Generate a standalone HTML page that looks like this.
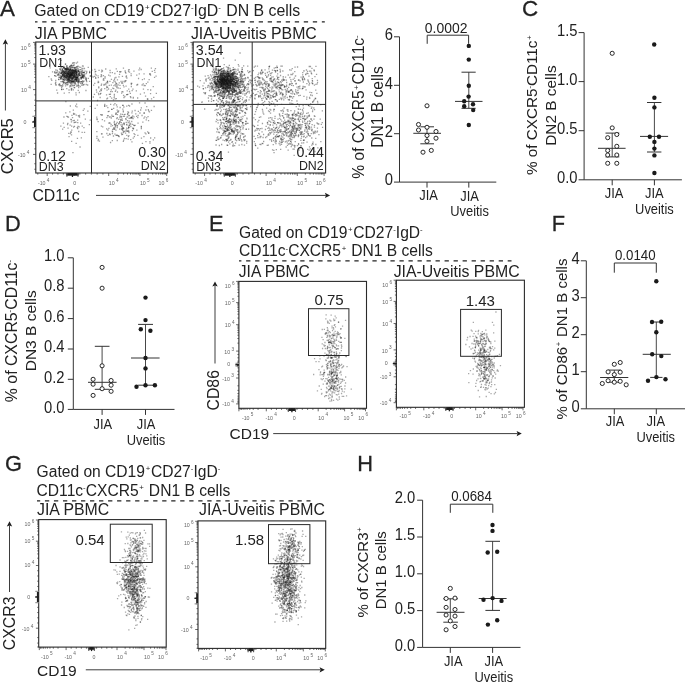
<!DOCTYPE html>
<html><head><meta charset="utf-8"><title>Figure</title>
<style>html,body{margin:0;padding:0;background:#fff;}body{width:685px;height:682px;overflow:hidden;font-family:"Liberation Sans", sans-serif;}svg{display:block;will-change:transform;}</style>
</head><body>
<svg width="685" height="682" viewBox="0 0 685 682" font-family='"Liberation Sans", sans-serif' fill="#222"><defs><filter id="bl" x="-5%" y="-5%" width="110%" height="110%"><feGaussianBlur stdDeviation="0.35"/></filter></defs><text x="0.10" y="15.60" font-size="22.4" stroke="#222" stroke-width="0.28">A</text>
<text font-size="15.85" transform="translate(34.30 15.80)">Gated on CD19<tspan dx="0.71" dy="-5.71" font-size="7.92">+</tspan><tspan dx="0.71" dy="5.71">CD27</tspan><tspan dx="0.00" dy="-5.71" font-size="7.92">-</tspan><tspan dx="0.00" dy="5.71">IgD</tspan><tspan dx="0.00" dy="-5.71" font-size="7.92">-</tspan><tspan dx="0.95" dy="5.71"> DN B cells</tspan></text>
<line x1="35.00" y1="21.80" x2="324.80" y2="21.80" stroke="#222" stroke-width="1.2" stroke-dasharray="4.3 4.72" stroke-dashoffset="1.8"/>
<text font-size="15.85" transform="translate(34.80 38.80)">JIA PBMC</text>
<text font-size="15.85" transform="translate(190.90 38.90)">JIA-Uveitis PBMC</text>
<g filter="url(#bl)"><path d="M49 65.1h1.3m22.7 0.2h1.3m-8.4 0.5h1.3m-0.9 0.2h1.3m9.6 0.1h1.3m-1 0.3h1.3m-2.6 0.5h1.3m-28 1h1.3m15.5 0.3h1.3m-0.3 0.5h1.3m86.2 0h1.3m-87.4 0.1h1.3m45.6 0.1h1.3m-11.8 0.1h1.3m-44.9 0h1.3m3.7 0.3h1.3m7.6 0.1h1.3m63.8 0.1h1.3m-74.4 0.1h1.3m59.8 0.1h1.3m-60.2 0h1.3m-9.4 0h1.3m12.7 0.2h1.3m-4.2 0h1.3m-4.7 0.1h1.3m11.6 0.1h1.3m7.9 0.1h1.3m61.3 0.1h1.3m-56.8 0h1.3m-28.4 0h1.3m0.5 0.2h1.3m-2.6 0h1.3m-11.8 0.1h1.3m11.2 0h1.3m-1.2 0.3h1.3m-5.4 0h1.3m3.3 0h1.3m-5.4 0.1h1.3m-6.1 0.1h1.3m7.1 0.2h1.3m-8.8 0h1.3m2.7 0.1h1.3m3.1 0h1.3m-11.4 0.1h1.3m-2.9 0.2h1.3m8.9 0h1.3m44.5 0h1.3m-45.8 0.1h1.3m-11.9 0.2h1.3m14.7 0h1.3m-8.6 0.2h1.3m-10.2 0.1h1.3m9.9 0h1.3m5.2 0h1.3m6.2 0.2h1.3m-31.2 0h1.3m15.7 0h1.3m-16.9 0.1h1.3m11.3 0h1.3m-5 0.1h1.3m4 0.1h1.3m-4.8 0.1h1.3m4.5 0h1.3m-6.2 0h1.3m-7.1 0h1.3m0.2 0.2h1.3m-13.5 0h1.3m11.7 0h1.3m-15.2 0.1h1.3m25 0.1h1.3m-4.6 0.1h1.3m-6.1 0h1.3m-0.1 0.1h1.3m-3.3 0.1h1.3m-5.5 0.1h1.3m2.7 0h1.3m-9 0.2h1.3m5.7 0h1.3m-2.6 0.1h1.3m6.5 0.3h1.3m-7.2 0.1h1.3m-1.6 0h1.3m-9.4 0.1h1.3m-1.2 0h1.3m7.1 0.1h1.3m-11.3 0.2h1.3m2.5 0.1h1.3m-4.7 0.1h1.3m10.3 0h1.3m0.9 0.1h1.3m-11.7 0h1.3m16.1 0.1h1.3m-11.1 0h1.3m-5.6 0.1h1.3m12 0.1h1.3m-4.9 0.1h1.3m-9.5 0h1.3m-17.6 0.1h1.3m8.3 0h1.3m-1.1 0.2h1.3m1.6 0.2h1.3m1.9 0h1.3m-1.4 0.1h1.3m-9.4 0h1.3m5.1 0h1.3m-5.7 0.1h1.3m24.5 0h1.3m-9.4 0h1.3m11 0.2h1.3m-31.6 0.1h1.3m8.6 0.2h1.3m7.1 0h1.3m-22.5 0.1h1.3m19.7 0h1.3m-14.6 0.1h1.3m55.7 0h1.3m-34.2 0.1h1.3m-18.2 0.1h1.3m3.3 0h1.3m-15.3 0h1.3m8.9 0.2h1.3m-11.9 0h1.3m86.8 0h1.3m-96.7 0h1.3m-0.1 0.1h1.3m4.5 0h1.3m30.9 0.2h1.3m-38.4 0.1h1.3m7.3 0.1h1.3m2.8 0h1.3m-14.1 0.1h1.3m13.8 0.1h1.3m-7.2 0.2h1.3m-1.8 0h1.3m17.2 0.1h1.3m-11.5 0h1.3m16.3 0h1.3m-27.8 0.3h1.3m-2.4 0.2h1.3m7.7 0.1h1.3m-0.4 0.2h1.3m-2.9 0.1h1.3m-13.3 0.4h1.3m1.1 0h1.3m8.8 0h1.3m-2.7 0.1h1.3m-7.5 0.1h1.3m33.3 0.3h1.3m-30.5 0.2h1.3m-11.7 0.2h1.3m5.6 0.2h1.3m10 0.1h1.3m-12.5 0h1.3m2.1 0.2h1.3m2.4 0h1.3m-4.4 0.1h1.3m1.5 0.1h1.3m-5.2 0.1h1.3m-2.9 0h1.3m2.2 0.1h1.3m29.9 0.1h1.3m6.4 0h1.3m-39.3 0.2h1.3m-5.7 0.4h1.3m-5 0.4h1.3m61.5 0.8h1.3m10.2 0.6h1.3m-76.6 0.2h1.3m6.6 0.3h1.3m38 0.2h1.3m-38.1 0.4h1.3m3.9 0h1.3m-25.9 0.1h1.3m63.1 0.2h1.3m-47.1 0.2h1.3m-5.7 0.3h1.3m-14.3 0.1h1.3m16.6 0.1h1.3m27.5 0.3h1.3m-1.5 1.2h1.3m-33.3 0h1.3m67.5 1.6h1.3m-81.4 0.2h1.3m8.7 0.5h1.3m-3.2 0.3h1.3m13.2 0.4h1.3m28.1 0.9h1.3m-19.9 0.7h1.3m-33.8 1.1h1.3m48.8 1.2h1.3m-9.1 0.5h1.3m45.9 2.5h1.3m-17.4 0.6h1.3m0.6 4.9h1.3m-43.6 2.3h1.3m8.2 0.6h1.3m-3.3 0.3h1.3m-29.1 0.7h1.3m62.4 3.2h1.3m-24.7 0.2h1.3m32.9 0.1h1.3m-29.4 1.5h1.3m24.8 0.1h1.3m-6.5 1.1h1.3m-72 0.3h1.3m52.7 1.2h1.3m-4.7 0.2h1.3m-17.3 1h1.3m4 0.6h1.3m-46.3 0.8h1.3m61.5 0.2h1.3m-12.6 0.4h1.3m-4 0h1.3m7.2 1h1.3m-5 0.1h1.3m-26.2 0.7h1.3m-27.1 0.4h1.3m1.7 0.6h1.3m52 0.2h1.3m9.1 2.4h1.3m-75.9 0.1h1.3m3.1 0.1h1.3m54.1 0.6h1.3m-5.9 0h1.3m10.7 0.1h1.3m-17.4 0.1h1.3m8.4 0.5h1.3m-4.7 0.2h1.3m-7 0.5h1.3m0.6 0.2h1.3m-7.4 0.6h1.3m9.7 0.4h1.3m7.6 0h1.3m-14.9 1h1.3m-34.6 0.1h1.3m37.4 0.2h1.3m-1 0.4h1.3m-56.2 0h1.3m39.5 0.2h1.3m31.2 0.1h1.3m-36 0.4h1.3m4.4 2.3h1.3m15.2 0h1.3m-2.3 0h1.3m-58.5 0.9h1.3m49.5 1h1.3m25.9 0.1h1.3m-53 3.3h1.3m43.2 1.7h1.3m-65.3 0.1h1.3m45.7 0.2h1.3m0.4 0.1h1.3m3.3 1h1.3" stroke="#000" stroke-opacity="0.38" stroke-width="1.3" fill="none"/><path d="M64.9 64.2h1.3m-7.2 0.1h1.3m13.2 0.5h1.3m-3.8 1h1.3m-6 0.3h1.3m-4.4 0.4h1.3m11.8 0.1h1.3m-8.8 0.2h1.3m-4.2 0.2h1.3m8.5 0.2h1.3m-4 0.1h1.3m5.8 0.1h1.3m6.2 0h1.3m-14.6 0.1h1.3m-5.9 0.2h1.3m-7.4 0.1h1.3m10.5 0.2h1.3m0.2 0.2h1.3m72.5 0h1.3m-87.4 0.5h1.3m-1 0h1.3m3.8 0.3h1.3m0.6 0.3h1.3m-3.2 0h1.3m-6 0h1.3m1 0.1h1.3m25.3 0.1h1.3m-26.9 0.1h1.3m-10.4 0h1.3m12.4 0.5h1.3m-10 0h1.3m8.3 0.1h1.3m-4.5 0.1h1.3m-6.3 0.1h1.3m5.8 0.2h1.3m2.7 0.2h1.3m-14.1 0.2h1.3m9.7 0.1h1.3m-5.7 0.1h1.3m-0.3 0h1.3m-5.7 0.2h1.3m-6.6 0h1.3m25.6 0h1.3m-26.3 0.1h1.3m29.2 0.4h1.3m-17.2 0.1h1.3m-8 0.1h1.3m2.5 0h1.3m-4.7 0h1.3m-5.9 0.2h1.3m6.7 0.1h1.3m5.6 0h1.3m-22.5 0.2h1.3m26.3 0h1.3m-26 0.3h1.3m1.7 0.1h1.3m-6.4 0.1h1.3m5.7 0h1.3m-1 0.1h1.3m-4.2 0.1h1.3m-8.3 0h1.3m14.8 0.1h1.3m-11.8 0.1h1.3m8.1 0h1.3m-1.3 0h1.3m-5.3 0.1h1.3m13.6 0.1h1.3m-26.2 0h1.3m2.1 0h1.3m14.2 0.1h1.3m57.8 0h1.3m3.5 0h1.3m-80.5 0.1h1.3m12.8 0.1h1.3m-11.6 0.2h1.3m14.7 0.1h1.3m-4.1 0.1h1.3m-12.2 0h1.3m1.7 0.2h1.3m-2.8 0h1.3m2.4 0.1h1.3m2.2 0h1.3m-12.3 0.1h1.3m-7.4 0.1h1.3m-5.7 0h1.3m25 0.1h1.3m-18.3 0.1h1.3m39.9 0h1.3m-38.2 0.2h1.3m10 0h1.3m-20.6 0h1.3m6.1 0h1.3m2.6 0.1h1.3m3.9 0.2h1.3m-12.1 0h1.3m-0.3 0.2h1.3m6.2 0.1h1.3m-8.2 0h1.3m1.3 0.2h1.3m9.8 0.2h1.3m36.4 0.1h1.3m-56.3 0.2h1.3m-19.9 0.1h1.3m28.2 0.2h1.3m39.3 0h1.3m-50.4 0.2h1.3m6.9 0h1.3m-0.9 0h1.3m-4.9 0.1h1.3m1.6 0.2h1.3m-2.7 0.1h1.3m18 0h1.3m-20 0.1h1.3m-12.1 0.1h1.3m-2 0h1.3m15.5 0h1.3m-12.9 0.1h1.3m-5.9 0.1h1.3m0.5 0.1h1.3m-0.6 0h1.3m1.9 0.1h1.3m-11 0h1.3m7.9 0h1.3m0 0h1.3m-1.2 0.1h1.3m-6.5 0h1.3m-1.8 0.1h1.3m-0.1 0h1.3m14.3 0h1.3m-12.7 0h1.3m2.5 0.1h1.3m-2.4 0.3h1.3m-15.8 0h1.3m-10.6 0.3h1.3m10.9 0.1h1.3m7.7 0.1h1.3m-1.7 0.1h1.3m-4.8 0h1.3m9.4 0h1.3m-4.9 0.1h1.3m1.3 0.1h1.3m-2.5 0.2h1.3m-3.1 0h1.3m-5.5 0.2h1.3m-3.9 0.1h1.3m-5.7 0h1.3m12.3 0.2h1.3m-11.3 0.3h1.3m57 0.1h1.3m-13.6 0.2h1.3m-46.5 0.1h1.3m1.9 0.3h1.3m50 0.1h1.3m-53.8 0h1.3m-0.6 0.4h1.3m0.7 0.2h1.3m8.6 0.3h1.3m-28.6 0.1h1.3m50.7 0.6h1.3m10.2 0h1.3m2.1 0.1h1.3m-49.1 0.1h1.3m-12.8 0.1h1.3m5.9 0h1.3m59.3 0.2h1.3m-58 0.1h1.3m-4.9 0.6h1.3m-16.1 1.1h1.3m46.6 0h1.3m-4 0.1h1.3m42.7 0.4h1.3m-75.9 0.3h1.3m54.1 0.2h1.3m-56.5 0.1h1.3m51.8 0.5h1.3m-55.5 0.1h1.3m27.7 0.9h1.3m-33.3 0.9h1.3m36.7 0h1.3m-44.4 0.6h1.3m37.8 0.6h1.3m5 0.3h1.3m-8.6 1.2h1.3m11.2 0.3h1.3m13.6 2.9h1.3m17.1 1.6h1.3m-22 0.3h1.3m-9.8 2.1h1.3m29.8 0.4h1.3m-16.8 5h1.3m-16.7 1h1.3m5.3 0.3h1.3m-54.1 0.7h1.3m57.9 0h1.3m23.3 0.5h1.3m-8.7 0.1h1.3m-6.7 1.3h1.3m-47.5 0.5h1.3m15.6 0.9h1.3m-30.1 1h1.3m33.6 1.6h1.3m9.1 0.6h1.3m-13.9 1.4h1.3m-42.6 0.1h1.3m44.7 0.1h1.3m-48.3 0.2h1.3m47.4 0.1h1.3m-6.2 0.2h1.3m19.4 0.9h1.3m-60.4 1.2h1.3m-0.8 0.4h1.3m-8.3 0.5h1.3m33.1 0.1h1.3m23.1 0.3h1.3m-6.6 1.5h1.3m-6.5 0.1h1.3m-44.5 0.6h1.3m69.6 0.5h1.3m-72.1 1.9h1.3m42.3 0.1h1.3m-42 0.4h1.3m42.4 0.5h1.3m-10.9 0.7h1.3m6.2 0.7h1.3m3.4 0.1h1.3m-10.8 0.8h1.3m-57.9 0.2h1.3m12.3 0.3h1.3m65.6 0.8h1.3m-65.3 0.4h1.3m44.6 0.2h1.3m-1.5 1h1.3m-9.8 0.3h1.3m-7.9 0.9h1.3m27.6 0.1h1.3m-25.6 1.8h1.3m-42.5 0.2h1.3m76.1 0.9h1.3m-24.5 0.2h1.3m-14.4 0.5h1.3m32.2 0.2h1.3m-24.7 0.5h1.3m-7.8 1h1.3m1.2 0.7h1.3m14.5 0.5h1.3m-2.4 1.5h1.3m-37.6 0.3h1.3m29.9 0.7h1.3m-31.3 1.5h1.3m23.9 0.8h1.3m21.3 0.2h1.3m-4.8 1.7h1.3m-63.7 3.7h1.3" stroke="#000" stroke-opacity="0.38" stroke-width="1.3" fill="none"/><path d="M60.6 60.3h1.3m15 1.8h1.3m-4.2 0.8h1.3m0.6 0.2h1.3m-7.4 3.1h1.3m-10 1h1.3m1 0.1h1.3m6.5 0.3h1.3m-0.6 0h1.3m-13 0.2h1.3m13.3 0.1h1.3m46.7 0.2h1.3m14.9 0h1.3m-74 0.1h1.3m-2.7 0.3h1.3m-2 0.2h1.3m-6.5 0.1h1.3m5.4 0.1h1.3m14.1 0h1.3m-16.3 0.4h1.3m8.1 0.1h1.3m2.4 0.2h1.3m-16.2 0h1.3m8.4 0.2h1.3m-8.4 0h1.3m2.9 0.1h1.3m-1.8 0h1.3m-2 0h1.3m-0.9 0h1.3m-0.8 0.1h1.3m3.5 0.1h1.3m51 0.1h1.3m-61.1 0h1.3m40 0.1h1.3m-36 0h1.3m2.1 0.4h1.3m-8.7 0h1.3m29.8 0.3h1.3m-21.5 0.1h1.3m-12.9 0h1.3m-8.3 0.1h1.3m4.9 0h1.3m1 0.1h1.3m-3.2 0.2h1.3m15.2 0h1.3m-16 0.1h1.3m47.6 0h1.3m-43.6 0.1h1.3m-4 0h1.3m-18.2 0.1h1.3m13.9 0h1.3m-6.6 0h1.3m-2.2 0.2h1.3m-3.6 0h1.3m-0.6 0.2h1.3m9.6 0h1.3m-5.8 0h1.3m-7.1 0h1.3m-12.1 0.2h1.3m52.6 0.1h1.3m-24.8 0h1.3m-4.2 0.1h1.3m27.3 0.1h1.3m-59 0h1.3m14.1 0h1.3m-4.1 0.1h1.3m-4.3 0.1h1.3m10.8 0h1.3m-4.4 0.1h1.3m-10.6 0h1.3m2.5 0.1h1.3m-5.2 0h1.3m14.1 0.1h1.3m-14.9 0.1h1.3m2 0.1h1.3m2.1 0h1.3m-15.5 0h1.3m9.6 0.1h1.3m44.5 0h1.3m-37.1 0.1h1.3m69.9 0.4h1.3m-69.6 0h1.3m-6.1 0.2h1.3m-7.2 0.1h1.3m-9.3 0.2h1.3m4.8 0h1.3m0.8 0.1h1.3m-3.9 0h1.3m3.9 0.1h1.3m-17 0.1h1.3m7.4 0h1.3m2.3 0.3h1.3m5 0h1.3m-6.2 0.1h1.3m-6.7 0.1h1.3m3.4 0h1.3m-12.2 0.1h1.3m10.8 0.2h1.3m1.2 0h1.3m-3.5 0h1.3m6.3 0.1h1.3m-15.9 0.1h1.3m6.7 0h1.3m-9.1 0.2h1.3m11.1 0h1.3m-9.2 0h1.3m-0.4 0.3h1.3m-8 0.2h1.3m2.9 0.1h1.3m-0.9 0.1h1.3m34.4 0h1.3m-43.2 0.1h1.3m18.2 0h1.3m-19.2 0h1.3m1 0.1h1.3m15.7 0.1h1.3m-21.9 0h1.3m3 0.1h1.3m-2.7 0h1.3m6.1 0.3h1.3m2.3 0h1.3m-4.1 0h1.3m-1.8 0.3h1.3m-3.1 0.2h1.3m53.3 0.1h1.3m-58.5 0.1h1.3m6.7 0h1.3m-14.6 0.2h1.3m15.9 0.1h1.3m-22.2 0.5h1.3m3.6 0h1.3m-4.7 0.1h1.3m5.9 0.2h1.3m-12 0.1h1.3m15.7 0h1.3m65.5 0.4h1.3m-75.9 0h1.3m34.1 0.1h1.3m-38.5 0.1h1.3m9.4 0.4h1.3m8.3 0.3h1.3m-17.2 0.1h1.3m6.7 0.1h1.3m-6.2 0.3h1.3m50.6 0h1.3m-42.7 0.1h1.3m-12.8 0h1.3m4 0.1h1.3m0.2 0.2h1.3m-12 0h1.3m1.3 0.3h1.3m-9 0h1.3m14.8 0h1.3m-5.6 0.2h1.3m-9.2 0.3h1.3m-3.7 0.2h1.3m11.4 0.1h1.3m-0.3 0h1.3m26.8 0.1h1.3m-44.2 0h1.3m1.6 0.2h1.3m3.2 0.1h1.3m22.1 0.3h1.3m-20.6 0h1.3m3.9 0.1h1.3m0.3 0h1.3m-5.1 0.1h1.3m-7.8 1.2h1.3m9.1 0.3h1.3m-9.6 0.1h1.3m6 0.1h1.3m37.3 0.1h1.3m-42.3 0.4h1.3m33.7 0h1.3m1.6 0.4h1.3m-0.9 0.1h1.3m34.7 0.4h1.3m-55.8 0.3h1.3m-38.4 0.8h1.3m55.2 0.3h1.3m0.7 0.4h1.3m-12.9 0.6h1.3m23.1 0.1h1.3m-77.5 1h1.3m43.3 0.6h1.3m33.7 0.1h1.3m-10.4 0.1h1.3m-5.6 1h1.3m-66.7 1.1h1.3m41.5 1h1.3m7.7 0.3h1.3m-10.5 3.2h1.3m12.7 0.1h1.3m36.1 1.2h1.3m-39.4 1h1.3m30.3 3.2h1.3m-41.6 1.5h1.3m22.5 0.9h1.3m-12.6 1.4h1.3m5.3 0.2h1.3m-2.3 2.1h1.3m-12.5 0.2h1.3m32.9 0.7h1.3m-12.1 0.5h1.3m-48.5 0.7h1.3m19.1 0.5h1.3m-39.7 0.2h1.3m-5.4 1h1.3m77 0.2h1.3m-20.3 1.2h1.3m-25.7 0.4h1.3m-0.1 0.3h1.3m9.6 1.3h1.3m30.8 0.6h1.3m-49.4 0.3h1.3m39.7 0.5h1.3m7.6 0.2h1.3m-4 0.2h1.3m-28.4 0.5h1.3m0.6 0.7h1.3m9.4 1.9h1.3m-11.1 0.5h1.3m-0.7 0.1h1.3m-45.6 0.3h1.3m65.6 0h1.3m-20.2 0.8h1.3m-35.9 1.8h1.3m43 0.5h1.3m-64.8 0h1.3m63.7 0.2h1.3m-35 0.8h1.3m12.7 0.1h1.3m24.6 0.1h1.3m-20.7 0.3h1.3m-49.6 0.5h1.3m46.6 1.8h1.3m-9.2 0.1h1.3m4.7 0.1h1.3m-5 0.9h1.3m-32.7 2.2h1.3m43.1 0.2h1.3m-61.5 0.8h1.3m0.4 0.3h1.3m37.8 0.4h1.3m10.9 0.5h1.3m11.9 0.2h1.3m-17.9 0.9h1.3m-6.2 0.4h1.3m4.4 0.5h1.3m-3.2 4h1.3m-42.4 2.8h1.3m-4.5 9.4h1.3" stroke="#000" stroke-opacity="0.38" stroke-width="1.3" fill="none"/><path d="M72.2 62.9h1.3m-1.6 0.6h1.3m-1.9 2.2h1.3m-2.5 0.1h1.3m-2.4 0.5h1.3m1.3 0.8h1.3m-6 0.5h1.3m5.6 0.1h1.3m-12.2 0.3h1.3m9.8 0.1h1.3m-8 0.7h1.3m-1.1 0.1h1.3m-3.7 0.1h1.3m-1.2 0.1h1.3m3.4 0.5h1.3m-4.5 0h1.3m3.9 0.2h1.3m-7.1 0.1h1.3m3.4 0.2h1.3m5.6 0.1h1.3m-8.5 0.7h1.3m0.8 0h1.3m50.6 0.1h1.3m-57.1 0h1.3m5.8 0.1h1.3m-12.1 0.1h1.3m18.1 0h1.3m-8 0.1h1.3m-3.3 0.1h1.3m39.7 0h1.3m-40.5 0h1.3m-4.4 0.1h1.3m-7.4 0.1h1.3m58.3 0h1.3m-66.7 0.2h1.3m-2.7 0h1.3m38.5 0.1h1.3m-28.5 0h1.3m-13.8 0.1h1.3m6.8 0h1.3m58.3 0.1h1.3m-66.5 0h1.3m10.5 0.1h1.3m-7.5 0h1.3m3.7 0h1.3m-13.6 0.1h1.3m7.2 0h1.3m11.8 0h1.3m-9.1 0.1h1.3m-1.3 0.1h1.3m-6.5 0.1h1.3m3 0h1.3m-3.3 0.3h1.3m-2.6 0h1.3m-7.6 0.1h1.3m9.3 0.1h1.3m48 0h1.3m-52 0.1h1.3m-4 0h1.3m-1.2 0.1h1.3m0.6 0h1.3m-14.3 0.2h1.3m4.9 0h1.3m4.7 0h1.3m-13.8 0.1h1.3m12.3 0h1.3m-4 0h1.3m3.3 0.2h1.3m-2.8 0.1h1.3m-4.5 0.2h1.3m-1.3 0h1.3m-2.2 0.4h1.3m-4.9 0.1h1.3m2.1 0h1.3m-2.9 0h1.3m-3.2 0.2h1.3m-0.7 0.1h1.3m-11.8 0.1h1.3m91.8 0.1h1.3m-50.3 0h1.3m33.9 0.1h1.3m-56.3 0h1.3m-10.1 0h1.3m-3.7 0h1.3m7.4 0.1h1.3m-16.2 0h1.3m-0.5 0.1h1.3m5.9 0h1.3m10.1 0.2h1.3m-14.4 0h1.3m-7.4 0h1.3m9.4 0.1h1.3m-6.8 0h1.3m4.9 0h1.3m-12.6 0.1h1.3m60.5 0.2h1.3m-65 0h1.3m5.5 0.1h1.3m-9 0.2h1.3m10.5 0.1h1.3m-10.1 0h1.3m-0.1 0.1h1.3m1 0h1.3m-1.2 0h1.3m3.2 0.1h1.3m-12.6 0h1.3m38.6 0.1h1.3m-1.9 0h1.3m-25.2 0.1h1.3m-7.2 0.1h1.3m-3.1 0h1.3m-1.5 0.2h1.3m5.5 0h1.3m-3.8 0.1h1.3m8.7 0h1.3m-25.6 0h1.3m5 0.1h1.3m10.3 0.1h1.3m-6 0h1.3m3.7 0.1h1.3m2.4 0.1h1.3m-9.8 0h1.3m2.1 0h1.3m-1 0h1.3m8.2 0.1h1.3m-14.1 0.3h1.3m30.8 0h1.3m-35 0h1.3m-6.1 0h1.3m4.5 0.6h1.3m-12.8 0.2h1.3m82.2 0h1.3m-66.8 0.2h1.3m0.9 0.2h1.3m-18.9 0h1.3m21.3 0.1h1.3m-28.5 0.2h1.3m2.8 0.1h1.3m6.9 0h1.3m42 0h1.3m-40.9 0.1h1.3m-10.6 0.1h1.3m9 0.2h1.3m-5.1 0h1.3m2.8 0.1h1.3m-9.3 0.1h1.3m-1.4 0.1h1.3m-17.6 0.1h1.3m2.7 0.1h1.3m13.2 0.3h1.3m5.2 0.4h1.3m20.2 0.1h1.3m8.1 0h1.3m1 0.1h1.3m-48.4 0.1h1.3m-2 0.1h1.3m8.2 0.1h1.3m5.6 0.3h1.3m-6.7 0h1.3m73.4 0.1h1.3m-50.5 0.1h1.3m-36.1 0.3h1.3m6.1 0.1h1.3m1.3 0h1.3m7.2 0.4h1.3m38 0h1.3m-67.5 0.4h1.3m89.6 0.3h1.3m-82.4 0.5h1.3m-7.6 0.1h1.3m23.7 0h1.3m52.4 0.2h1.3m-76.2 0.1h1.3m41.7 0h1.3m11.1 0.2h1.3m-51.9 0h1.3m73.3 0.2h1.3m-32.1 0.1h1.3m-3.4 0.2h1.3m33.6 0.2h1.3m-84.1 0.2h1.3m2.9 0.1h1.3m-4.1 0h1.3m12.5 0.2h1.3m2.4 0.6h1.3m49.8 0.1h1.3m-15.8 0.9h1.3m-4.4 1h1.3m32.9 1h1.3m-71 0.7h1.3m42.5 1.3h1.3m-54.2 1.1h1.3m59.9 0.7h1.3m8.8 0.8h1.3m-15.1 0.4h1.3m-4.4 0.9h1.3m-31.5 1.5h1.3m36.2 0.5h1.3m-24.6 0.7h1.3m6.3 0.7h1.3m-11.8 7.1h1.3m-30.3 0h1.3m30.9 1.7h1.3m39.2 2h1.3m-1 1.1h1.3m-22.1 1.1h1.3m-11.4 0.1h1.3m20.9 1h1.3m-69.3 2.3h1.3m55.5 0.2h1.3m12 0h1.3m-65 0.1h1.3m49.7 0.1h1.3m2.1 0.1h1.3m-13.1 0.5h1.3m-55.4 0.1h1.3m42.8 0.4h1.3m19.9 1h1.3m-22.2 0.4h1.3m33.7 1.6h1.3m-26.6 0.3h1.3m-1.4 0.3h1.3m-49 0.3h1.3m23.7 1h1.3m26.8 0.7h1.3m-10.4 0h1.3m-44.3 0.2h1.3m40.3 2.3h1.3m12.3 0.2h1.3m-1.7 0.6h1.3m-27.5 1.2h1.3m24.8 0.6h1.3m-6.4 0.9h1.3m-47.3 0.2h1.3m47.2 1.4h1.3m-55.8 0.2h1.3m49.4 0h1.3m-1.1 0.3h1.3m1.9 0.7h1.3m-48.4 0.3h1.3m43.9 0h1.3m-28.4 0.1h1.3m46.9 1.3h1.3m-12.3 0.7h1.3m-25.2 0.9h1.3m-39.9 0.3h1.3m54 0.6h1.3m0.7 0.3h1.3m20.5 2.3h1.3m-80.3 3.3h1.3m37.6 1.2h1.3m38.1 0.7h1.3" stroke="#000" stroke-opacity="0.38" stroke-width="1.3" fill="none"/><path d="M64.8 64.1h1.3m4.6 0.7h1.3m0.3 1.1h1.3m-3.3 0h1.3m10.3 0.1h1.3m-0.6 0.1h1.3m-5.2 1.1h1.3m-8.9 0.7h1.3m-9.1 0.2h1.3m12.9 0.7h1.3m-14.2 0.1h1.3m-0.2 0.1h1.3m10.2 0.6h1.3m-3.5 0.1h1.3m62.1 0.1h1.3m-77.9 0h1.3m-7.9 0.2h1.3m44.6 0.1h1.3m-26 0.4h1.3m-4.9 0h1.3m-17.4 0h1.3m9.3 0h1.3m0.4 0.3h1.3m4 0h1.3m-3.4 0h1.3m-10.6 0.2h1.3m-2.3 0h1.3m2.4 0h1.3m66.4 0.1h1.3m-61.2 0h1.3m20.4 0.2h1.3m55.2 0h1.3m-84.8 0h1.3m-15.3 0.3h1.3m10.3 0h1.3m-15.1 0.2h1.3m13.3 0.4h1.3m-11.1 0h1.3m13.6 0.1h1.3m1 0h1.3m-5 0h1.3m-7.7 0.2h1.3m-2.8 0h1.3m-2.2 0.2h1.3m5.5 0h1.3m1.6 0h1.3m6.7 0.1h1.3m-11.5 0.2h1.3m-6.6 0h1.3m0.8 0.2h1.3m-4.2 0h1.3m8.2 0.1h1.3m-4.9 0h1.3m0.2 0.1h1.3m-3 0h1.3m1.2 0h1.3m-2.3 0.1h1.3m1.4 0.1h1.3m56.5 0.2h1.3m-60.5 0h1.3m-10 0.1h1.3m7.6 0h1.3m6.2 0h1.3m-9.7 0.1h1.3m-4.7 0h1.3m80.5 0h1.3m-81.9 0.1h1.3m-0.6 0h1.3m-4.6 0h1.3m-5.1 0.1h1.3m4.2 0.1h1.3m7.2 0h1.3m-3.9 0.1h1.3m-7.5 0.2h1.3m9.6 0h1.3m2.9 0.1h1.3m-21 0.2h1.3m6.5 0.1h1.3m1.7 0.2h1.3m-11.1 0h1.3m16.7 0.1h1.3m-16.8 0.3h1.3m-5.3 0h1.3m10.2 0h1.3m-12.9 0h1.3m67.2 0h1.3m-55.3 0.1h1.3m-23.7 0h1.3m14 0.1h1.3m1.3 0h1.3m24.1 0h1.3m10.8 0.1h1.3m-47.3 0h1.3m3.7 0.2h1.3m21.3 0.1h1.3m-10.7 0.1h1.3m-17.5 0.1h1.3m-11.5 0h1.3m17.8 0.1h1.3m-0.2 0h1.3m-0.3 0.1h1.3m-11.1 0h1.3m4.2 0h1.3m-1.5 0h1.3m2.4 0.2h1.3m-12.7 0h1.3m7.5 0h1.3m0.5 0.1h1.3m-8.5 0h1.3m13.5 0h1.3m-7.8 0.1h1.3m-17.1 0h1.3m6.2 0.2h1.3m6 0.1h1.3m4.9 0.1h1.3m32.8 0.1h1.3m-47.1 0h1.3m11.1 0.1h1.3m-12 0.3h1.3m-2.3 0.1h1.3m4.1 0h1.3m37.1 0.1h1.3m-42.7 0h1.3m1.5 0.1h1.3m-12.4 0h1.3m6.5 0.1h1.3m-5.1 0h1.3m10.9 0.2h1.3m-14.1 0.3h1.3m1.6 0.1h1.3m13.3 0.1h1.3m24.3 0.3h1.3m-45.1 0.3h1.3m80.2 0h1.3m-74.1 0h1.3m-5 0.1h1.3m-10.4 0h1.3m21.5 0.2h1.3m29.8 0h1.3m-49.8 0.1h1.3m-0.8 0.4h1.3m2.6 0h1.3m-1.7 0.1h1.3m-0.9 0.3h1.3m2 0.2h1.3m5.1 0.4h1.3m5.2 0h1.3m-12 0.1h1.3m-6.1 0.1h1.3m6.1 0h1.3m-2 0.1h1.3m-14.5 0h1.3m0.4 0.1h1.3m10.1 0.1h1.3m-7.4 0.3h1.3m37 0.4h1.3m-46.6 0h1.3m3.8 0.6h1.3m31.9 0.1h1.3m-41.6 0.1h1.3m49.9 0.6h1.3m-66.9 0.4h1.3m33.8 0.1h1.3m43.8 0.2h1.3m4.2 0.3h1.3m-63.7 0.4h1.3m-3.6 0.3h1.3m42.4 0.3h1.3m-55.2 0.4h1.3m15.4 1.1h1.3m-5.9 0.2h1.3m-4.1 1.2h1.3m56.2 0.3h1.3m-58.5 0.3h1.3m77.8 0.5h1.3m-55.5 0h1.3m-28.7 0h1.3m45.5 0.1h1.3m15 0.6h1.3m-3.9 0.8h1.3m-20.2 0.1h1.3m-32.6 0.9h1.3m-4.7 0.3h1.3m67.1 0.1h1.3m-47.1 0.4h1.3m10.6 0.9h1.3m-17.3 0.1h1.3m32.1 0h1.3m-18.8 0.1h1.3m-12.9 0.2h1.3m-23.9 0.3h1.3m32.8 1.8h1.3m12.4 0.9h1.3m-13.6 0.6h1.3m-6.1 0.7h1.3m39.7 0.3h1.3m-51.6 1.3h1.3m16.1 3.1h1.3m6.4 1.8h1.3m-33.7 1h1.3m17.5 4.9h1.3m21.6 1.5h1.3m-5.5 0.9h1.3m-26.9 1.2h1.3m4.1 1h1.3m11.1 0.2h1.3m2.1 0.3h1.3m-0.2 0h1.3m-58.1 0.4h1.3m65 0.1h1.3m-3.2 0.1h1.3m-11.8 0h1.3m-13.4 0h1.3m18.4 1.4h1.3m-45.1 0.8h1.3m-15.7 0.2h1.3m30.1 0.3h1.3m0.9 1.2h1.3m8.6 0.5h1.3m-44.3 0.5h1.3m46.8 0.6h1.3m-6.6 0.2h1.3m14.2 0.3h1.3m-21 0.1h1.3m7.8 0.4h1.3m12 0.9h1.3m-66.2 0.1h1.3m65.5 1.1h1.3m-53.4 0.6h1.3m-5.5 0.3h1.3m35.7 0.8h1.3m12.4 0.1h1.3m2.6 0.8h1.3m-1.1 0.2h1.3m-0.9 0.4h1.3m-71.9 0.4h1.3m64.2 1.8h1.3m-1.7 0.2h1.3m-2 0.1h1.3m19.3 0.5h1.3m-66.8 0.5h1.3m39.8 0.3h1.3m-17.7 0.9h1.3m-6.1 0.4h1.3m11.6 0.3h1.3m-8.2 1.1h1.3m7.9 0h1.3m25.4 1.3h1.3m-42.3 0.5h1.3m-22.9 0.7h1.3m15.8 1.5h1.3m32.2 2.5h1.3" stroke="#000" stroke-opacity="0.38" stroke-width="1.3" fill="none"/><path d="M72.9 62.8h1.3m-10.9 4.6h1.3m4.7 0h1.3m-7.7 0h1.3m3.6 0.6h1.3m13.1 0.4h1.3m-10 0h1.3m-7.8 0.1h1.3m1.4 0h1.3m12.8 0h1.3m-15.4 0.2h1.3m-6.6 0.3h1.3m0.3 0h1.3m1.9 0.1h1.3m-10.6 0.1h1.3m0.7 0h1.3m2.2 0.1h1.3m13.4 0.4h1.3m-13.1 0h1.3m-0.1 0.2h1.3m-2 0.1h1.3m4 0.2h1.3m-0.6 0.1h1.3m-13.6 0.1h1.3m8.2 0.1h1.3m-4.2 0.2h1.3m-10.4 0.1h1.3m11.6 0.2h1.3m3.8 0.1h1.3m1.5 0h1.3m-20.8 0.1h1.3m5.6 0.1h1.3m8.4 0h1.3m-4.2 0h1.3m-2.8 0.2h1.3m1.3 0.1h1.3m-1.6 0.2h1.3m1.8 0h1.3m-8.7 0.2h1.3m-1.9 0.2h1.3m47.3 0h1.3m4 0.1h1.3m28.2 0h1.3m-74.2 0.2h1.3m0.4 0h1.3m-11.9 0.1h1.3m0.4 0.3h1.3m-5.9 0h1.3m12.6 0h1.3m-10.9 0.2h1.3m-1.6 0h1.3m-4.4 0.1h1.3m-0.6 0h1.3m-5.4 0h1.3m-3.5 0.1h1.3m1.4 0h1.3m-8 0.1h1.3m0.8 0.1h1.3m5.2 0.3h1.3m-1.2 0.1h1.3m-0.6 0.1h1.3m-4.6 0.1h1.3m-10.1 0h1.3m7.3 0h1.3m7.6 0.1h1.3m-5.6 0h1.3m22.1 0h1.3m-27.8 0.1h1.3m49.3 0h1.3m-53.7 0h1.3m1.5 0.1h1.3m-6.7 0h1.3m6 0h1.3m1.9 0h1.3m-9.4 0.1h1.3m-5.8 0h1.3m4.4 0.1h1.3m-3 0.1h1.3m-5.3 0h1.3m12.9 0.1h1.3m-6.6 0h1.3m28.5 0h1.3m-30.1 0.1h1.3m-2.1 0h1.3m-5.1 0h1.3m2 0.1h1.3m-6.7 0h1.3m2.5 0.1h1.3m-11.5 0h1.3m35.7 0.1h1.3m-18.4 0h1.3m-11.4 0.1h1.3m-2 0.1h1.3m-3.9 0.1h1.3m5.1 0h1.3m-6.4 0h1.3m1.5 0.1h1.3m32.3 0h1.3m-14.3 0.2h1.3m-30.2 0.1h1.3m4.4 0h1.3m2.5 0.2h1.3m83.7 0.1h1.3m-74.4 0.1h1.3m-10.1 0h1.3m-4.4 0h1.3m2 0h1.3m-11.7 0.1h1.3m10.2 0.2h1.3m-6.6 0h1.3m-1.9 0.1h1.3m3.6 0.1h1.3m-14.8 0h1.3m-0.8 0.3h1.3m18.9 0.1h1.3m-22 0.2h1.3m1.5 0h1.3m3.4 0.1h1.3m1.1 0.1h1.3m-1.6 0h1.3m5.1 0h1.3m-8.6 0.1h1.3m4.3 0.1h1.3m3.6 0.1h1.3m-4.7 0.1h1.3m-6.1 0.1h1.3m4 0.1h1.3m-5.2 0h1.3m-7.6 0.1h1.3m17.9 0h1.3m-12 0.1h1.3m61.7 0.1h1.3m-67.6 0h1.3m-1.5 0.1h1.3m-5.2 0h1.3m-2.5 0h1.3m35.3 0h1.3m-32 0.1h1.3m2.9 0.2h1.3m-3.8 0.2h1.3m-6.7 0.2h1.3m3.4 0.4h1.3m1.1 0.2h1.3m-7.9 0.1h1.3m-1.4 0.4h1.3m3.6 0.1h1.3m3.4 0.2h1.3m-13.7 0h1.3m56.7 0.4h1.3m-53 0.3h1.3m-2.3 0h1.3m47.7 0.1h1.3m-59.5 0h1.3m22.6 0h1.3m-18.9 0.1h1.3m-9.5 0h1.3m19.3 0.1h1.3m41.9 0.2h1.3m-56 0.6h1.3m-4.9 0.1h1.3m30.3 0.1h1.3m16.3 0.1h1.3m-0.7 0.7h1.3m-57.9 0.5h1.3m40.6 0.2h1.3m1.4 0.3h1.3m-49.7 0h1.3m9.5 0h1.3m19.7 0.5h1.3m4.7 0.2h1.3m-34.9 0h1.3m8.7 0.4h1.3m36.3 1.8h1.3m3.8 0.8h1.3m-42.3 0.3h1.3m28.5 0.5h1.3m-41.2 0.5h1.3m48.3 0.4h1.3m4.9 2.1h1.3m2.9 1.1h1.3m-22.1 0.3h1.3m54.2 0h1.3m-7.1 0.3h1.3m-37.5 2.3h1.3m14.8 0.6h1.3m1.6 0.7h1.3m-1.4 0.7h1.3m-68.7 3.6h1.3m9.4 2.6h1.3m32.8 0.1h1.3m1.9 0.6h1.3m11.6 1.3h1.3m-7.9 1.3h1.3m-7.8 0.9h1.3m-30.7 0.5h1.3m-12.2 1.3h1.3m44 0.6h1.3m3.3 0.1h1.3m7.7 0.3h1.3m4.8 0.2h1.3m-23.5 1.6h1.3m18.3 0.8h1.3m-21.2 0.5h1.3m-33.2 0.3h1.3m-9 0.6h1.3m34.3 0h1.3m-33.6 0.3h1.3m55.8 0.9h1.3m10.1 0.3h1.3m-21.7 0.1h1.3m-65 0.2h1.3m61.7 0.2h1.3m2.2 0.8h1.3m1.3 0.7h1.3m-37.4 0.1h1.3m-8 1.3h1.3m30.8 0.2h1.3m8.1 1.2h1.3m-58 0.9h1.3m51.9 0.1h1.3m-20.1 0.4h1.3m-1.9 0.3h1.3m6.3 0.5h1.3m-6.6 0.7h1.3m14.2 0h1.3m1.7 0.8h1.3m-18.4 0.4h1.3m-42.2 0.6h1.3m6.2 0.7h1.3m48.2 0.3h1.3m-65.8 0.1h1.3m48.2 0.7h1.3m11.7 0.1h1.3m-13.9 0.1h1.3m18.2 0.3h1.3m-6.7 0.1h1.3m-14.7 0.2h1.3m6.2 0.2h1.3m-10.9 0.4h1.3m18.5 1.2h1.3m-9.7 0.9h1.3m-23.8 2.4h1.3m14.1 1.2h1.3m19.6 0.2h1.3m-70.1 1.4h1.3m58.1 0h1.3m24.9 1.1h1.3m-2.6 2.1h1.3m-31 0.2h1.3m-12.6 0.6h1.3m-14.2 0.5h1.3m49.2 0.5h1.3" stroke="#000" stroke-opacity="0.38" stroke-width="1.3" fill="none"/></g>
<path d="M33.00 42.40H35.80M33.00 64.10H35.80M33.00 89.60H35.80M33.00 121.30H35.80M33.00 154.40H35.80M34.30 57.57H35.80M34.30 53.75H35.80M34.30 51.04H35.80M34.30 48.93H35.80M34.30 47.21H35.80M34.30 45.76H35.80M34.30 44.50H35.80M34.30 43.39H35.80M34.30 81.92H35.80M34.30 77.43H35.80M34.30 74.25H35.80M34.30 71.78H35.80M34.30 69.76H35.80M34.30 68.05H35.80M34.30 66.57H35.80M34.30 65.27H35.80M34.30 94.88H35.80M34.30 100.17H35.80M34.30 105.45H35.80M34.30 110.73H35.80M34.30 116.02H35.80M34.30 117.50H35.80M34.30 118.79H35.80M34.30 120.07H35.80M34.30 121.36H35.80M34.30 122.64H35.80M34.30 123.93H35.80M34.30 125.21H35.80M34.30 126.50H35.80M34.30 126.82H35.80M34.30 132.33H35.80M34.30 137.85H35.80M34.30 143.37H35.80M34.30 148.88H35.80M34.30 163.76H35.80M34.30 169.24H35.80M47.20 173.00V176.00M74.10 173.00V176.00M108.70 173.00V176.00M139.90 173.00V176.00M166.70 173.00V176.00M37.81 173.00V174.60M52.58 173.00V174.60M57.96 173.00V174.60M63.34 173.00V174.60M68.72 173.00V174.60M66.40 173.00V174.60M67.74 173.00V174.60M69.09 173.00V174.60M70.43 173.00V174.60M71.78 173.00V174.60M73.12 173.00V174.60M74.47 173.00V174.60M75.81 173.00V174.60M77.16 173.00V174.60M78.50 173.00V174.60M79.87 173.00V174.60M85.63 173.00V174.60M91.40 173.00V174.60M97.17 173.00V174.60M102.93 173.00V174.60M118.09 173.00V174.60M123.59 173.00V174.60M127.48 173.00V174.60M130.51 173.00V174.60M132.98 173.00V174.60M135.07 173.00V174.60M136.88 173.00V174.60M138.47 173.00V174.60M147.97 173.00V174.60M152.69 173.00V174.60M156.04 173.00V174.60M158.63 173.00V174.60M160.75 173.00V174.60M162.55 173.00V174.60M164.10 173.00V174.60M165.47 173.00V174.60" stroke="#444" stroke-width="0.8" fill="none"/>
<text x="20.70" y="49.90" font-size="5.3" fill="#666">10<tspan dx="1.3" dy="-3.2" font-size="4.7">6</tspan></text>
<text x="20.70" y="66.80" font-size="5.3" fill="#666">10<tspan dx="1.3" dy="-3.2" font-size="4.7">5</tspan></text>
<text x="21.00" y="92.30" font-size="5.3" fill="#666">10<tspan dx="1.3" dy="-3.2" font-size="4.7">4</tspan></text>
<text x="23.60" y="123.80" font-size="5.3" fill="#666">0</text>
<text x="17.90" y="157.00" font-size="5.3" fill="#666">-10<tspan dx="1.3" dy="-3.2" font-size="4.7">4</tspan></text>
<text x="37.90" y="185.00" font-size="5.3" fill="#666">-10<tspan dx="1.3" dy="-3.2" font-size="4.7">4</tspan></text>
<text x="73.30" y="185.00" font-size="5.3" fill="#666">0</text>
<text x="108.70" y="185.00" font-size="5.3" fill="#666">10<tspan dx="1.3" dy="-3.2" font-size="4.7">4</tspan></text>
<text x="139.90" y="185.00" font-size="5.3" fill="#666">10<tspan dx="1.3" dy="-3.2" font-size="4.7">5</tspan></text>
<text x="158.50" y="185.00" font-size="5.3" fill="#666">10<tspan dx="1.3" dy="-3.2" font-size="4.7">6</tspan></text>
<rect x="35.80" y="42.00" width="131.70" height="131.00" fill="none" stroke="#2a2a2a" stroke-width="1.1"/>
<path d="M34.00 116.00H35.80V128.00H34.00Z" fill="#1e1e1e"/>
<path d="M32.40 116.40H35.80M32.40 127.60H35.80" stroke="#999" stroke-width="1.1" fill="none"/>
<path d="M32.20 122.00H35.80" stroke="#1e1e1e" stroke-width="1.3" fill="none"/>
<path d="M66.40 173.00V175.70H78.50V173.00Z" fill="#1e1e1e"/>
<path d="M66.90 173.00V176.80M78.00 173.00V176.80" stroke="#555" stroke-width="1.1" fill="none"/>
<path d="M72.45 173.00V177.00" stroke="#1e1e1e" stroke-width="1.3" fill="none"/>
<line x1="91.50" y1="42.00" x2="91.50" y2="173.00" stroke="#2a2a2a" stroke-width="1.0"/>
<line x1="35.80" y1="100.90" x2="167.50" y2="100.90" stroke="#2a2a2a" stroke-width="1.0"/>
<text font-size="14.2" transform="translate(38.40 54.90)">1.93</text>
<text font-size="12.4" transform="translate(39.20 66.80)">DN1</text>
<text font-size="14.2" transform="translate(38.40 160.60)">0.12</text>
<text font-size="12.4" transform="translate(38.80 170.80)">DN3</text>
<text font-size="14.2" text-anchor="end" transform="translate(165.90 157.40)">0.30</text>
<text font-size="12.4" text-anchor="end" transform="translate(165.60 170.00)">DN2</text>
<g filter="url(#bl)"><path d="M268.4 66.7h1.3m7 0.6h1.3m-3 0.3h1.3m-43.7 0h1.3m-5.8 1.4h1.3m8 0.2h1.3m-20.9 0h1.3m1.2 0.2h1.3m10.8 0.2h1.3m1.6 0.3h1.3m27.8 0h1.3m24.8 0.2h1.3m-20 0h1.3m0.7 0.3h1.3m-14.2 0.1h1.3m-43.2 0.2h1.3m2.9 0.1h1.3m84.4 0.4h1.3m-96.4 0.2h1.3m12.6 0h1.3m12.4 0.5h1.3m-21.4 0.1h1.3m6 1h1.3m76.6 0.1h1.3m-80.4 0.2h1.3m0.7 0h1.3m-8.3 0.3h1.3m-0.7 0h1.3m-2.1 0.1h1.3m8.9 0.1h1.3m-11.9 0.5h1.3m92.8 0.1h1.3m-77.4 0.2h1.3m16.4 0.1h1.3m-33 0.1h1.3m0.9 0.1h1.3m-9.6 0h1.3m23 0.1h1.3m-31.7 0h1.3m12.3 0.3h1.3m0.2 0h1.3m2.3 0.1h1.3m-13.3 0.1h1.3m7.5 0.2h1.3m0.6 0.1h1.3m2.7 0.1h1.3m-2.1 0.2h1.3m-14.1 0h1.3m-5.6 0h1.3m21.5 0.3h1.3m-11 0.1h1.3m-4 0.1h1.3m85.5 0h1.3m-89.6 0h1.3m-9.4 0.1h1.3m-4.5 0h1.3m12.7 0h1.3m-1.2 0h1.3m-14.2 0.1h1.3m0.6 0.1h1.3m4.8 0h1.3m5.3 0h1.3m-0.6 0.1h1.3m-5.9 0.1h1.3m-14.4 0.2h1.3m10.7 0.1h1.3m62.4 0.1h1.3m-57 0.1h1.3m-7.5 0.1h1.3m33 0.1h1.3m-4 0h1.3m-27.4 0h1.3m-7.2 0.1h1.3m-1.6 0.1h1.3m49.1 0h1.3m-50.8 0.4h1.3m-5.4 0h1.3m7.9 0h1.3m-10.3 0.1h1.3m78.8 0h1.3m-68.6 0.1h1.3m7.3 0h1.3m-23.4 0.1h1.3m11 0h1.3m-0.8 0.2h1.3m-15.2 0h1.3m47 0.1h1.3m-37.8 0h1.3m-25.6 0.1h1.3m16.9 0h1.3m-10 0h1.3m9.7 0h1.3m1.8 0.4h1.3m28 0h1.3m-34.3 0.1h1.3m-2.7 0h1.3m-7.3 0.1h1.3m7.5 0h1.3m7.7 0h1.3m37.1 0h1.3m-55.7 0.1h1.3m5 0h1.3m-4.4 0h1.3m-11.8 0h1.3m-7.9 0h1.3m91.3 0h1.3m-81.3 0h1.3m78.3 0.1h1.3m-94 0h1.3m6.2 0h1.3m6.3 0h1.3m-2.9 0.1h1.3m-18.8 0h1.3m18.9 0h1.3m56.3 0h1.3m-52.6 0h1.3m-5.6 0.3h1.3m-8.4 0h1.3m6.6 0h1.3m-2.8 0h1.3m-8.6 0.1h1.3m7.5 0h1.3m5.5 0h1.3m-15.8 0.1h1.3m89.9 0.1h1.3m-82.9 0h1.3m-8.8 0.1h1.3m13.8 0h1.3m-21.7 0h1.3m-4.2 0.1h1.3m8.4 0h1.3m2.2 0.1h1.3m-3.5 0h1.3m32.5 0h1.3m-35.8 0.1h1.3m-4.7 0h1.3m10.4 0.1h1.3m-5.2 0h1.3m77.2 0.1h1.3m-81.9 0h1.3m-1.7 0.1h1.3m-0.3 0.1h1.3m27.9 0h1.3m-26.8 0h1.3m57.8 0h1.3m-66.5 0h1.3m6.1 0.1h1.3m-7.6 0.1h1.3m-5 0h1.3m47.3 0h1.3m7.4 0.1h1.3m-14.8 0h1.3m-42.9 0h1.3m7.4 0h1.3m-13.2 0.1h1.3m-3 0.1h1.3m4.6 0.1h1.3m75.6 0h1.3m-84.6 0h1.3m0.2 0h1.3m-4.3 0.1h1.3m8 0h1.3m-12.3 0h1.3m4.7 0.2h1.3m2.6 0h1.3m-4.2 0h1.3m11.6 0.1h1.3m-12.4 0h1.3m-1.8 0h1.3m28.9 0h1.3m-25.5 0.1h1.3m3 0.1h1.3m-10.4 0h1.3m0 0h1.3m-3 0h1.3m-0.3 0h1.3m83.7 0.2h1.3m-89.4 0h1.3m-2.7 0h1.3m1.7 0.1h1.3m-12.3 0h1.3m6.7 0h1.3m0.9 0h1.3m1.7 0.2h1.3m1.8 0.1h1.3m3.2 0h1.3m-24.8 0h1.3m-3.1 0h1.3m16.5 0h1.3m-5.4 0.1h1.3m5.6 0.1h1.3m-10.1 0h1.3m2.5 0h1.3m-3.1 0h1.3m13.9 0.1h1.3m-5.1 0.1h1.3m-5.1 0.2h1.3m63.2 0.1h1.3m-7.5 0.1h1.3m-62.6 0h1.3m-12.7 0h1.3m55 0.1h1.3m-38.7 0h1.3m-4.6 0.1h1.3m-6.4 0.1h1.3m-5.1 0h1.3m56.4 0.1h1.3m-47.2 0.1h1.3m0.1 0h1.3m5.8 0h1.3m3.4 0.1h1.3m-12.1 0h1.3m29.3 0h1.3m-50.5 0h1.3m61.7 0.2h1.3m-3.8 0h1.3m-46 0.1h1.3m38.4 0h1.3m6.9 0.1h1.3m2.3 0.1h1.3m-57.5 0.1h1.3m-3.7 0h1.3m3.3 0.1h1.3m1.8 0.4h1.3m-20.4 0.1h1.3m9.2 0h1.3m56 0.1h1.3m-82.7 0h1.3m29 0.1h1.3m-7.5 0h1.3m0.2 0.1h1.3m70 0h1.3m-33.3 0h1.3m-71.5 0.1h1.3m58 0h1.3m-34.5 0h1.3m-1.5 0.1h1.3m4.5 0.1h1.3m-8.8 0h1.3m2.9 0h1.3m75.7 0h1.3m-27 0.1h1.3m-52.2 0.1h1.3m16.7 0.1h1.3m-5.9 0.1h1.3m-4.5 0.1h1.3m-5.2 0.1h1.3m-14.5 0.1h1.3m-2.6 0.1h1.3m16.5 0h1.3m-22 0h1.3m9.7 0h1.3m-19.9 0.1h1.3m21 0.1h1.3m-4.4 0h1.3m56.1 0h1.3m-25.6 0h1.3m-30.9 0h1.3m6.4 0.2h1.3m-11.5 0.1h1.3m-6.4 0h1.3m5.5 0h1.3m15.1 0h1.3m-24 0.1h1.3m5.6 0.2h1.3m-12.8 0h1.3m24.6 0h1.3m-11.2 0.2h1.3m-11.9 0.1h1.3m0.1 0.1h1.3m-0.7 0.1h1.3m6.7 0h1.3m-13.6 0.1h1.3m9.5 0.2h1.3m0.6 0h1.3m-32.4 0h1.3m28.9 0.2h1.3m36.8 0h1.3m-46.8 0.2h1.3m0.1 0.1h1.3m-3.2 0.1h1.3m11.8 0.1h1.3m4.3 0.2h1.3m-18 0.1h1.3m15.1 0.3h1.3m-26.6 0.1h1.3m23.3 0.1h1.3m24.4 0h1.3m-40.7 0.4h1.3m42.4 0.1h1.3m-38.6 0.1h1.3m-13.5 0h1.3m2.9 0.1h1.3m-4.5 0.1h1.3m1.5 0.2h1.3m-0.1 0.2h1.3m58.4 0.4h1.3m-10.6 0h1.3m-54.8 0.4h1.3m20 0.1h1.3m-25.4 0h1.3m4.1 0.1h1.3m9.3 0h1.3m-10.9 0h1.3m2.2 0.1h1.3m12.2 0.6h1.3m-6.7 0.1h1.3m-37.3 0.1h1.3m90.7 0.5h1.3m-69.4 0h1.3m46.5 0.1h1.3m-56.1 0.1h1.3m8.6 0.4h1.3m53.1 0.1h1.3m-66.7 0.2h1.3m10.4 0.2h1.3m-9.5 0h1.3m2.2 0.4h1.3m-14.1 0h1.3m4.2 0h1.3m33.2 0.1h1.3m-32.9 0h1.3m34 0.1h1.3m38.7 0h1.3m-49.3 0.1h1.3m-34.4 0.2h1.3m-4.9 0.1h1.3m43.3 0h1.3m-20.4 0.1h1.3m63.1 0.3h1.3m-69.2 0.1h1.3m29.7 0.1h1.3m0 0.1h1.3m-45.2 0h1.3m-3 0.1h1.3m36.6 0.1h1.3m-26.4 0h1.3m36.6 0.1h1.3m-16 0h1.3m46.8 0.1h1.3m-85.4 1h1.3m-1.3 0.6h1.3m42.5 0.4h1.3m-30.4 0h1.3m-1.3 0.1h1.3m7.5 0.4h1.3m41.7 0.6h1.3m-57.8 0.4h1.3m-11.5 0.1h1.3m10.8 0.2h1.3m81.6 0.5h1.3m-46.7 0h1.3m-46.2 0.4h1.3m0.9 0.4h1.3m5.9 0.1h1.3m-5.6 0h1.3m-0.2 0.1h1.3m8.6 0.1h1.3m-11.5 0h1.3m-11 0.6h1.3m37.4 0.7h1.3m-28.1 0.3h1.3m44.9 0.2h1.3m23.2 0.4h1.3m-83.1 0.8h1.3m11.8 0.2h1.3m7.9 0h1.3m-25.1 0h1.3m-7 0.1h1.3m21.8 0.2h1.3m9.2 0.5h1.3m-12 0h1.3m-6.3 0.4h1.3m3.8 1.1h1.3m70.1 0.3h1.3m-75.7 0h1.3m-1.9 0.8h1.3m-21.7 0.3h1.3m52.7 0h1.3m-33.7 0.2h1.3m63.5 0h1.3m-15.8 0.2h1.3m-6.4 0.2h1.3m-13.4 0h1.3m-32.2 0.1h1.3m-11.5 0.1h1.3m-3.1 0.1h1.3m-14.2 0.1h1.3m86.5 0.3h1.3m-30.3 0.1h1.3m-39.5 0.3h1.3m5.5 0.4h1.3m68.9 0.2h1.3m-10.5 0.5h1.3m-6.6 0h1.3m-5.1 0.8h1.3m-12.8 0.3h1.3m-48.7 0.7h1.3m56.3 0.8h1.3m-7.3 0h1.3m-52.9 0.3h1.3m0.4 0.1h1.3m71 0h1.3m-31 0h1.3m-59.8 0.5h1.3m12.5 0.1h1.3m78.1 0.1h1.3m-32.7 0.2h1.3m-4.1 0.1h1.3m-46.3 0.1h1.3m56.1 0.8h1.3m7 0h1.3m-30.2 0.8h1.3m10.4 0h1.3m-16.2 0.2h1.3m22.8 0h1.3m-47.3 0.1h1.3m-21.7 0.3h1.3m19.3 0.3h1.3m-24.8 0.3h1.3m8.7 0.4h1.3m37.1 0h1.3m-52.9 0.2h1.3m76.8 0h1.3m-79.7 0.4h1.3m67.5 0.3h1.3m-55.3 0.3h1.3m37 0h1.3m-5.7 0.1h1.3m-36.4 0.1h1.3m69.7 0.1h1.3m3.5 0h1.3m-84 0.2h1.3m8.5 0h1.3m-9.2 0h1.3m44.5 0h1.3m13.9 0.1h1.3m-45 0.2h1.3m-10.6 0.1h1.3m50.4 0.2h1.3m-18.8 0.5h1.3m30.6 0.1h1.3m-36.5 0h1.3m21.3 0.1h1.3m30.8 0.1h1.3m-95.3 0.2h1.3m61.5 0.1h1.3m-7.3 0.1h1.3m23.3 0.3h1.3m-64.1 0h1.3m-5.5 0.5h1.3m39.5 0h1.3m-16.8 0.6h1.3m24.2 0.1h1.3m-1.1 0.2h1.3m17.2 0h1.3m-31.3 0.1h1.3m15.6 0.1h1.3m-30 0h1.3m17 0.4h1.3m-32.1 0.1h1.3m31.3 0h1.3m-5.2 0.4h1.3m-3.8 0.3h1.3m7.9 0.3h1.3m-2.6 0.1h1.3m-38.7 0.2h1.3m53.5 0.2h1.3m-4.8 0.2h1.3m-76.9 0.3h1.3m-8.3 0.4h1.3m53.9 0.6h1.3m17.6 0.1h1.3m-10 0.1h1.3m-64.8 0.1h1.3m-4.6 0.2h1.3m75.4 0h1.3m-1.8 0h1.3m-4.8 0h1.3m-2.8 0h1.3m-22.9 0.1h1.3m-42.5 0.2h1.3m14.7 0h1.3m17.9 0.3h1.3m-28.9 0.4h1.3m68.2 0.1h1.3m-80.8 0.1h1.3m27.8 0h1.3m34.3 0.3h1.3m3.2 0h1.3m-71.7 0.1h1.3m65.2 0h1.3m-19.1 0h1.3m-47.4 0.1h1.3m63 0.1h1.3m-69.8 0.2h1.3m5 0.1h1.3m82.5 0.1h1.3m1 0.1h1.3m-94.5 0.3h1.3m75.8 0.2h1.3m-1.8 0h1.3m-85.3 0.1h1.3m64.4 0h1.3m-59 0h1.3m58.1 0.1h1.3m-47.9 0.1h1.3m67.4 0h1.3m-5.2 0h1.3m-80.2 0.7h1.3m65.6 0.3h1.3m-66.1 0.4h1.3m41.6 0.4h1.3m3.9 0.3h1.3m25.5 0h1.3m-59.6 0.1h1.3m-6.1 0h1.3m52 0.1h1.3m-1.5 0.2h1.3m-15.1 0.2h1.3m-52.9 0.1h1.3m63.3 0.2h1.3m-22.1 0.1h1.3m39.8 0.8h1.3m-66.1 0.1h1.3m29.4 0h1.3m-50.8 0h1.3m63.7 0.7h1.3m-49.2 0.6h1.3m45.8 0.8h1.3m-65.9 1.6h1.3m12.3 0.2h1.3m-5.5 0h1.3m34.8 0.1h1.3m-42.2 0.2h1.3m-15.8 0.1h1.3m64.4 0.1h1.3m6 0h1.3m-18.8 0.9h1.3m6.8 0.2h1.3m32 0.7h1.3m-78.8 0.8h1.3m26 0.7h1.3m-30.9 0.4h1.3m64 0.4h1.3m-60.7 0.7h1.3m26.8 0.1h1.3m23.5 0h1.3m-37.7 0.4h1.3m40.5 0h1.3m10.8 1.2h1.3m-17.8 2.3h1.3m4.7 0.8h1.3m19.1 4.2h1.3" stroke="#000" stroke-opacity="0.38" stroke-width="1.3" fill="none"/><path d="M309.8 66.5h1.3m-91.6 0h1.3m55.7 1.1h1.3m33.5 0.7h1.3m-96.8 0.2h1.3m24.5 1.2h1.3m-23.8 0.1h1.3m11.5 0.3h1.3m-18.2 0h1.3m13.9 0.2h1.3m-5.1 0h1.3m48.9 0.4h1.3m4.3 0.3h1.3m-63.3 0h1.3m7.2 0.1h1.3m-7.5 0.7h1.3m-8.4 0.2h1.3m21.5 0.1h1.3m35.4 0.1h1.3m-47.1 0h1.3m29.7 0h1.3m-45.5 0.2h1.3m21.7 0.1h1.3m26.6 0h1.3m3.2 0.1h1.3m-46.5 0h1.3m-13.6 0h1.3m18.9 0.1h1.3m-12.6 0.1h1.3m2 0h1.3m-7.3 0.1h1.3m1.3 0h1.3m86.7 0.1h1.3m-88.8 0h1.3m2.2 0.2h1.3m8.7 0.2h1.3m-20 0h1.3m5.5 0h1.3m35.5 0.1h1.3m-41.7 0.1h1.3m9.5 0h1.3m-12.9 0h1.3m12.3 0.1h1.3m5.8 0.2h1.3m34.7 0h1.3m27.1 0h1.3m-81.6 0h1.3m33.8 0.1h1.3m-30.5 0h1.3m-16.1 0.2h1.3m-1.1 0h1.3m1.8 0h1.3m1.9 0.2h1.3m3.5 0h1.3m4.5 0h1.3m-11.5 0.1h1.3m4.4 0.1h1.3m-1 0h1.3m61.1 0h1.3m-65.3 0.2h1.3m-4.6 0.2h1.3m6.7 0h1.3m-14.4 0.1h1.3m49.5 0.3h1.3m-49.9 0.2h1.3m1.8 0h1.3m3.3 0h1.3m2.8 0.1h1.3m-6.2 0.1h1.3m-0.9 0.3h1.3m-19.2 0.1h1.3m15.8 0.1h1.3m3.1 0.2h1.3m-15.9 0.1h1.3m-2.6 0h1.3m6.4 0.1h1.3m4.6 0.1h1.3m-4.7 0h1.3m7.6 0.1h1.3m-22.8 0.2h1.3m7.6 0.1h1.3m-3 0h1.3m-1.2 0h1.3m-2 0h1.3m17.6 0.3h1.3m-18.1 0.1h1.3m1.1 0.1h1.3m-5.6 0h1.3m3 0h1.3m0.4 0.2h1.3m8.6 0.1h1.3m-8.4 0h1.3m-1 0.1h1.3m-2.5 0.1h1.3m6.6 0h1.3m-16.1 0h1.3m-15.4 0.1h1.3m11.6 0.1h1.3m8.8 0.1h1.3m-2.1 0h1.3m-3.3 0h1.3m14.6 0.1h1.3m-17.2 0h1.3m-1.3 0h1.3m41.6 0.2h1.3m-42.6 0h1.3m-2.5 0h1.3m-7.1 0.1h1.3m-1 0h1.3m-0.8 0h1.3m4.5 0h1.3m32.1 0h1.3m-46.8 0h1.3m14.4 0h1.3m8.5 0h1.3m-23.8 0h1.3m1 0.2h1.3m6.7 0.2h1.3m-0.1 0h1.3m43.8 0.1h1.3m-58.1 0h1.3m3.6 0.1h1.3m-12 0h1.3m88.8 0h1.3m-85 0.1h1.3m-0.4 0.1h1.3m4.1 0.1h1.3m-4.2 0h1.3m-3.9 0h1.3m-0.9 0.1h1.3m1 0h1.3m-1 0.1h1.3m0.6 0.1h1.3m8.4 0.2h1.3m-15.4 0.1h1.3m31.2 0h1.3m-38.2 0.1h1.3m11.3 0h1.3m-11.4 0h1.3m7.9 0.2h1.3m-10.3 0h1.3m0.1 0.1h1.3m28 0h1.3m-21.7 0.1h1.3m-5.3 0h1.3m-8.9 0.1h1.3m3 0.1h1.3m70.1 0h1.3m-67 0.1h1.3m51.9 0h1.3m-57.7 0h1.3m-5.2 0h1.3m17 0.1h1.3m-10 0h1.3m-9.1 0.1h1.3m15.4 0.1h1.3m-16.5 0h1.3m16.4 0h1.3m-20.7 0.1h1.3m11.7 0h1.3m-18.8 0h1.3m-0.6 0h1.3m10.2 0.1h1.3m0.8 0.1h1.3m-10.1 0h1.3m-11.9 0h1.3m4.9 0h1.3m-1.9 0.1h1.3m-6.9 0.1h1.3m9.6 0h1.3m-8.3 0h1.3m15.4 0.1h1.3m-1.9 0h1.3m1.3 0.1h1.3m-9.8 0h1.3m-6.8 0h1.3m3.4 0.2h1.3m49.9 0h1.3m6.7 0.1h1.3m-57.8 0h1.3m-3.9 0h1.3m21.6 0h1.3m-15.1 0.1h1.3m-10.5 0.2h1.3m-13.4 0h1.3m19 0h1.3m-5.6 0h1.3m-12.7 0.1h1.3m-1.3 0h1.3m10.1 0h1.3m-11.7 0h1.3m5 0h1.3m33 0.1h1.3m-39.4 0h1.3m2.8 0.2h1.3m-2.2 0h1.3m-7.2 0h1.3m7.6 0h1.3m-4.4 0h1.3m2.8 0.1h1.3m77.6 0.2h1.3m-88.8 0h1.3m69 0.1h1.3m-68.6 0h1.3m-1.9 0h1.3m2.7 0.1h1.3m-13.8 0.1h1.3m6.4 0h1.3m17.4 0.2h1.3m-24.5 0h1.3m17.3 0.1h1.3m-28.5 0h1.3m30.9 0h1.3m-23.7 0.1h1.3m40.4 0h1.3m-46 0h1.3m9.2 0.1h1.3m5.2 0h1.3m-15.1 0.1h1.3m-2.8 0h1.3m12.5 0.1h1.3m-4.6 0h1.3m-9.1 0h1.3m-9.9 0.1h1.3m9 0.1h1.3m9.4 0h1.3m-17.9 0h1.3m15.8 0h1.3m-0.5 0.1h1.3m-2.5 0h1.3m-9.8 0.1h1.3m13.2 0.1h1.3m-17.2 0.2h1.3m21 0h1.3m-32.1 0.1h1.3m26.9 0h1.3m-1.7 0h1.3m-25.7 0.1h1.3m-2.4 0h1.3m14.5 0h1.3m-7.3 0h1.3m-10.7 0.1h1.3m18.2 0.2h1.3m-6.4 0.1h1.3m1.1 0h1.3m2.4 0.1h1.3m-18.6 0h1.3m45.8 0h1.3m-18.2 0.1h1.3m-41.9 0h1.3m14.3 0.1h1.3m-6.8 0h1.3m12.7 0h1.3m-7.4 0h1.3m-10.6 0.1h1.3m47.2 0.1h1.3m-59.8 0h1.3m0.7 0h1.3m14.2 0h1.3m14.5 0.1h1.3m-7.4 0.1h1.3m-16 0h1.3m-2.3 0h1.3m14.9 0.1h1.3m41.5 0.3h1.3m22.4 0h1.3m-80.7 0h1.3m-10.2 0.1h1.3m7.5 0h1.3m-4.2 0h1.3m55.7 0.2h1.3m-3.9 0h1.3m-48.5 0.3h1.3m31.2 0h1.3m-41.3 0.2h1.3m7.5 0h1.3m8.3 0h1.3m-15 0.2h1.3m-0.7 0h1.3m-12.1 0.1h1.3m-4.4 0h1.3m15.9 0h1.3m-8 0h1.3m78.3 0.1h1.3m-74 0.1h1.3m0 0.2h1.3m47.9 0h1.3m-56.6 0.1h1.3m50.3 0h1.3m9 0.1h1.3m-62.7 0h1.3m6.1 0.1h1.3m27.8 0h1.3m-32.1 0h1.3m-10.4 0.1h1.3m-11.2 0.3h1.3m40.7 0.2h1.3m-23.4 0.1h1.3m-8.9 0.1h1.3m-13 0.1h1.3m11.3 0.1h1.3m64.3 0.1h1.3m-10.1 0.1h1.3m-49.2 0.1h1.3m-18.3 0.2h1.3m9.7 0.1h1.3m-12.7 0h1.3m15 0h1.3m-25.5 0.2h1.3m79.1 0.4h1.3m-19.4 0.1h1.3m-36.6 0.1h1.3m-15.3 0h1.3m3.4 0.1h1.3m16.2 0h1.3m49.8 0.1h1.3m-72.9 0h1.3m0.4 0.2h1.3m15.8 0.1h1.3m-15.7 0h1.3m37.1 0.1h1.3m-35.2 0.3h1.3m54.6 0.3h1.3m-61.9 0.3h1.3m-24.2 0.1h1.3m89.5 0h1.3m-75.4 0.1h1.3m16.7 0h1.3m34.9 0.2h1.3m-59 0h1.3m16.1 0.1h1.3m0 0.1h1.3m-13.3 0.3h1.3m67.4 0.1h1.3m-59.5 0.1h1.3m-14.8 0h1.3m22.4 0.1h1.3m-22.6 0.3h1.3m43 0.1h1.3m-13.8 0.1h1.3m-40.3 0.1h1.3m19.1 0.2h1.3m-10.1 0h1.3m-3.4 0.4h1.3m41.7 0.1h1.3m5.6 0.2h1.3m-18 0.2h1.3m20.9 0.3h1.3m-61.6 0h1.3m-1.8 0h1.3m66.9 0.4h1.3m-60.3 0.2h1.3m-20.4 0.2h1.3m80.5 0h1.3m-24.4 0.6h1.3m-4 0.1h1.3m40.4 0.2h1.3m-102.5 0.5h1.3m24.8 0h1.3m49.4 0.1h1.3m23.3 0.2h1.3m4.1 0.2h1.3m-78.3 0.1h1.3m26.7 0.1h1.3m-36.4 0.4h1.3m74.3 0.1h1.3m-87.9 0.2h1.3m67 0.3h1.3m24.6 0.2h1.3m-31.8 0h1.3m-63.1 0.5h1.3m-9.9 0.3h1.3m11.9 0.2h1.3m16.3 0.5h1.3m-19.6 0.1h1.3m90.6 1.3h1.3m-60.8 0.5h1.3m-30.2 0.8h1.3m38.4 0.1h1.3m-28.2 0.1h1.3m-14.5 0.4h1.3m78.2 0.6h1.3m-85.5 0.2h1.3m49.4 0.5h1.3m-52 0.4h1.3m31.8 0.7h1.3m-28.5 0.2h1.3m82.4 0.7h1.3m-78.3 1h1.3m35.7 0.4h1.3m-18.8 0.1h1.3m-16 1.2h1.3m79.4 0.1h1.3m-55.1 0.1h1.3m24.8 0.1h1.3m-8 0.3h1.3m-55 0.6h1.3m62.7 0.9h1.3m-60.2 0.2h1.3m29.9 0.2h1.3m-26.2 0.1h1.3m-15.9 0.5h1.3m60.8 0.1h1.3m-61.4 0.1h1.3m-7.3 0.1h1.3m35.4 0.1h1.3m30.6 0.2h1.3m-69.4 0.1h1.3m-3.3 0.2h1.3m-7 0h1.3m71 0.2h1.3m-4.4 0.2h1.3m4.5 0.1h1.3m0.5 0.2h1.3m-70.6 0.2h1.3m5.2 0h1.3m-0.8 0.5h1.3m73.8 0.1h1.3m4.2 0.1h1.3m-41.2 0.1h1.3m-49.3 0.2h1.3m10.1 0.8h1.3m-5.6 0.1h1.3m1.8 0.3h1.3m-11.9 0.1h1.3m63.5 0.2h1.3m0 0.2h1.3m4.5 0h1.3m-4.7 0.5h1.3m-66.8 0h1.3m73.2 0.1h1.3m-7.5 0.2h1.3m5.6 0.2h1.3m-5.5 0h1.3m-6.3 0h1.3m-61.2 0.1h1.3m57.8 0h1.3m-64.3 0.1h1.3m-4.1 0.4h1.3m-6.5 0h1.3m14.5 0.4h1.3m17.9 0h1.3m39.1 0.1h1.3m-79.8 0h1.3m9.5 0.3h1.3m8.7 0.5h1.3m56.3 0h1.3m-64.5 0h1.3m8.6 0.2h1.3m-31 0.1h1.3m9.5 0.2h1.3m82.1 0h1.3m-28.1 0.1h1.3m-54.9 0.3h1.3m11.6 0.5h1.3m33.7 0h1.3m7.1 0.1h1.3m-14.2 0h1.3m-53.4 0.1h1.3m44.9 0.2h1.3m-38.4 0h1.3m57.5 0.3h1.3m2.6 0.2h1.3m-31.9 0h1.3m-30.8 0.3h1.3m83.5 0.1h1.3m-84.9 0.2h1.3m10.4 0.3h1.3m-16.3 0.1h1.3m54.1 0.2h1.3m-57.2 0.3h1.3m66.3 0.2h1.3m6.2 0.2h1.3m-71.2 0.8h1.3m-7.1 0.2h1.3m6.9 0.1h1.3m47.9 0.1h1.3m-48.9 0h1.3m-14.1 0.2h1.3m86.4 0.4h1.3m-4.3 0h1.3m-12.3 0h1.3m-17.2 0.1h1.3m0.1 0.1h1.3m5.4 0.4h1.3m-59.8 0.2h1.3m-10.2 0.1h1.3m67 0h1.3m6.1 0.1h1.3m15.2 0h1.3m-98.8 0.3h1.3m40.7 0h1.3m-46.1 0h1.3m11.5 0.4h1.3m78.5 0.1h1.3m0.8 0.2h1.3m-25.4 0h1.3m-2 0.5h1.3m-56.4 0.2h1.3m38.8 0.2h1.3m13.2 0.2h1.3m3.2 0.4h1.3m-18.9 0.1h1.3m29.9 0.3h1.3m-14.6 0.4h1.3m0.8 0h1.3m-5 0.3h1.3m25.9 0.4h1.3m-84.9 0.1h1.3m39.6 0.1h1.3m-5.8 0.2h1.3m30.4 0.3h1.3m-61.8 0.2h1.3m-13.7 0h1.3m61.9 0.1h1.3m-69.2 0.1h1.3m3.9 0.3h1.3m80.9 0.1h1.3m-4.1 0.2h1.3m-26.4 0.1h1.3m-25.2 0.2h1.3m-31.7 0.1h1.3m6.4 1.5h1.3m41.6 0.1h1.3m13.6 0.6h1.3m11.1 0h1.3m-29.5 0.1h1.3m-52.2 0h1.3m-0.1 0.3h1.3m58.9 0h1.3m13.1 0h1.3m-64.6 0.1h1.3m39.5 1.2h1.3m-9.1 0.1h1.3m41.1 0.1h1.3m-41.6 0.6h1.3m-41.1 0.2h1.3m45.4 0.2h1.3m-2.4 0.1h1.3m8.1 0.1h1.3m-65 0.5h1.3m75.8 0.1h1.3m-66.2 0.1h1.3m3.9 0.2h1.3m28 0h1.3m-45.7 0.2h1.3m1.9 0.9h1.3m57.6 1.2h1.3m-46 0.4h1.3m12 1.2h1.3m18.9 0.6h1.3m-46.8 0.7h1.3m79 5.8h1.3m-42.2 1.2h1.3" stroke="#000" stroke-opacity="0.38" stroke-width="1.3" fill="none"/><path d="M225.8 66.8h1.3m0.9 0.6h1.3m-2.1 0.1h1.3m45.1 0.7h1.3m-54 0.8h1.3m11 0.5h1.3m-21.3 0h1.3m1.7 0.5h1.3m43.6 0h1.3m-44.8 0.7h1.3m55.9 0.3h1.3m-42.6 0.3h1.3m-14.1 0.1h1.3m19.3 0.1h1.3m51.5 0.1h1.3m-68.3 0.1h1.3m20.4 0.1h1.3m-11 0.1h1.3m1.6 0.2h1.3m-25.5 0h1.3m6.5 0h1.3m-2.4 0.4h1.3m6.5 0.2h1.3m-13.3 0h1.3m1.2 0.1h1.3m-8.2 0.1h1.3m4.9 0.2h1.3m3.9 0.1h1.3m2.3 0.2h1.3m-14.6 0h1.3m2.5 0h1.3m88.3 0.4h1.3m-86 0.1h1.3m5.1 0h1.3m-6.3 0h1.3m-2.8 0.1h1.3m4.8 0.1h1.3m-7.9 0.1h1.3m3.9 0.2h1.3m4.6 0h1.3m52.2 0.1h1.3m-76.8 0h1.3m-0.5 0.1h1.3m14 0h1.3m-2.1 0.1h1.3m73.6 0h1.3m-89.4 0h1.3m13.1 0.1h1.3m-5.3 0.2h1.3m-1.3 0.1h1.3m-8.2 0.1h1.3m-6.3 0h1.3m15 0.1h1.3m-9.8 0h1.3m-0.9 0.1h1.3m55 0.1h1.3m-41 0h1.3m-22.1 0.1h1.3m11.1 0h1.3m-15.1 0.1h1.3m0.7 0h1.3m0.7 0.2h1.3m-3.2 0.2h1.3m4.8 0.1h1.3m-9.2 0.2h1.3m14.6 0.1h1.3m-0.2 0h1.3m-17.5 0.1h1.3m-5.9 0h1.3m-1 0h1.3m7.7 0.1h1.3m0.1 0h1.3m0.9 0h1.3m3.4 0.1h1.3m-9.1 0h1.3m77.1 0.1h1.3m-31.5 0h1.3m-33 0.1h1.3m-12.2 0.1h1.3m-11.6 0h1.3m-0.1 0.1h1.3m-13.7 0.1h1.3m27.2 0h1.3m19.8 0h1.3m18.8 0.1h1.3m-66.7 0.1h1.3m30.8 0.1h1.3m-23.5 0h1.3m7.7 0.1h1.3m4.1 0.1h1.3m-16.9 0h1.3m10.4 0.1h1.3m24.9 0.1h1.3m9.3 0.1h1.3m-17.5 0.2h1.3m-25.1 0.1h1.3m-5.3 0.1h1.3m-6.9 0h1.3m0.3 0h1.3m12.1 0.1h1.3m-14.8 0.1h1.3m0.8 0h1.3m-1.2 0.1h1.3m-8.4 0.1h1.3m9.4 0h1.3m-1.9 0h1.3m4.4 0.1h1.3m39.3 0.1h1.3m-48.4 0.1h1.3m-10.6 0h1.3m3.1 0h1.3m0 0.1h1.3m9.8 0h1.3m-9.4 0.1h1.3m3.7 0h1.3m70 0.1h1.3m-79 0h1.3m-6.3 0.1h1.3m5.3 0.2h1.3m-1.2 0.1h1.3m-10.4 0h1.3m7.7 0.1h1.3m-6.1 0.1h1.3m1 0h1.3m19.8 0.1h1.3m23.5 0h1.3m-7 0h1.3m-14.8 0h1.3m-29.3 0.1h1.3m0.7 0.1h1.3m-4.7 0.1h1.3m20 0h1.3m-11.2 0h1.3m30.3 0h1.3m8.1 0h1.3m-33.4 0h1.3m-14.5 0.1h1.3m-1.6 0.1h1.3m-29.1 0h1.3m35.5 0h1.3m-12.7 0.1h1.3m-0.2 0h1.3m3.6 0.1h1.3m-5.3 0h1.3m83.6 0.2h1.3m-89.7 0.1h1.3m11.8 0.1h1.3m-9.1 0h1.3m-1.1 0h1.3m-3.8 0h1.3m2 0h1.3m-13.4 0.1h1.3m22.5 0h1.3m-19.1 0.2h1.3m8.3 0h1.3m-1.2 0h1.3m-12 0.1h1.3m5.7 0.1h1.3m-13.6 0h1.3m20 0h1.3m-14.6 0.1h1.3m-4.6 0h1.3m-2.6 0h1.3m6.2 0.2h1.3m-11 0h1.3m5.5 0.2h1.3m2 0h1.3m-1.1 0h1.3m-10.6 0.1h1.3m14 0.2h1.3m28.2 0.2h1.3m-29.7 0.1h1.3m-8.8 0h1.3m-3.2 0h1.3m9.4 0.1h1.3m-10.1 0h1.3m-6.2 0h1.3m-3 0h1.3m8.4 0h1.3m6.6 0h1.3m-23.2 0.3h1.3m6.4 0h1.3m6.7 0h1.3m-13.9 0h1.3m-3.4 0.1h1.3m16 0.1h1.3m27.2 0h1.3m-34.3 0h1.3m-6.6 0h1.3m3.4 0h1.3m-4.9 0.1h1.3m-2.8 0h1.3m11.1 0.1h1.3m-6.9 0.1h1.3m-11.5 0h1.3m-1.1 0.1h1.3m1 0h1.3m-5 0.1h1.3m10.7 0.1h1.3m-10.3 0h1.3m4.7 0h1.3m3.3 0.1h1.3m-21 0h1.3m42.1 0.1h1.3m-33.4 0.1h1.3m-8.2 0h1.3m16.2 0h1.3m-11.1 0.1h1.3m0.2 0.1h1.3m-14.4 0.1h1.3m13.1 0h1.3m-10.5 0.1h1.3m7.6 0.1h1.3m-11.6 0.2h1.3m6.4 0h1.3m2.7 0.1h1.3m-7.3 0h1.3m12.7 0h1.3m18.7 0h1.3m-32.2 0.1h1.3m-6.9 0h1.3m56 0.1h1.3m-42.6 0h1.3m-3.5 0.1h1.3m-14.6 0.1h1.3m3.8 0h1.3m-4.1 0h1.3m54.5 0h1.3m-9.1 0.2h1.3m-62.4 0.1h1.3m15.4 0h1.3m-23 0h1.3m21.2 0.1h1.3m8.6 0h1.3m-19.6 0.1h1.3m-5.7 0.2h1.3m-0.6 0.1h1.3m8.7 0.1h1.3m-8.1 0.1h1.3m-0.9 0h1.3m9 0.1h1.3m41.8 0.1h1.3m22.4 0h1.3m5 0.1h1.3m-79.3 0.1h1.3m-2 0.2h1.3m-7.6 0h1.3m-22.1 0h1.3m17.9 0.2h1.3m28.2 0.1h1.3m-32.2 0.1h1.3m48.4 0h1.3m-44.6 0h1.3m3.9 0h1.3m39.8 0.1h1.3m-47.5 0.1h1.3m38.2 0h1.3m15.2 0.2h1.3m-52 0.2h1.3m69.5 0.3h1.3m-75.9 0.1h1.3m-4.1 0h1.3m4.1 0.1h1.3m-3.2 0h1.3m-3.5 0.7h1.3m-4.8 0.2h1.3m20.1 0.1h1.3m52.7 0.1h1.3m-77.4 0.1h1.3m66.7 0.2h1.3m-55.7 0.1h1.3m-14.6 0h1.3m13.4 0h1.3m50.4 0.1h1.3m-62.4 0.2h1.3m71.4 0.1h1.3m-68.6 0h1.3m28.6 0h1.3m-43.5 0h1.3m8.2 0h1.3m15 0.1h1.3m-10.1 0.1h1.3m-1.2 0h1.3m-5.1 0.1h1.3m-16.2 0h1.3m17 0.1h1.3m4.1 0.2h1.3m26.9 0h1.3m19.2 0.2h1.3m-1.8 0.1h1.3m-60.8 0h1.3m-7 0h1.3m23.3 0h1.3m-9.2 0.1h1.3m0.4 0h1.3m-27.9 0.3h1.3m0.6 0h1.3m15.1 0h1.3m-2.4 0.1h1.3m-16.7 0.3h1.3m15.6 0h1.3m-8.6 0h1.3m82.1 0h1.3m-84.7 0h1.3m70 0.3h1.3m-62.3 0.2h1.3m-14.2 0.1h1.3m34.9 0.1h1.3m4.8 0.1h1.3m-14.2 0.2h1.3m62.2 0.1h1.3m-35.5 0.1h1.3m-3.1 0h1.3m-51.6 0.3h1.3m-8.8 0.3h1.3m37.9 0h1.3m18.9 0.4h1.3m-66.2 0h1.3m57.5 0.1h1.3m-40.1 0.1h1.3m16.5 0h1.3m-37 0.4h1.3m43.6 0.1h1.3m46.4 0.3h1.3m-78.5 0.2h1.3m-26 0.3h1.3m3.3 0.2h1.3m6 0.1h1.3m17.3 0.1h1.3m-15.7 0h1.3m23.9 0.1h1.3m21.9 0.1h1.3m-49.9 0h1.3m19.3 0.3h1.3m-24.3 0.1h1.3m3.2 0.1h1.3m20.4 0.4h1.3m35.9 0h1.3m-59.5 0.5h1.3m-6.7 0.4h1.3m56.4 0.4h1.3m-12.8 0.1h1.3m-16.1 0h1.3m-22.7 0.4h1.3m4.2 0.1h1.3m41.1 0.1h1.3m-40.5 0.1h1.3m32.4 0h1.3m-1.4 0.1h1.3m-30.8 1.2h1.3m-13.5 0h1.3m78 0.1h1.3m-37.7 0h1.3m-69.8 0h1.3m87 0h1.3m-86.8 0.3h1.3m26.8 0.3h1.3m28.1 0h1.3m-68.1 0.2h1.3m25.3 0.4h1.3m82.6 0h1.3m-112.1 0.2h1.3m25.1 0.1h1.3m40.1 0.1h1.3m-47.3 0.5h1.3m64.9 0h1.3m-70.9 0.4h1.3m50.2 0.1h1.3m-44.9 0.9h1.3m-3.8 0.4h1.3m9.4 0.1h1.3m-4.6 0.6h1.3m68.8 0h1.3m-65.8 0.1h1.3m-4.9 0.1h1.3m-3.3 0.2h1.3m8.7 0.1h1.3m67.5 1h1.3m-77.2 0.1h1.3m-3.7 0.1h1.3m-1 0.4h1.3m-15 0.3h1.3m19.2 0.2h1.3m-23.5 0.9h1.3m9.4 0h1.3m-4.7 0.2h1.3m5 0.1h1.3m-16.3 0.5h1.3m94.3 0.3h1.3m-84.1 0.3h1.3m59.8 0.2h1.3m-11.3 0h1.3m-52.5 0.1h1.3m50.6 0.1h1.3m-20.1 0.2h1.3m-32.4 0.5h1.3m-4.3 0.2h1.3m-3.3 0.2h1.3m73 0.9h1.3m-74.4 0.7h1.3m57.9 0.3h1.3m12 0.4h1.3m-46.9 0.1h1.3m29.1 0h1.3m5.9 0.2h1.3m-66.6 0.1h1.3m-6.4 0.4h1.3m74.6 0.5h1.3m-69 0.1h1.3m-1.2 0.1h1.3m64.2 0.6h1.3m-54.2 0.1h1.3m16.5 0.3h1.3m-26.2 0.1h1.3m56.5 1.6h1.3m-68.1 0.1h1.3m74.5 0.1h1.3m-13.8 0.1h1.3m-57.7 0.2h1.3m-5.8 0h1.3m47.5 0.1h1.3m12.7 0h1.3m18.1 0h1.3m-7.6 0.2h1.3m-65.2 0h1.3m-25.9 0.1h1.3m7.1 0.5h1.3m2.4 0.5h1.3m-1.6 0.1h1.3m58.8 0.8h1.3m-49.4 0.1h1.3m-11 0h1.3m67.5 0.2h1.3m-65.2 0h1.3m-11.4 0.1h1.3m-5.8 0.5h1.3m16.4 0.1h1.3m55.6 0h1.3m-69 0.1h1.3m6.5 0.1h1.3m-3.2 0.1h1.3m42.4 0h1.3m28.3 0.3h1.3m-90.3 0h1.3m76.2 0h1.3m8.7 0.5h1.3m11.8 0.6h1.3m-39.3 0.2h1.3m39.3 0.2h1.3m-32.3 0.5h1.3m-21.6 0.1h1.3m1.6 0.2h1.3m-37.8 0.1h1.3m-7.8 0.1h1.3m7.7 0.7h1.3m-14.8 0.6h1.3m55.1 0.2h1.3m-40 0.6h1.3m40 0.1h1.3m6.4 0.1h1.3m12 0.1h1.3m1.7 0.3h1.3m-33.8 0.1h1.3m-50.2 0h1.3m7.1 0.3h1.3m69.8 0h1.3m-38.2 0.3h1.3m24.5 0h1.3m-3.1 0.5h1.3m-1.9 0.2h1.3m-53.7 0.2h1.3m70.2 0.2h1.3m-36 0h1.3m-41.3 0.1h1.3m-3.5 0h1.3m-2.4 0.3h1.3m-7.6 0.2h1.3m-4.9 0h1.3m43.2 0.1h1.3m-37.8 0h1.3m-6.2 0.2h1.3m67.7 0.2h1.3m-8.1 0.1h1.3m-50.8 0.1h1.3m-15.5 0.1h1.3m58 0.3h1.3m-55 0.1h1.3m1.5 0.2h1.3m44.5 0.1h1.3m-62.8 0.2h1.3m4.4 0h1.3m13.7 0h1.3m55.7 0.2h1.3m-6.2 0.1h1.3m7.3 0.1h1.3m-15.3 0.4h1.3m14 0h1.3m-7.8 0.1h1.3m-37.4 0.2h1.3m-29.6 0h1.3m10.8 0.3h1.3m60.5 0.1h1.3m-3.7 0.4h1.3m-0.1 0.3h1.3m-75.1 0.2h1.3m-7.5 0.2h1.3m74.2 0.1h1.3m-8.4 0.1h1.3m-9 0.1h1.3m10.7 0.1h1.3m-2.9 0.3h1.3m-13.9 0.5h1.3m21.3 0.1h1.3m-27.5 0.1h1.3m11.1 0h1.3m-55 0.2h1.3m-2.3 0.1h1.3m41.6 0.2h1.3m18.6 0h1.3m-81.9 0.1h1.3m63.6 0.4h1.3m-24 0.3h1.3m4.3 0h1.3m27.2 0h1.3m-60.2 0.5h1.3m64.6 0.4h1.3m-18.4 0h1.3m4.3 0.2h1.3m-52.5 0.3h1.3m-8.8 0.4h1.3m51 0.3h1.3m-39.4 0.2h1.3m-19.4 0.2h1.3m47.4 0.5h1.3m-1 0h1.3m-50.9 0.5h1.3m19 0.3h1.3m42.9 0.1h1.3m28.6 0.2h1.3m-36.8 0.2h1.3m-5 0.2h1.3m-54.4 0.2h1.3m57.4 0.6h1.3m13.3 0.2h1.3m-40.9 0.3h1.3m49 0.3h1.3m-52.9 0.9h1.3m11 0.2h1.3m-6.2 0.4h1.3m-36.9 0.7h1.3m42.3 3.8h1.3m-5.1 0.2h1.3m14.3 0.3h1.3m4.7 5.2h1.3" stroke="#000" stroke-opacity="0.38" stroke-width="1.3" fill="none"/><path d="M223.6 64.6h1.3m3.8 0.7h1.3m-20.1 0.3h1.3m31.8 0.2h1.3m36 0.3h1.3m0 0h1.3m-6.7 0h1.3m37.8 0.2h1.3m-47.9 0.6h1.3m-16.4 0.3h1.3m-39.6 0.7h1.3m10.8 0.2h1.3m-14.1 0.4h1.3m5.2 0.3h1.3m19.1 0.3h1.3m-9.6 0.5h1.3m-14.5 0.1h1.3m92.1 0.3h1.3m-37.9 0.5h1.3m-59.8 0.1h1.3m3.5 0.1h1.3m78.9 0h1.3m-24.8 0.1h1.3m-34.1 0.1h1.3m-26.7 0h1.3m6.8 0.2h1.3m72.3 0.1h1.3m-63.6 0.1h1.3m-28.1 0.1h1.3m19.8 0.3h1.3m-14 0.2h1.3m38.1 0.2h1.3m-44.9 0.2h1.3m3.7 0.1h1.3m-9.2 0.3h1.3m7.2 0.4h1.3m32.9 0.1h1.3m10.2 0.1h1.3m-46.8 0.1h1.3m81.8 0.2h1.3m-38.2 0h1.3m-44.8 0h1.3m0.3 0.2h1.3m-13.7 0.1h1.3m3.5 0h1.3m-2.5 0h1.3m22.7 0.6h1.3m57 0.3h1.3m-79.6 0h1.3m-15.1 0.1h1.3m8.2 0h1.3m4.9 0.3h1.3m14.3 0h1.3m-14.7 0h1.3m21.2 0.4h1.3m-27.3 0.1h1.3m-5.6 0h1.3m73.7 0.1h1.3m-76.7 0.2h1.3m0.4 0h1.3m72.1 0.1h1.3m12.3 0h1.3m-81 0h1.3m-7.4 0.1h1.3m52.6 0h1.3m-55.7 0.1h1.3m6.7 0.2h1.3m-3.8 0h1.3m1.5 0.1h1.3m-4.4 0.1h1.3m7.3 0h1.3m-7.4 0.3h1.3m-5.9 0h1.3m76 0h1.3m-90.5 0h1.3m5.2 0h1.3m50 0.1h1.3m28.1 0h1.3m-77.3 0.1h1.3m-5.5 0h1.3m-0.3 0h1.3m10 0h1.3m32.4 0h1.3m-32.2 0.1h1.3m-4.5 0.1h1.3m-13 0h1.3m-5 0h1.3m29.2 0h1.3m-27.7 0h1.3m-1.6 0.1h1.3m3 0h1.3m-0.8 0.1h1.3m-4.9 0h1.3m4 0.1h1.3m-11 0.2h1.3m11.7 0.2h1.3m51 0h1.3m-45.9 0h1.3m1.8 0.1h1.3m-13.7 0h1.3m-11 0h1.3m10.1 0.1h1.3m-8.6 0h1.3m-4 0h1.3m2.5 0.2h1.3m86.1 0.1h1.3m-89 0h1.3m-4.5 0.1h1.3m47.2 0h1.3m-30.1 0.1h1.3m-15 0h1.3m-3.9 0h1.3m-5 0.2h1.3m5.5 0h1.3m6.6 0h1.3m-30.9 0h1.3m13 0.2h1.3m20.9 0h1.3m-17.3 0h1.3m-5.3 0.1h1.3m3.9 0h1.3m-9.9 0h1.3m-7.5 0h1.3m9.3 0.1h1.3m-5.6 0.1h1.3m6.1 0h1.3m6 0.1h1.3m55.5 0h1.3m-63.5 0.1h1.3m-7.4 0h1.3m1.1 0.1h1.3m-5.6 0h1.3m0.3 0h1.3m6.8 0h1.3m52.9 0.1h1.3m-51 0.1h1.3m-14.7 0h1.3m3.5 0.1h1.3m-9.9 0h1.3m10 0h1.3m0.8 0h1.3m-0.1 0.1h1.3m64.9 0h1.3m-13.4 0h1.3m-62.7 0h1.3m3.7 0h1.3m-2.6 0.2h1.3m87.5 0h1.3m-91.9 0h1.3m-7.1 0.1h1.3m8.3 0h1.3m-5.5 0.1h1.3m-1.7 0h1.3m67.7 0.1h1.3m-74.2 0h1.3m1.8 0h1.3m9.7 0.1h1.3m-8.6 0.1h1.3m1.5 0h1.3m-1.9 0.1h1.3m-1.8 0h1.3m43.5 0.1h1.3m-54.1 0h1.3m-17.7 0h1.3m23.6 0.1h1.3m1.8 0.1h1.3m-17.3 0.1h1.3m6.5 0h1.3m-1.7 0h1.3m16.8 0.1h1.3m-13.7 0h1.3m-5.8 0.1h1.3m-13.6 0h1.3m24.3 0.1h1.3m-10.3 0h1.3m6 0.1h1.3m37.8 0.2h1.3m-17.8 0.1h1.3m-32.3 0.2h1.3m-9.6 0h1.3m-7.3 0h1.3m12.8 0.1h1.3m41.9 0h1.3m-63 0h1.3m16 0h1.3m51.2 0.1h1.3m-47.3 0.1h1.3m41.7 0.1h1.3m-49.2 0h1.3m-10.2 0.1h1.3m1.5 0h1.3m-0.6 0.2h1.3m-0.3 0h1.3m-5.4 0h1.3m68.5 0.1h1.3m-62.7 0.1h1.3m-27.3 0h1.3m24.6 0h1.3m-11.2 0.1h1.3m-5.9 0.2h1.3m16.7 0h1.3m-7.9 0h1.3m-1.4 0.1h1.3m-11.3 0h1.3m7.2 0h1.3m5.8 0h1.3m25.2 0.1h1.3m-38.4 0h1.3m44.7 0h1.3m-0.1 0.1h1.3m-19 0h1.3m-22.2 0h1.3m0.1 0h1.3m79.6 0.1h1.3m-82.9 0h1.3m84.8 0h1.3m-70.6 0.1h1.3m-22.2 0h1.3m-4.4 0.1h1.3m4.6 0h1.3m-8 0.1h1.3m66 0h1.3m-60.6 0.1h1.3m-2.4 0.1h1.3m0.5 0h1.3m-3.4 0h1.3m11.1 0.1h1.3m-10.8 0.1h1.3m-9 0.1h1.3m56.4 0h1.3m-58.2 0h1.3m-2.1 0.1h1.3m-9.3 0.1h1.3m3.8 0h1.3m-0.9 0h1.3m6.9 0.1h1.3m-3.3 0h1.3m45.3 0h1.3m-55.8 0.1h1.3m7.9 0h1.3m27.4 0h1.3m-37.2 0h1.3m-10 0.1h1.3m41.7 0.1h1.3m-49.6 0.2h1.3m68.1 0.1h1.3m-40.4 0.2h1.3m-18.6 0.2h1.3m7.4 0h1.3m-11.1 0h1.3m3.8 0.3h1.3m7.6 0h1.3m-10.5 0.1h1.3m38.9 0h1.3m-43.3 0h1.3m-8.7 0.1h1.3m-1.6 0h1.3m21.1 0.1h1.3m45.2 0h1.3m-65.3 0h1.3m76.4 0.2h1.3m-80 0h1.3m64.9 0h1.3m-73.3 0.1h1.3m14.6 0h1.3m1.7 0h1.3m-8.8 0h1.3m-3.6 0.1h1.3m10.7 0h1.3m-15.8 0.1h1.3m5.9 0.1h1.3m-3.2 0.1h1.3m13.6 0h1.3m46.5 0.1h1.3m-64 0h1.3m-9.1 0.2h1.3m5.1 0.1h1.3m4.8 0h1.3m-6.5 0h1.3m3.2 0h1.3m-5.5 0.1h1.3m48.9 0.1h1.3m-47.9 0h1.3m-18.8 0.1h1.3m67 0h1.3m21.2 0.4h1.3m-76.2 0h1.3m-12.8 0h1.3m12.5 0.1h1.3m33.9 0h1.3m-37.6 0h1.3m2 0.3h1.3m1.4 0h1.3m-4 0.1h1.3m-6 0.1h1.3m34.8 0.4h1.3m-8.3 0h1.3m-38.8 0.2h1.3m45 0h1.3m1.9 0.2h1.3m-30.3 0h1.3m5.9 0.1h1.3m57.9 0h1.3m-76.1 0.3h1.3m3 0.6h1.3m-22.6 0h1.3m18.3 0.1h1.3m-1.1 0h1.3m34.4 0h1.3m-34.4 0.2h1.3m-11.2 0.1h1.3m21.2 0.2h1.3m-35.3 0h1.3m6.6 0.2h1.3m14.7 0.1h1.3m-0.6 0h1.3m16.9 0h1.3m1.9 0h1.3m-40 0.1h1.3m9 0.1h1.3m-18 0.1h1.3m75.3 0.1h1.3m-17.9 0h1.3m-53.2 0.1h1.3m6.9 0.2h1.3m30.7 0.5h1.3m-16.4 0h1.3m35.4 0.2h1.3m-62.6 0h1.3m-11.9 0.1h1.3m5.1 0h1.3m69.1 0.1h1.3m-72.6 0.1h1.3m18.9 0h1.3m34.9 0.2h1.3m-9.3 0.1h1.3m-38.7 0.1h1.3m12.9 0h1.3m-9.8 0.2h1.3m-19.7 0.1h1.3m54.2 0.2h1.3m-38.8 0h1.3m57.4 0h1.3m-13.2 0.2h1.3m-0.7 0.2h1.3m-56.1 0h1.3m80.8 0.3h1.3m-67 0.4h1.3m29.7 0.1h1.3m-62.7 0.3h1.3m5.3 0.3h1.3m45 0.3h1.3m20.9 0h1.3m-31.9 0h1.3m8.2 0.1h1.3m-31.2 0.3h1.3m-20.3 0.3h1.3m8.9 0.1h1.3m37.6 0.1h1.3m-4.7 0h1.3m-29.2 0.3h1.3m32.5 0.4h1.3m-45.8 0h1.3m-4.7 0.4h1.3m-6 0.1h1.3m41.7 0.2h1.3m-24.3 0.6h1.3m49.6 0.2h1.3m-57.5 0.5h1.3m-18 0.1h1.3m17.2 0.4h1.3m28.2 1h1.3m-47.8 0h1.3m14.8 0.3h1.3m-12.3 0.6h1.3m8.7 0.1h1.3m28.7 0.1h1.3m28.2 1h1.3m16.6 0.3h1.3m-86.3 0.2h1.3m7.7 0.4h1.3m7.8 0.3h1.3m32.3 0.1h1.3m-47.1 0.2h1.3m12.8 0h1.3m-24.8 0.1h1.3m40.2 0.2h1.3m-7 0.2h1.3m-13.2 0h1.3m61.2 0h1.3m-81.1 0.1h1.3m-12.7 0.2h1.3m2.7 0h1.3m16 0.1h1.3m69.9 0.1h1.3m-87.4 0.4h1.3m6.2 0.9h1.3m-3.7 1h1.3m15.8 0.3h1.3m51 0.2h1.3m-72.8 0h1.3m46.2 0.4h1.3m-28.9 0h1.3m50.6 0.1h1.3m14.7 0.3h1.3m-28.7 0.2h1.3m-45.4 0.9h1.3m-13.6 0.5h1.3m23.5 0.3h1.3m-11.9 1.1h1.3m-18.4 0.2h1.3m11 0.3h1.3m-21.5 0.7h1.3m1.9 0.2h1.3m-7.8 0.2h1.3m19.5 0.3h1.3m57.1 0.1h1.3m-9 0.5h1.3m-59.5 0.1h1.3m68.2 0.5h1.3m7.9 0.2h1.3m-9.9 0h1.3m3.2 0.6h1.3m-6.7 0.6h1.3m-59.3 0h1.3m17 0.2h1.3m19 0.9h1.3m22.4 0.1h1.3m-65.8 0.7h1.3m65.6 0.1h1.3m-76.8 0.2h1.3m-5.3 0.1h1.3m53.1 0.1h1.3m-26.6 0.1h1.3m38 0.1h1.3m-61.5 0.3h1.3m-18 0.3h1.3m68.7 0.1h1.3m-61.5 0.1h1.3m5.5 0.2h1.3m66.8 0.4h1.3m-22.1 0h1.3m10.9 0.2h1.3m-68.4 0h1.3m59.3 0.4h1.3m-30.8 0.1h1.3m26 0.9h1.3m-6.7 0h1.3m-44.6 0h1.3m79.2 0.2h1.3m-82.9 0.1h1.3m43.3 0.2h1.3m-54.7 0.4h1.3m46.9 0h1.3m30.8 0.1h1.3m-87 0h1.3m86.7 0.1h1.3m-27.2 0.1h1.3m-54.5 0.3h1.3m55.9 0.1h1.3m-57.7 0.2h1.3m20.8 0.8h1.3m53.7 0.1h1.3m-84.8 0h1.3m-3.1 0.5h1.3m70.2 0.1h1.3m2.8 0.2h1.3m-74.5 0.1h1.3m-6.6 0h1.3m19.5 0.7h1.3m43.1 0.1h1.3m12.7 0.1h1.3m22.2 0.1h1.3m-28.9 0.1h1.3m-10.8 0.9h1.3m9.8 0h1.3m-65.5 0.4h1.3m24 0h1.3m13.5 0.4h1.3m23.5 0.4h1.3m-12.3 0.1h1.3m-69.9 0h1.3m86 0.1h1.3m-78.2 0.3h1.3m-1.7 0.1h1.3m56.1 0h1.3m12.6 0.1h1.3m-67.4 0h1.3m-2.5 0h1.3m37.2 0h1.3m6.3 0.1h1.3m6.4 0.3h1.3m-6.4 0.2h1.3m-26.8 0.3h1.3m-22.8 0.1h1.3m-9.6 0.1h1.3m68.5 0h1.3m-18.9 0.3h1.3m5.3 0h1.3m-23.1 0.1h1.3m25.2 0.8h1.3m24 0.1h1.3m-44.3 0.1h1.3m-42.8 0.1h1.3m47.4 0h1.3m28.3 0.3h1.3m-71 0.1h1.3m74.2 0.4h1.3m-71.1 0.3h1.3m18.6 0.5h1.3m19.5 0.6h1.3m-49.7 0h1.3m-9.4 0.3h1.3m11.3 0.1h1.3m68.1 0.4h1.3m-24.7 0h1.3m-27.4 0.5h1.3m-0.7 0.1h1.3m4.6 0.1h1.3m9.7 0h1.3m-16.1 0.9h1.3m41.3 0.1h1.3m-48.9 0.1h1.3m14.4 0.2h1.3m-34.8 0.4h1.3m-2.8 0.1h1.3m-11.6 0.3h1.3m-2.5 0.2h1.3m52.4 0.4h1.3m-64.4 0.2h1.3m84.8 0.7h1.3m-80.6 0.5h1.3m15.9 0.3h1.3m43.3 0.1h1.3m-1.2 0.1h1.3m-24.2 0.3h1.3m-10.6 0.2h1.3m34.2 1.6h1.3m-12 0.2h1.3m18.1 0.1h1.3m-11.3 0.3h1.3m-8.3 0.4h1.3m6 0.1h1.3m2 0h1.3m-71.8 0.1h1.3m18.9 0h1.3m-27.1 0.5h1.3m94.4 0.2h1.3m-85.5 0.2h1.3m57.3 1.6h1.3m-29.7 1.1h1.3m21.6 1.3h1.3m25.7 0h1.3m-80.5 2.7h1.3" stroke="#000" stroke-opacity="0.38" stroke-width="1.3" fill="none"/><path d="M239.4 53h1.3m-17.8 5.2h1.3m10.4 1.9h1.3m1.8 4.5h1.3m15.7 1.5h1.3m0.8 0h1.3m-19.8 0.1h1.3m69 0.3h1.3m-18.3 2.2h1.3m-70.7 0h1.3m44.7 0.1h1.3m9.9 0.5h1.3m-62.9 0.5h1.3m69.9 0h1.3m-66.8 0h1.3m81 0.2h1.3m-94.5 0.1h1.3m5.4 0.4h1.3m54.3 0.4h1.3m-52.5 0.1h1.3m5.6 0.1h1.3m78.3 0h1.3m-84.9 0.4h1.3m40.7 0h1.3m-36.5 0.2h1.3m-13.6 0.2h1.3m57.2 0.1h1.3m-51 0.2h1.3m9.9 0h1.3m19.9 0.1h1.3m-35.8 0h1.3m4.6 0.2h1.3m-2.8 0.1h1.3m-1.6 0.2h1.3m-5.4 0.1h1.3m-15 0h1.3m18 0h1.3m25.3 0.1h1.3m-27.7 0h1.3m-1.1 0.1h1.3m-7.6 0h1.3m5.3 0.2h1.3m-9.9 0.1h1.3m6.6 0h1.3m29.9 0.1h1.3m-46.3 0.1h1.3m19.2 0h1.3m-10.6 0h1.3m-3.7 0.1h1.3m0 0.1h1.3m-4.9 0.2h1.3m5.3 0.1h1.3m-2.5 0.1h1.3m3.3 0.1h1.3m-4.6 0h1.3m-7 0.1h1.3m-6 0.1h1.3m-2.6 0h1.3m-2.2 0.1h1.3m4.1 0.1h1.3m-4.9 0.2h1.3m8.8 0.2h1.3m-1.5 0.1h1.3m9.3 0.1h1.3m-20.6 0.1h1.3m5.4 0.1h1.3m-4.2 0.1h1.3m-20.9 0.1h1.3m19.1 0.1h1.3m-8.9 0h1.3m46.1 0.1h1.3m-40 0.1h1.3m-4.1 0h1.3m-0.4 0h1.3m13.5 0.3h1.3m-27.3 0.1h1.3m8.5 0h1.3m-5.5 0h1.3m2.5 0.2h1.3m-11.3 0h1.3m2.7 0.1h1.3m-3.9 0.2h1.3m39.6 0.1h1.3m-34 0h1.3m2.6 0.2h1.3m1.2 0h1.3m-10.5 0.1h1.3m-3 0.1h1.3m2.5 0.1h1.3m-7.9 0h1.3m8.2 0.1h1.3m-3.6 0h1.3m1.2 0.1h1.3m-13.9 0h1.3m10.1 0h1.3m7.1 0.1h1.3m-5.3 0h1.3m45.3 0.1h1.3m-55.8 0.1h1.3m23.6 0h1.3m-23.7 0.2h1.3m67.5 0h1.3m-70.8 0h1.3m76.1 0.2h1.3m-66.8 0h1.3m-18.8 0.1h1.3m11.8 0.1h1.3m-19 0.2h1.3m18.7 0h1.3m-21.4 0h1.3m1.7 0h1.3m13.8 0.2h1.3m40.6 0h1.3m-55.1 0.1h1.3m5 0h1.3m3.4 0.1h1.3m-10.8 0h1.3m-2.1 0.2h1.3m-6.3 0h1.3m9.3 0h1.3m10 0.1h1.3m-19.1 0h1.3m8 0.1h1.3m51.7 0h1.3m-63.6 0.1h1.3m-6.1 0.2h1.3m10.7 0h1.3m-9.9 0h1.3m16.8 0.1h1.3m69.3 0h1.3m-82.3 0h1.3m-3.1 0.1h1.3m-3.3 0h1.3m0.7 0h1.3m-2.3 0.1h1.3m56.2 0h1.3m-58.8 0h1.3m-3.1 0h1.3m4.7 0.1h1.3m0.6 0.1h1.3m-4.2 0h1.3m-2.2 0.1h1.3m-5.1 0h1.3m-8.8 0.1h1.3m21.9 0h1.3m32 0h1.3m-60.8 0h1.3m14.3 0.1h1.3m-4 0h1.3m-10.4 0.1h1.3m15.2 0.1h1.3m-6 0h1.3m11.6 0h1.3m16.5 0h1.3m-24.8 0h1.3m-11.4 0.1h1.3m46 0.2h1.3m-52 0h1.3m6.3 0h1.3m-1.1 0.1h1.3m-10.8 0h1.3m7.1 0h1.3m-3.4 0.1h1.3m-6.1 0h1.3m1.8 0.1h1.3m11.8 0h1.3m-19.5 0h1.3m2.4 0h1.3m24.4 0.1h1.3m-20.9 0.1h1.3m12.3 0.1h1.3m-26.3 0h1.3m23.1 0.1h1.3m-29 0h1.3m20.5 0h1.3m-6.7 0h1.3m-9.8 0h1.3m8.5 0.1h1.3m-13.9 0h1.3m3.9 0h1.3m8 0.1h1.3m-8.7 0.1h1.3m80.9 0h1.3m-78.5 0h1.3m-17.8 0.1h1.3m12.9 0h1.3m6.3 0.1h1.3m-18.9 0h1.3m-4.3 0.1h1.3m2.1 0.1h1.3m20.9 0h1.3m-22.6 0h1.3m1.5 0h1.3m-4.9 0.1h1.3m5.7 0h1.3m36.6 0.1h1.3m-47.3 0h1.3m7.4 0h1.3m7.1 0.1h1.3m-14.4 0h1.3m-7.3 0.3h1.3m-3.4 0h1.3m19.5 0.1h1.3m-20.9 0h1.3m12.5 0h1.3m81.7 0.1h1.3m-38.8 0h1.3m-50 0h1.3m-15.1 0.1h1.3m82.4 0h1.3m-56.6 0h1.3m-24.3 0.1h1.3m11.4 0h1.3m-4.1 0h1.3m47.8 0.2h1.3m-56.8 0.1h1.3m24.8 0h1.3m11.6 0.1h1.3m-43.3 0h1.3m1.8 0h1.3m37.3 0.1h1.3m-45.7 0h1.3m9.1 0.1h1.3m-8.4 0h1.3m12.9 0h1.3m-7.3 0.1h1.3m-11.4 0h1.3m6 0h1.3m40.2 0.1h1.3m-36.3 0h1.3m43.8 0.1h1.3m-53.3 0h1.3m2.6 0.1h1.3m-14 0h1.3m11 0h1.3m4.1 0.2h1.3m7.7 0h1.3m-20.8 0h1.3m-5.2 0.1h1.3m89.2 0.1h1.3m4.1 0.1h1.3m-99.2 0h1.3m8.5 0h1.3m0.7 0.1h1.3m-8.7 0h1.3m2.7 0h1.3m0.4 0.1h1.3m0.4 0.1h1.3m-4.1 0h1.3m42 0.1h1.3m-41.8 0h1.3m63.7 0.1h1.3m-61.2 0.1h1.3m-4 0.1h1.3m-7 0.1h1.3m-9 0h1.3m2.2 0.3h1.3m-4.3 0h1.3m67.6 0h1.3m-61.5 0.1h1.3m-6 0.1h1.3m61.5 0h1.3m-49.6 0h1.3m7.8 0.2h1.3m-29.3 0.1h1.3m15.3 0.1h1.3m1.7 0h1.3m33.7 0.2h1.3m-30.7 0h1.3m-18 0.1h1.3m-2.5 0h1.3m50.8 0h1.3m18.9 0.1h1.3m-60.2 0.1h1.3m2.7 0.1h1.3m1.2 0.1h1.3m-12.9 0.2h1.3m4 0h1.3m-29.7 0.1h1.3m3.3 0.1h1.3m10.1 0.1h1.3m-4.3 0h1.3m4.4 0h1.3m-5.5 0h1.3m-14.1 0.1h1.3m14.6 0h1.3m-6.4 0.1h1.3m4.7 0.2h1.3m-6.5 0.1h1.3m77.7 0.3h1.3m-5.4 0.1h1.3m-62.8 0.1h1.3m-4.1 0h1.3m12.8 0.2h1.3m4 0h1.3m30.7 0.3h1.3m-56.9 0.1h1.3m-14.8 0h1.3m14.4 0h1.3m31.4 0.2h1.3m-44.4 0.1h1.3m3.3 0.1h1.3m63.3 0.1h1.3m-76 0.5h1.3m14.6 0.2h1.3m-14.6 0h1.3m7.5 0h1.3m-5.2 0h1.3m49.8 0.1h1.3m-40 0.1h1.3m-2.6 0h1.3m-8.2 0.1h1.3m35.2 0h1.3m-33.5 0.1h1.3m-12.6 0.2h1.3m64.9 0.5h1.3m-21.9 0.1h1.3m-32.9 0h1.3m4 0.2h1.3m-20.4 0.2h1.3m2.2 0h1.3m14.2 0h1.3m-16.3 0.2h1.3m-2.7 0h1.3m86.9 0h1.3m-71.7 0.1h1.3m-38.6 0h1.3m24 0.2h1.3m67.9 0h1.3m-61.8 0.4h1.3m-7.1 0.1h1.3m34.2 0.1h1.3m-26.1 0.4h1.3m-38.9 0h1.3m25.7 0h1.3m58.7 0h1.3m-63 0.6h1.3m-13 0h1.3m14.8 0.1h1.3m-18 0.1h1.3m32.2 0.3h1.3m-33.8 0.1h1.3m45.7 0h1.3m-46.6 1h1.3m50.6 0h1.3m-44.7 0.2h1.3m1.8 0.1h1.3m50.3 0.4h1.3m5.2 0h1.3m-67.7 0.2h1.3m64.2 0.1h1.3m-48.2 0.8h1.3m36.8 0.1h1.3m-19.1 0.1h1.3m-41.4 0.3h1.3m-12.8 0.6h1.3m54.1 0.2h1.3m11.1 0.2h1.3m-46.1 0.8h1.3m26.3 0.1h1.3m-18.4 0.1h1.3m-12.1 0h1.3m56.3 0.3h1.3m-53.1 0.5h1.3m-8.2 0.3h1.3m-12.6 0.3h1.3m89.6 0.1h1.3m-82.4 0.2h1.3m12.3 0.2h1.3m-19.9 0.3h1.3m7.6 0.3h1.3m54.4 0.5h1.3m-18.8 0.1h1.3m-43.1 0.1h1.3m-7.2 0h1.3m14.4 0h1.3m54.4 0h1.3m-27.8 0.3h1.3m-56 0.2h1.3m103.2 0.5h1.3m-52.5 0.7h1.3m-33.3 0.1h1.3m-18.8 0.1h1.3m74.9 1.1h1.3m-61 1h1.3m62.5 1.7h1.3m-77.8 0h1.3m15.7 0.9h1.3m-6.8 0.5h1.3m-9.7 0.3h1.3m8.4 0h1.3m-2.3 0.3h1.3m46.5 0.2h1.3m-15.3 0.2h1.3m-44.5 0.2h1.3m-2 0.1h1.3m9.2 0.2h1.3m7.7 0.3h1.3m61.9 0.3h1.3m-79 0.1h1.3m-13.4 0.1h1.3m87 0.4h1.3m-82.2 0.1h1.3m73.1 0.1h1.3m1.5 0.1h1.3m-81.2 0.1h1.3m55 0.2h1.3m-49.4 0.2h1.3m12.2 1.2h1.3m46.7 0h1.3m-11.9 0.2h1.3m-54.5 0h1.3m-13.1 0h1.3m86.2 0.1h1.3m1.5 1.8h1.3m-84.3 0.1h1.3m44.5 0.1h1.3m-17.8 0.1h1.3m28.6 0.1h1.3m21.7 0.2h1.3m5.9 1h1.3m-92.2 0.2h1.3m11.8 0.5h1.3m54.3 0.3h1.3m19 0.6h1.3m-79.2 0h1.3m57.7 0.1h1.3m-62.4 0.3h1.3m-1.3 0.3h1.3m57.2 0.1h1.3m-61.9 0h1.3m59.2 0.4h1.3m-59.7 0.1h1.3m-3.4 0.3h1.3m-8.3 0.3h1.3m18.1 0.1h1.3m46.4 0.1h1.3m-61.4 0.1h1.3m42.3 0h1.3m3.5 0.1h1.3m-31.7 0.3h1.3m55.5 0.1h1.3m-12.3 0h1.3m1.7 0.3h1.3m-21.5 1.2h1.3m-50.3 0.2h1.3m66.6 0.1h1.3m8.8 0h1.3m-7.5 0.2h1.3m13.8 0h1.3m-72 0.1h1.3m54.8 0.1h1.3m-63.6 0.2h1.3m44.4 0.4h1.3m-18.4 0.1h1.3m-39.5 0.2h1.3m79.5 0h1.3m-84.9 0.1h1.3m75.3 0.2h1.3m-71.7 0h1.3m73.6 0.1h1.3m-30.6 0.2h1.3m1.1 0.1h1.3m-7 0.2h1.3m34.7 0h1.3m-11.6 0.2h1.3m-71.8 0h1.3m-9.6 0.1h1.3m7.7 0.1h1.3m62.2 0.1h1.3m-54.3 0.1h1.3m55.8 0.1h1.3m-30.6 0.2h1.3m-12.4 0.1h1.3m-32.6 0.1h1.3m31.8 0.1h1.3m40.2 0h1.3m-41 0.1h1.3m-34.1 0.3h1.3m67.4 0.1h1.3m-48.9 0.1h1.3m-21.8 0.1h1.3m-2.9 0h1.3m18.3 0h1.3m-15.9 0.3h1.3m3.7 0.1h1.3m58.9 0.3h1.3m-23.8 0h1.3m-52.4 0.1h1.3m31 0h1.3m42.7 0.4h1.3m10.9 0.2h1.3m-80.4 0.8h1.3m73.9 0.2h1.3m-12.8 0.1h1.3m-17.4 0.1h1.3m-3.1 0.4h1.3m-3.5 0.1h1.3m9.1 0.3h1.3m6.7 0.4h1.3m-8.4 0.1h1.3m-54.7 0.2h1.3m57.2 0.2h1.3m-71.2 0.1h1.3m46.3 0.1h1.3m14.5 0.4h1.3m13.5 0.3h1.3m-65 0.1h1.3m80.5 0.1h1.3m-92.2 0.1h1.3m38.7 0.2h1.3m17.5 0h1.3m5.2 0.1h1.3m1.3 0.4h1.3m-75.7 0.1h1.3m56.4 0.1h1.3m8.4 0.2h1.3m-36.1 0.5h1.3m32.7 0.1h1.3m12.2 0h1.3m-27.7 0.1h1.3m0.8 0h1.3m-43 0.5h1.3m-8.3 0.6h1.3m-12.8 0.2h1.3m93.3 0.1h1.3m-92.5 0h1.3m59.1 0.3h1.3m-44 0.2h1.3m-20.6 0.4h1.3m-1.5 0.4h1.3m5.9 0.1h1.3m14.1 0.2h1.3m27.2 0h1.3m20.6 0.1h1.3m-70 0.5h1.3m2.9 0.1h1.3m74.9 0.1h1.3m-88.3 0h1.3m70.4 0.6h1.3m5.8 0.7h1.3m-21.4 0.3h1.3m-44.5 0.4h1.3m70.4 0.5h1.3m-49.6 1h1.3m-26.8 0h1.3m-4.1 1.2h1.3m-0.8 0.1h1.3m65.2 0.3h1.3m5.6 0.6h1.3m-7.5 0.9h1.3m21.8 0.8h1.3m-8.9 1h1.3m-8.5 2h1.3" stroke="#000" stroke-opacity="0.38" stroke-width="1.3" fill="none"/><path d="M247.1 66.1h1.3m20.5 0h1.3m26.7 0.9h1.3m-3.8 0.2h1.3m-54.2 0.4h1.3m-30.2 0.2h1.3m9.1 0h1.3m5.2 0.7h1.3m3.5 0.7h1.3m-20.3 0.4h1.3m10.6 0.2h1.3m8.9 0.5h1.3m-8.7 0.2h1.3m21.4 0.1h1.3m-35.8 0.1h1.3m2.8 0.1h1.3m90.1 0.1h1.3m-90.4 0.2h1.3m-1.5 0.2h1.3m81.2 0.1h1.3m-58.8 0.1h1.3m-26 0h1.3m-8.1 0.1h1.3m-7.5 0.1h1.3m13.8 0h1.3m-15.5 0.8h1.3m18.6 0.1h1.3m68.3 0h1.3m-55.5 0h1.3m-14.2 0.7h1.3m-8.5 0h1.3m-5.8 0.1h1.3m67.7 0.1h1.3m-72.1 0.1h1.3m1.7 0h1.3m-5.4 0.2h1.3m9.7 0.3h1.3m1.8 0h1.3m-5.5 0.1h1.3m36.3 0.4h1.3m-38.3 0.1h1.3m-14.4 0.1h1.3m-6.9 0.1h1.3m8.2 0.1h1.3m64.6 0h1.3m-60 0.1h1.3m0.2 0.1h1.3m7.7 0h1.3m-14.4 0h1.3m37.4 0.1h1.3m-41.1 0.1h1.3m-3.6 0.1h1.3m6.7 0.2h1.3m-6.9 0h1.3m2.2 0.1h1.3m0.5 0h1.3m-5.7 0.3h1.3m-3.7 0h1.3m0.5 0.1h1.3m-22.3 0h1.3m27 0.1h1.3m48.4 0.3h1.3m-69.7 0h1.3m41.1 0.1h1.3m-35.3 0h1.3m10.3 0.1h1.3m-1.7 0.1h1.3m31 0.1h1.3m-50 0h1.3m5.7 0.1h1.3m59.2 0.1h1.3m-56 0.1h1.3m-12.6 0.2h1.3m34.7 0h1.3m-37.1 0.1h1.3m-1.1 0.1h1.3m1.8 0.1h1.3m-0.5 0h1.3m-0.4 0.1h1.3m1.5 0h1.3m-17.3 0.3h1.3m19.9 0.1h1.3m24.9 0.2h1.3m-30.4 0h1.3m-18.4 0h1.3m9.6 0.1h1.3m-0.4 0h1.3m2.1 0h1.3m4.3 0.1h1.3m-19.5 0h1.3m9.2 0h1.3m-6 0h1.3m7.4 0.1h1.3m10 0.1h1.3m-20.4 0h1.3m4.1 0.1h1.3m-1.6 0h1.3m3.4 0.1h1.3m-8.8 0.1h1.3m7.1 0h1.3m-0.5 0h1.3m-5 0h1.3m-11.3 0.1h1.3m72 0h1.3m-68.5 0h1.3m3 0h1.3m-6.2 0.1h1.3m-3.4 0.1h1.3m3.3 0.2h1.3m9.7 0h1.3m33.1 0.2h1.3m-47.6 0h1.3m70.7 0.1h1.3m-82.1 0.1h1.3m30 0h1.3m-29.6 0h1.3m61.3 0.1h1.3m-71.2 0h1.3m40.3 0h1.3m-32.7 0.1h1.3m-1.9 0.1h1.3m4 0.1h1.3m-6.7 0h1.3m27.7 0h1.3m-30 0.2h1.3m4.5 0.1h1.3m-7.4 0.1h1.3m75.5 0h1.3m-69.3 0h1.3m0.1 0.1h1.3m-9.9 0h1.3m-5.3 0h1.3m48.3 0.1h1.3m-30.7 0.2h1.3m-21 0h1.3m-2.3 0.1h1.3m43.8 0h1.3m-38.6 0h1.3m-11.7 0h1.3m2 0h1.3m0.3 0h1.3m-9.9 0.1h1.3m6.6 0.1h1.3m9.8 0h1.3m-4.5 0h1.3m0.3 0h1.3m39.3 0.1h1.3m-54.2 0h1.3m-4.7 0h1.3m3.6 0.1h1.3m6.8 0.1h1.3m-9 0h1.3m18.5 0.1h1.3m-11.6 0h1.3m-2.1 0h1.3m2.9 0.1h1.3m-4.5 0h1.3m-7.5 0.1h1.3m0.4 0h1.3m89.9 0.1h1.3m-92.5 0h1.3m0.2 0h1.3m-6.3 0.2h1.3m-0.7 0h1.3m-4.8 0h1.3m36.7 0h1.3m0.6 0h1.3m-45.1 0.1h1.3m6.9 0h1.3m2.2 0.1h1.3m14.2 0h1.3m-16 0.1h1.3m46.2 0.3h1.3m2 0h1.3m-13.9 0.1h1.3m-52.1 0h1.3m12.7 0h1.3m1.5 0h1.3m-7.5 0h1.3m-3.1 0.1h1.3m1.1 0.1h1.3m-7.1 0h1.3m5.3 0h1.3m8.3 0h1.3m-11.7 0.1h1.3m78.4 0.1h1.3m-84.8 0h1.3m-0.4 0h1.3m-10.6 0h1.3m15.4 0.1h1.3m31 0h1.3m-54.3 0h1.3m7.8 0h1.3m7.1 0h1.3m4.7 0.1h1.3m-19.1 0h1.3m18.3 0h1.3m-14.9 0.1h1.3m24.8 0h1.3m-28.7 0.2h1.3m-6.5 0.1h1.3m7.3 0.1h1.3m29.8 0h1.3m-32.3 0.1h1.3m0.8 0h1.3m87.7 0h1.3m-90.8 0h1.3m-0.7 0.1h1.3m-7.7 0h1.3m13.1 0.2h1.3m-13.7 0.1h1.3m65.4 0h1.3m-34.4 0h1.3m8.6 0h1.3m1.9 0h1.3m-46.2 0.1h1.3m-1.2 0h1.3m36.9 0h1.3m-37 0h1.3m-7.1 0.1h1.3m30.9 0h1.3m24.4 0.1h1.3m-47.3 0h1.3m0.6 0.1h1.3m-12.7 0h1.3m0.5 0h1.3m-4.1 0h1.3m9.8 0h1.3m-12.5 0.1h1.3m7.7 0h1.3m-3.7 0.1h1.3m-0.2 0h1.3m4 0h1.3m-11.3 0h1.3m64.7 0h1.3m-61.8 0.1h1.3m48.8 0h1.3m-58.9 0h1.3m4.6 0.1h1.3m-11.6 0h1.3m14.2 0.2h1.3m-15 0.1h1.3m8.7 0.3h1.3m-15.4 0.1h1.3m16.6 0h1.3m-24.1 0.1h1.3m10.5 0h1.3m2.2 0.1h1.3m2.2 0.3h1.3m-9 0.1h1.3m-0.9 0.1h1.3m3.2 0h1.3m-10.7 0.2h1.3m0.4 0.1h1.3m41 0.1h1.3m15.5 0.3h1.3m-68.1 0h1.3m19.1 0h1.3m-28.7 0.1h1.3m31.3 0h1.3m33.4 0.1h1.3m-51.1 0h1.3m6.1 0h1.3m7 0.3h1.3m-17.2 0.1h1.3m21 0.1h1.3m-15.5 0h1.3m-7.1 0h1.3m54.3 0.1h1.3m-64.2 0.1h1.3m-15.9 0h1.3m63.1 0.1h1.3m-49.4 0.1h1.3m2.3 0h1.3m1.4 0.1h1.3m3.1 0.2h1.3m-0.6 0h1.3m-13.4 0.2h1.3m6.8 0.1h1.3m53.4 0.1h1.3m-39 0h1.3m-31.7 0.1h1.3m-3.7 0h1.3m66.6 0.2h1.3m-25.2 0h1.3m-17 0.1h1.3m-10.5 0h1.3m-7.3 0.1h1.3m65.6 0h1.3m-58.2 0h1.3m80.2 0.1h1.3m-101.6 0.1h1.3m34.8 0.3h1.3m-26.2 0.1h1.3m-6.5 0.1h1.3m9.2 0h1.3m30.4 0h1.3m-24.4 0h1.3m27.6 0.4h1.3m21.7 0h1.3m-25.1 0.1h1.3m-41.9 0h1.3m38.6 0.2h1.3m-39.5 0.1h1.3m1.3 0h1.3m39.3 0.2h1.3m11.8 0h1.3m-52.9 0.1h1.3m-21.3 0h1.3m72.3 0.1h1.3m-18.2 0.2h1.3m-52.3 0.1h1.3m-0.9 0.1h1.3m-8 0.1h1.3m66 0h1.3m-44.4 0.2h1.3m-19.3 0.2h1.3m59.3 0.1h1.3m-43.4 0.3h1.3m-18.7 0h1.3m52.2 0.1h1.3m-35.6 0h1.3m-12.6 0.3h1.3m2.2 0.3h1.3m30.7 0h1.3m-33.7 0.1h1.3m46.5 0.1h1.3m-44.4 0.3h1.3m-5 0.3h1.3m0.5 0.3h1.3m-11.3 0.2h1.3m41.5 0.1h1.3m31.2 0.1h1.3m-92.6 0.2h1.3m1.1 0h1.3m58.4 0h1.3m-8.4 0.2h1.3m7.5 0.1h1.3m-46.1 0.1h1.3m56.1 0.2h1.3m5 0.5h1.3m-17.9 0h1.3m-38.7 0.3h1.3m34.3 0h1.3m-36.5 0.3h1.3m-8 0.2h1.3m59.9 0.6h1.3m-10.9 0h1.3m-29.5 0h1.3m-37 0.1h1.3m10.9 0.2h1.3m-6.4 0h1.3m13 0h1.3m73.9 0.1h1.3m-87.1 0.4h1.3m7.1 0.7h1.3m-6.1 0h1.3m40.6 0.1h1.3m-56.4 0.1h1.3m27.5 0.1h1.3m-36.5 0.7h1.3m19.6 0.1h1.3m10.1 0.3h1.3m29.8 0.2h1.3m-45.4 0.1h1.3m-13.1 0.2h1.3m15.3 0.4h1.3m-9.4 1.3h1.3m-14.7 0.7h1.3m24.2 0.9h1.3m-7.6 0h1.3m-9.2 0h1.3m1.5 0.2h1.3m8.3 0.1h1.3m0.9 0.1h1.3m0.1 0h1.3m-17.1 0.3h1.3m-12.2 0.2h1.3m80.9 0.3h1.3m-83.7 0.2h1.3m11.4 0.1h1.3m6.7 0.1h1.3m-19 0.4h1.3m0.9 0.6h1.3m18.8 0.1h1.3m13.3 0.1h1.3m-28.3 0.1h1.3m15.9 0.1h1.3m-13.7 0.1h1.3m48.2 0.1h1.3m18.1 0.2h1.3m-38.1 0h1.3m-22.5 0.5h1.3m-42.1 0.3h1.3m29.9 0.1h1.3m25.3 0.4h1.3m-16.9 0.2h1.3m-10.7 0.2h1.3m-12.8 0.2h1.3m-6 0.1h1.3m9.3 0.3h1.3m-4.6 0.2h1.3m-9.2 0.9h1.3m14.8 0.1h1.3m-5.2 1h1.3m-16.7 0h1.3m-0.7 0.2h1.3m43.7 0h1.3m-31.3 0.3h1.3m64.3 0.1h1.3m-74.6 0.3h1.3m70.4 0.4h1.3m-62.1 0.3h1.3m-17.9 0.2h1.3m81.1 0.1h1.3m-68.3 0h1.3m-3.4 0.1h1.3m54.6 0.2h1.3m-57.7 0.2h1.3m2.9 0.4h1.3m-7.5 0.5h1.3m75.3 0.2h1.3m-73.6 0.2h1.3m66.6 0.1h1.3m-15.5 0.2h1.3m-2.7 0.3h1.3m-63.1 0.2h1.3m11.9 0.2h1.3m49 0.1h1.3m-67.3 0.2h1.3m66.1 0.3h1.3m-16.5 0.4h1.3m-33.8 0.4h1.3m67.1 0.2h1.3m-85.7 0.1h1.3m92.5 0.1h1.3m-81 0.5h1.3m-1.5 0.5h1.3m43 0h1.3m7.4 0.4h1.3m-59.7 0.5h1.3m71.4 0.3h1.3m-39 0h1.3m-37 0.1h1.3m2.9 0.1h1.3m-14 0.1h1.3m59.1 0h1.3m-58.3 0.1h1.3m-0.6 0.1h1.3m-2.6 0.2h1.3m55.3 0.2h1.3m-53.2 0h1.3m8.5 0.3h1.3m30.5 0.4h1.3m7.9 0.1h1.3m-46.6 0.3h1.3m-15.5 0.1h1.3m-2.1 0h1.3m20.5 0.2h1.3m53.4 0.7h1.3m0.7 0.2h1.3m-5.1 0.2h1.3m1.3 0.2h1.3m-81.8 0h1.3m59.3 0.5h1.3m-2.4 0h1.3m12.9 0.2h1.3m-53.6 0.2h1.3m11 0.3h1.3m36.8 0.3h1.3m-67.4 0.2h1.3m62.1 0.2h1.3m-54.3 0h1.3m56.8 0.1h1.3m10.6 0.3h1.3m-79.7 0.1h1.3m39.3 0.1h1.3m6.2 0.1h1.3m28.9 0h1.3m-21.3 0.7h1.3m-12.5 0.3h1.3m-33.7 0.2h1.3m44.2 0.1h1.3m19.1 0.1h1.3m-83 0h1.3m-0.8 0.1h1.3m2.4 0.1h1.3m68.1 0h1.3m-10.6 0.2h1.3m-12.5 0.2h1.3m-0.4 0.4h1.3m-23 0.1h1.3m18.5 0.6h1.3m-44.2 0.3h1.3m54.6 0.3h1.3m-59.3 0.1h1.3m-2.3 0h1.3m-8.7 0.2h1.3m54.2 0.1h1.3m32.4 0.1h1.3m-28.3 0h1.3m-57.2 0.1h1.3m79.7 0h1.3m-29.1 0h1.3m-14.8 0.2h1.3m-35.3 0.3h1.3m-4.7 0.1h1.3m-16.4 0h1.3m94.3 0.5h1.3m-86.6 0h1.3m61 0.2h1.3m-11.2 0.4h1.3m12.3 0.1h1.3m-14.9 0.1h1.3m-52.4 0.2h1.3m0.9 0.1h1.3m73.8 0.1h1.3m-18.4 0.8h1.3m6.3 0.3h1.3m8.4 0h1.3m-52.1 0.3h1.3m39.3 0h1.3m-55.5 1h1.3m47.6 0.5h1.3m-18.1 0.2h1.3m-41.7 0.2h1.3m-16.1 0h1.3m70.3 0.1h1.3m-38.4 1h1.3m-12.8 0.9h1.3m55.6 0.9h1.3m-65.5 0.2h1.3m45.1 0.7h1.3m6.2 0.1h1.3m-15.6 0.1h1.3m29.5 0.6h1.3m-26.1 0.2h1.3m-2.7 0.5h1.3m-6.2 0.9h1.3m35.8 0.5h1.3m-23.8 0h1.3m24 0.3h1.3m-72.7 0.6h1.3m41.7 0.3h1.3m-33.3 0h1.3m-37.4 0.1h1.3m80.3 0.2h1.3m-7.3 0h1.3m-63 0.2h1.3m56.7 0.8h1.3m7.3 1.4h1.3m-6.9 1h1.3m13.6 1h1.3m-36.6 0.3h1.3" stroke="#000" stroke-opacity="0.38" stroke-width="1.3" fill="none"/></g>
<path d="M190.40 42.40H193.20M190.40 64.10H193.20M190.40 89.60H193.20M190.40 121.30H193.20M190.40 154.40H193.20M191.70 57.57H193.20M191.70 53.75H193.20M191.70 51.04H193.20M191.70 48.93H193.20M191.70 47.21H193.20M191.70 45.76H193.20M191.70 44.50H193.20M191.70 43.39H193.20M191.70 81.92H193.20M191.70 77.43H193.20M191.70 74.25H193.20M191.70 71.78H193.20M191.70 69.76H193.20M191.70 68.05H193.20M191.70 66.57H193.20M191.70 65.27H193.20M191.70 94.88H193.20M191.70 100.17H193.20M191.70 105.45H193.20M191.70 110.73H193.20M191.70 116.02H193.20M191.70 117.50H193.20M191.70 118.79H193.20M191.70 120.07H193.20M191.70 121.36H193.20M191.70 122.64H193.20M191.70 123.93H193.20M191.70 125.21H193.20M191.70 126.50H193.20M191.70 126.82H193.20M191.70 132.33H193.20M191.70 137.85H193.20M191.70 143.37H193.20M191.70 148.88H193.20M191.70 163.76H193.20M191.70 169.24H193.20M204.60 173.00V176.00M231.50 173.00V176.00M266.10 173.00V176.00M297.30 173.00V176.00M324.10 173.00V176.00M195.21 173.00V174.60M209.98 173.00V174.60M215.36 173.00V174.60M220.74 173.00V174.60M226.12 173.00V174.60M223.80 173.00V174.60M225.14 173.00V174.60M226.49 173.00V174.60M227.83 173.00V174.60M229.18 173.00V174.60M230.52 173.00V174.60M231.87 173.00V174.60M233.21 173.00V174.60M234.56 173.00V174.60M235.90 173.00V174.60M237.27 173.00V174.60M243.03 173.00V174.60M248.80 173.00V174.60M254.57 173.00V174.60M260.33 173.00V174.60M275.49 173.00V174.60M280.99 173.00V174.60M284.88 173.00V174.60M287.91 173.00V174.60M290.38 173.00V174.60M292.47 173.00V174.60M294.28 173.00V174.60M295.87 173.00V174.60M305.37 173.00V174.60M310.09 173.00V174.60M313.44 173.00V174.60M316.03 173.00V174.60M318.15 173.00V174.60M319.95 173.00V174.60M321.50 173.00V174.60M322.87 173.00V174.60" stroke="#444" stroke-width="0.8" fill="none"/>
<text x="178.10" y="49.90" font-size="5.3" fill="#666">10<tspan dx="1.3" dy="-3.2" font-size="4.7">6</tspan></text>
<text x="178.10" y="66.80" font-size="5.3" fill="#666">10<tspan dx="1.3" dy="-3.2" font-size="4.7">5</tspan></text>
<text x="178.40" y="92.30" font-size="5.3" fill="#666">10<tspan dx="1.3" dy="-3.2" font-size="4.7">4</tspan></text>
<text x="181.00" y="123.80" font-size="5.3" fill="#666">0</text>
<text x="175.30" y="157.00" font-size="5.3" fill="#666">-10<tspan dx="1.3" dy="-3.2" font-size="4.7">4</tspan></text>
<text x="195.30" y="185.00" font-size="5.3" fill="#666">-10<tspan dx="1.3" dy="-3.2" font-size="4.7">4</tspan></text>
<text x="230.70" y="185.00" font-size="5.3" fill="#666">0</text>
<text x="266.10" y="185.00" font-size="5.3" fill="#666">10<tspan dx="1.3" dy="-3.2" font-size="4.7">4</tspan></text>
<text x="297.30" y="185.00" font-size="5.3" fill="#666">10<tspan dx="1.3" dy="-3.2" font-size="4.7">5</tspan></text>
<text x="315.90" y="185.00" font-size="5.3" fill="#666">10<tspan dx="1.3" dy="-3.2" font-size="4.7">6</tspan></text>
<rect x="193.20" y="42.00" width="132.40" height="131.00" fill="none" stroke="#2a2a2a" stroke-width="1.1"/>
<path d="M191.40 116.00H193.20V128.00H191.40Z" fill="#1e1e1e"/>
<path d="M189.80 116.40H193.20M189.80 127.60H193.20" stroke="#999" stroke-width="1.1" fill="none"/>
<path d="M189.60 122.00H193.20" stroke="#1e1e1e" stroke-width="1.3" fill="none"/>
<path d="M223.80 173.00V175.70H235.90V173.00Z" fill="#1e1e1e"/>
<path d="M224.30 173.00V176.80M235.40 173.00V176.80" stroke="#555" stroke-width="1.1" fill="none"/>
<path d="M229.85 173.00V177.00" stroke="#1e1e1e" stroke-width="1.3" fill="none"/>
<line x1="252.20" y1="42.00" x2="252.20" y2="173.00" stroke="#2a2a2a" stroke-width="1.0"/>
<line x1="193.20" y1="104.40" x2="325.60" y2="104.40" stroke="#2a2a2a" stroke-width="1.0"/>
<text font-size="14.2" transform="translate(195.80 54.90)">3.54</text>
<text font-size="12.4" transform="translate(196.60 66.80)">DN1</text>
<text font-size="14.2" transform="translate(195.80 160.60)">0.34</text>
<text font-size="12.4" transform="translate(196.20 170.80)">DN3</text>
<text font-size="14.2" text-anchor="end" transform="translate(324.00 157.40)">0.44</text>
<text font-size="12.4" text-anchor="end" transform="translate(323.70 170.00)">DN2</text>
<line x1="5.40" y1="43.40" x2="5.40" y2="110.50" stroke="#333" stroke-width="0.95"/>
<path d="M5.40 39.30L2.70 44.40L5.40 43.40L8.10 44.40Z" fill="#1e1e1e"/>
<text font-size="16.5" text-anchor="middle" transform="translate(13.30 146.20) rotate(-90)">CXCR5</text>
<text font-size="15.85" transform="translate(32.40 200.70)">CD11c</text>
<line x1="96.00" y1="195.40" x2="325.90" y2="195.40" stroke="#333" stroke-width="0.95"/>
<path d="M330.10 195.40L324.90 192.80L325.90 195.40L324.90 198.00Z" fill="#1e1e1e"/>
<text x="350.20" y="15.60" font-size="22.4" stroke="#222" stroke-width="0.28">B</text>
<line x1="399.50" y1="36.80" x2="399.50" y2="182.10" stroke="#333" stroke-width="1.0"/>
<line x1="399.50" y1="182.10" x2="496.30" y2="182.10" stroke="#333" stroke-width="1.0"/>
<line x1="394.00" y1="36.80" x2="399.50" y2="36.80" stroke="#333" stroke-width="1.0"/>
<text font-size="15.9" text-anchor="end" transform="translate(393.00 40.05) scale(0.93 1.0)">6</text>
<line x1="394.00" y1="85.30" x2="399.50" y2="85.30" stroke="#333" stroke-width="1.0"/>
<text font-size="15.9" text-anchor="end" transform="translate(393.00 88.55) scale(0.93 1.0)">4</text>
<line x1="394.00" y1="133.70" x2="399.50" y2="133.70" stroke="#333" stroke-width="1.0"/>
<text font-size="15.9" text-anchor="end" transform="translate(393.00 136.95) scale(0.93 1.0)">2</text>
<line x1="394.00" y1="182.10" x2="399.50" y2="182.10" stroke="#333" stroke-width="1.0"/>
<text font-size="15.9" text-anchor="end" transform="translate(393.00 185.35) scale(0.93 1.0)">0</text>
<line x1="427.00" y1="182.10" x2="427.00" y2="187.60" stroke="#333" stroke-width="1.0"/>
<text font-size="14.0" text-anchor="middle" transform="translate(428.50 199.60) scale(0.92 1.0)">JIA</text>
<line x1="427.00" y1="126.80" x2="427.00" y2="143.80" stroke="#333" stroke-width="0.9"/>
<line x1="413.30" y1="133.30" x2="441.00" y2="133.30" stroke="#333" stroke-width="1.0"/>
<line x1="420.30" y1="126.80" x2="434.00" y2="126.80" stroke="#333" stroke-width="1.0"/>
<line x1="420.30" y1="143.80" x2="434.00" y2="143.80" stroke="#333" stroke-width="1.0"/>
<circle cx="427.00" cy="105.80" r="2.05" fill="#fff" stroke="#1e1e1e" stroke-width="0.95"/>
<circle cx="418.50" cy="124.50" r="2.05" fill="#fff" stroke="#1e1e1e" stroke-width="0.95"/>
<circle cx="418.50" cy="130.00" r="2.05" fill="#fff" stroke="#1e1e1e" stroke-width="0.95"/>
<circle cx="427.00" cy="127.30" r="2.05" fill="#fff" stroke="#1e1e1e" stroke-width="0.95"/>
<circle cx="436.00" cy="131.50" r="2.05" fill="#fff" stroke="#1e1e1e" stroke-width="0.95"/>
<circle cx="427.00" cy="135.50" r="2.05" fill="#fff" stroke="#1e1e1e" stroke-width="0.95"/>
<circle cx="436.00" cy="138.20" r="2.05" fill="#fff" stroke="#1e1e1e" stroke-width="0.95"/>
<circle cx="427.00" cy="141.30" r="2.05" fill="#fff" stroke="#1e1e1e" stroke-width="0.95"/>
<circle cx="423.00" cy="152.20" r="2.05" fill="#fff" stroke="#1e1e1e" stroke-width="0.95"/>
<circle cx="431.30" cy="150.40" r="2.05" fill="#fff" stroke="#1e1e1e" stroke-width="0.95"/>
<line x1="468.80" y1="182.10" x2="468.80" y2="187.60" stroke="#333" stroke-width="1.0"/>
<text font-size="14.0" text-anchor="middle" transform="translate(469.60 200.50) scale(0.92 1.0)">JIA</text>
<text font-size="14.0" text-anchor="middle" transform="translate(469.60 216.30) scale(0.92 1.0)">Uveitis</text>
<line x1="468.80" y1="72.20" x2="468.80" y2="108.30" stroke="#333" stroke-width="0.9"/>
<line x1="455.00" y1="101.40" x2="482.50" y2="101.40" stroke="#333" stroke-width="1.0"/>
<line x1="461.50" y1="72.20" x2="475.70" y2="72.20" stroke="#333" stroke-width="1.0"/>
<line x1="461.50" y1="108.30" x2="475.70" y2="108.30" stroke="#333" stroke-width="1.0"/>
<circle cx="468.80" cy="45.90" r="2.2" fill="#1a1a1a"/>
<circle cx="468.80" cy="59.60" r="2.2" fill="#1a1a1a"/>
<circle cx="468.80" cy="85.70" r="2.2" fill="#1a1a1a"/>
<circle cx="468.60" cy="96.60" r="2.2" fill="#1a1a1a"/>
<circle cx="464.20" cy="101.30" r="2.2" fill="#1a1a1a"/>
<circle cx="464.20" cy="106.20" r="2.2" fill="#1a1a1a"/>
<circle cx="473.00" cy="104.20" r="2.2" fill="#1a1a1a"/>
<circle cx="473.20" cy="110.10" r="2.2" fill="#1a1a1a"/>
<circle cx="468.80" cy="125.00" r="2.2" fill="#1a1a1a"/>
<path d="M427.20 43.80V35.20H468.60V43.80" fill="none" stroke="#333" stroke-width="1.0"/>
<text font-size="14.3" text-anchor="middle" transform="translate(446.10 32.80) scale(0.975 1.0)">0.0002</text>
<text font-size="15.6" text-anchor="middle" transform="translate(364.20 107.00) rotate(-90)">% of CXCR5<tspan dx="0.70" dy="-5.62" font-size="7.80">+</tspan><tspan dx="0.70" dy="5.62">CD11c</tspan><tspan dx="0.00" dy="-5.62" font-size="7.80">-</tspan></text>
<text font-size="15.6" text-anchor="middle" transform="translate(383.20 107.00) rotate(-90)">DN1 B cells</text>
<text x="522.10" y="15.60" font-size="22.4" stroke="#222" stroke-width="0.28">C</text>
<line x1="584.10" y1="32.60" x2="584.10" y2="179.80" stroke="#333" stroke-width="1.0"/>
<line x1="584.10" y1="179.80" x2="681.90" y2="179.80" stroke="#333" stroke-width="1.0"/>
<line x1="578.60" y1="32.60" x2="584.10" y2="32.60" stroke="#333" stroke-width="1.0"/>
<text font-size="15.9" text-anchor="end" transform="translate(577.60 35.85) scale(0.93 1.0)">1.5</text>
<line x1="578.60" y1="81.60" x2="584.10" y2="81.60" stroke="#333" stroke-width="1.0"/>
<text font-size="15.9" text-anchor="end" transform="translate(577.60 84.85) scale(0.93 1.0)">1.0</text>
<line x1="578.60" y1="130.70" x2="584.10" y2="130.70" stroke="#333" stroke-width="1.0"/>
<text font-size="15.9" text-anchor="end" transform="translate(577.60 133.95) scale(0.93 1.0)">0.5</text>
<line x1="578.60" y1="179.80" x2="584.10" y2="179.80" stroke="#333" stroke-width="1.0"/>
<text font-size="15.9" text-anchor="end" transform="translate(577.60 183.05) scale(0.93 1.0)">0.0</text>
<line x1="612.20" y1="179.80" x2="612.20" y2="185.30" stroke="#333" stroke-width="1.0"/>
<text font-size="14.0" text-anchor="middle" transform="translate(614.00 198.20) scale(0.92 1.0)">JIA</text>
<line x1="612.20" y1="133.10" x2="612.20" y2="156.90" stroke="#333" stroke-width="0.9"/>
<line x1="598.00" y1="148.30" x2="625.60" y2="148.30" stroke="#333" stroke-width="1.0"/>
<line x1="605.50" y1="133.10" x2="619.30" y2="133.10" stroke="#333" stroke-width="1.0"/>
<line x1="605.50" y1="156.90" x2="619.30" y2="156.90" stroke="#333" stroke-width="1.0"/>
<circle cx="612.20" cy="53.30" r="2.05" fill="#fff" stroke="#1e1e1e" stroke-width="0.95"/>
<circle cx="612.20" cy="127.90" r="2.05" fill="#fff" stroke="#1e1e1e" stroke-width="0.95"/>
<circle cx="607.70" cy="137.70" r="2.05" fill="#fff" stroke="#1e1e1e" stroke-width="0.95"/>
<circle cx="616.80" cy="134.50" r="2.05" fill="#fff" stroke="#1e1e1e" stroke-width="0.95"/>
<circle cx="616.80" cy="146.30" r="2.05" fill="#fff" stroke="#1e1e1e" stroke-width="0.95"/>
<circle cx="607.70" cy="150.50" r="2.05" fill="#fff" stroke="#1e1e1e" stroke-width="0.95"/>
<circle cx="607.70" cy="155.00" r="2.05" fill="#fff" stroke="#1e1e1e" stroke-width="0.95"/>
<circle cx="616.80" cy="155.00" r="2.05" fill="#fff" stroke="#1e1e1e" stroke-width="0.95"/>
<circle cx="607.70" cy="163.30" r="2.05" fill="#fff" stroke="#1e1e1e" stroke-width="0.95"/>
<circle cx="616.80" cy="163.30" r="2.05" fill="#fff" stroke="#1e1e1e" stroke-width="0.95"/>
<line x1="654.40" y1="179.80" x2="654.40" y2="185.30" stroke="#333" stroke-width="1.0"/>
<text font-size="14.0" text-anchor="middle" transform="translate(654.40 198.20) scale(0.92 1.0)">JIA</text>
<text font-size="14.0" text-anchor="middle" transform="translate(654.40 214.00) scale(0.92 1.0)">Uveitis</text>
<line x1="654.40" y1="102.50" x2="654.40" y2="152.00" stroke="#333" stroke-width="0.9"/>
<line x1="640.00" y1="136.40" x2="668.10" y2="136.40" stroke="#333" stroke-width="1.0"/>
<line x1="647.00" y1="102.50" x2="661.40" y2="102.50" stroke="#333" stroke-width="1.0"/>
<line x1="647.00" y1="152.00" x2="661.40" y2="152.00" stroke="#333" stroke-width="1.0"/>
<circle cx="654.20" cy="44.50" r="2.2" fill="#1a1a1a"/>
<circle cx="654.40" cy="97.70" r="2.2" fill="#1a1a1a"/>
<circle cx="654.40" cy="107.40" r="2.2" fill="#1a1a1a"/>
<circle cx="649.80" cy="136.70" r="2.2" fill="#1a1a1a"/>
<circle cx="659.00" cy="136.70" r="2.2" fill="#1a1a1a"/>
<circle cx="654.40" cy="141.90" r="2.2" fill="#1a1a1a"/>
<circle cx="654.40" cy="148.60" r="2.2" fill="#1a1a1a"/>
<circle cx="654.40" cy="155.40" r="2.2" fill="#1a1a1a"/>
<circle cx="654.40" cy="173.00" r="2.2" fill="#1a1a1a"/>
<text font-size="15.25" text-anchor="middle" transform="translate(537.40 105.20) rotate(-90)">% of CXCR5<tspan dx="0.00" dy="-5.49" font-size="7.62">-</tspan><tspan dx="0.00" dy="5.49">CD11c</tspan><tspan dx="0.69" dy="-5.49" font-size="7.62">+</tspan></text>
<text font-size="15.4" text-anchor="middle" transform="translate(555.60 105.60) rotate(-90)">DN2 B cells</text>
<text x="4.90" y="231.30" font-size="21.8" stroke="#222" stroke-width="0.28">D</text>
<line x1="73.30" y1="257.80" x2="73.30" y2="409.40" stroke="#333" stroke-width="1.0"/>
<line x1="73.30" y1="409.40" x2="174.50" y2="409.40" stroke="#333" stroke-width="1.0"/>
<line x1="67.80" y1="257.80" x2="73.30" y2="257.80" stroke="#333" stroke-width="1.0"/>
<text font-size="15.9" text-anchor="end" transform="translate(64.60 261.05) scale(0.93 1.0)">1.0</text>
<line x1="67.80" y1="288.20" x2="73.30" y2="288.20" stroke="#333" stroke-width="1.0"/>
<text font-size="15.9" text-anchor="end" transform="translate(64.60 291.45) scale(0.93 1.0)">0.8</text>
<line x1="67.80" y1="318.60" x2="73.30" y2="318.60" stroke="#333" stroke-width="1.0"/>
<text font-size="15.9" text-anchor="end" transform="translate(64.60 321.85) scale(0.93 1.0)">0.6</text>
<line x1="67.80" y1="349.00" x2="73.30" y2="349.00" stroke="#333" stroke-width="1.0"/>
<text font-size="15.9" text-anchor="end" transform="translate(64.60 352.25) scale(0.93 1.0)">0.4</text>
<line x1="67.80" y1="379.30" x2="73.30" y2="379.30" stroke="#333" stroke-width="1.0"/>
<text font-size="15.9" text-anchor="end" transform="translate(64.60 382.55) scale(0.93 1.0)">0.2</text>
<line x1="67.80" y1="409.40" x2="73.30" y2="409.40" stroke="#333" stroke-width="1.0"/>
<text font-size="15.9" text-anchor="end" transform="translate(64.60 412.65) scale(0.93 1.0)">0.0</text>
<line x1="102.10" y1="409.40" x2="102.10" y2="414.90" stroke="#333" stroke-width="1.0"/>
<text font-size="14.0" text-anchor="middle" transform="translate(102.75 429.10) scale(0.92 1.0)">JIA</text>
<line x1="102.10" y1="346.30" x2="102.10" y2="389.30" stroke="#333" stroke-width="0.9"/>
<line x1="88.00" y1="382.30" x2="116.60" y2="382.30" stroke="#333" stroke-width="1.0"/>
<line x1="94.80" y1="346.30" x2="109.50" y2="346.30" stroke="#333" stroke-width="1.0"/>
<line x1="94.80" y1="389.30" x2="109.50" y2="389.30" stroke="#333" stroke-width="1.0"/>
<circle cx="102.10" cy="267.40" r="2.05" fill="#fff" stroke="#1e1e1e" stroke-width="0.95"/>
<circle cx="102.10" cy="288.20" r="2.05" fill="#fff" stroke="#1e1e1e" stroke-width="0.95"/>
<circle cx="102.10" cy="365.80" r="2.05" fill="#fff" stroke="#1e1e1e" stroke-width="0.95"/>
<circle cx="93.10" cy="379.30" r="2.05" fill="#fff" stroke="#1e1e1e" stroke-width="0.95"/>
<circle cx="93.10" cy="384.20" r="2.05" fill="#fff" stroke="#1e1e1e" stroke-width="0.95"/>
<circle cx="111.10" cy="380.50" r="2.05" fill="#fff" stroke="#1e1e1e" stroke-width="0.95"/>
<circle cx="111.10" cy="385.20" r="2.05" fill="#fff" stroke="#1e1e1e" stroke-width="0.95"/>
<circle cx="102.10" cy="388.70" r="2.05" fill="#fff" stroke="#1e1e1e" stroke-width="0.95"/>
<circle cx="111.10" cy="391.30" r="2.05" fill="#fff" stroke="#1e1e1e" stroke-width="0.95"/>
<circle cx="93.10" cy="395.40" r="2.05" fill="#fff" stroke="#1e1e1e" stroke-width="0.95"/>
<line x1="145.50" y1="409.40" x2="145.50" y2="414.90" stroke="#333" stroke-width="1.0"/>
<text font-size="14.0" text-anchor="middle" transform="translate(146.00 429.10) scale(0.92 1.0)">JIA</text>
<text font-size="14.0" text-anchor="middle" transform="translate(146.00 444.90) scale(0.92 1.0)">Uveitis</text>
<line x1="145.50" y1="324.40" x2="145.50" y2="385.20" stroke="#333" stroke-width="0.9"/>
<line x1="131.00" y1="358.00" x2="159.60" y2="358.00" stroke="#333" stroke-width="1.0"/>
<line x1="138.10" y1="324.40" x2="153.00" y2="324.40" stroke="#333" stroke-width="1.0"/>
<line x1="138.10" y1="385.20" x2="153.00" y2="385.20" stroke="#333" stroke-width="1.0"/>
<circle cx="145.50" cy="297.60" r="2.2" fill="#1a1a1a"/>
<circle cx="145.50" cy="320.10" r="2.2" fill="#1a1a1a"/>
<circle cx="140.80" cy="329.30" r="2.2" fill="#1a1a1a"/>
<circle cx="150.40" cy="330.70" r="2.2" fill="#1a1a1a"/>
<circle cx="145.50" cy="358.00" r="2.2" fill="#1a1a1a"/>
<circle cx="145.50" cy="368.40" r="2.2" fill="#1a1a1a"/>
<circle cx="136.50" cy="386.80" r="2.2" fill="#1a1a1a"/>
<circle cx="145.50" cy="385.20" r="2.2" fill="#1a1a1a"/>
<circle cx="154.90" cy="385.20" r="2.2" fill="#1a1a1a"/>
<text font-size="15.85" text-anchor="middle" transform="translate(17.40 331.00) rotate(-90)">% of CXCR5<tspan dx="0.00" dy="-5.71" font-size="7.92">-</tspan><tspan dx="0.00" dy="5.71">CD11c</tspan><tspan dx="0.00" dy="-5.71" font-size="7.92">-</tspan></text>
<text font-size="15.5" text-anchor="middle" transform="translate(36.30 330.80) rotate(-90)">DN3 B cells</text>
<text x="209.00" y="231.30" font-size="21.8" stroke="#222" stroke-width="0.28">E</text>
<text font-size="15.6" transform="translate(239.00 238.10)">Gated on CD19<tspan dx="0.70" dy="-5.62" font-size="7.80">+</tspan><tspan dx="0.70" dy="5.62">CD27</tspan><tspan dx="0.00" dy="-5.62" font-size="7.80">-</tspan><tspan dx="0.00" dy="5.62">IgD</tspan><tspan dx="0.00" dy="-5.62" font-size="7.80">-</tspan></text>
<text font-size="15.6" transform="translate(239.00 256.30)">CD11c<tspan dx="0.00" dy="-5.62" font-size="7.80">-</tspan><tspan dx="0.00" dy="5.62">CXCR5</tspan><tspan dx="0.70" dy="-5.62" font-size="7.80">+</tspan><tspan dx="0.70" dy="5.62"> DN1 B cells</tspan></text>
<line x1="239.00" y1="260.90" x2="511.50" y2="260.90" stroke="#222" stroke-width="1.2" stroke-dasharray="4.3 4.72" stroke-dashoffset="1.9"/>
<text font-size="15.6" transform="translate(238.80 277.00)">JIA PBMC</text>
<text font-size="15.85" transform="translate(393.70 277.00)">JIA-Uveitis PBMC</text>
<g filter="url(#bl)"><path d="M325.2 318.9h1.3m2.7 1.3h1.3m-3.5 2.6h1.3m-1.6 4.8h1.3m12.1 1.6h1.3m-17.7 0.1h1.3m-3.4 0.2h1.3m9 1h1.3m-3.6 2h1.3m-4.8 1h1.3m-2.7 0.2h1.3m11.6 0.3h1.3m-10.5 1.1h1.3m3.3 0.3h1.3m5.4 1.5h1.3m-0.6 1.1h1.3m-8.3 1.5h1.3m-0.8 0.7h1.3m-7.5 0.6h1.3m4.4 1.2h1.3m5.7 0.3h1.3m-2.4 0.1h1.3m-16.3 0.1h1.3m3.2 0h1.3m-0.4 0.1h1.3m6.9 3.2h1.3m-7 0.6h1.3m-5.2 1.3h1.3m-4.9 0.8h1.3m3.6 1.6h1.3m-2.9 1.8h1.3m-3.1 2.8h1.3m17.1 0.9h1.3m-0.4 0.6h1.3m-12.6 0.4h1.3m2.6 0h1.3m-6.6 3.3h1.3m-0.9 0.4h1.3m-4.6 0.3h1.3m-5.6 0.1h1.3m5.3 0h1.3m-3.4 1h1.3m5.1 1h1.3m0 0.2h1.3m-9.2 0.7h1.3m-4.4 0.2h1.3m10.6 0.9h1.3m-6.2 0.6h1.3m-7.9 0h1.3m-7.4 1.6h1.3m18.8 0.9h1.3m-13.2 0.4h1.3m4.9 0.8h1.3m-4 0.1h1.3m-7.5 0.1h1.3m8.4 0.3h1.3m-19.3 0.2h1.3m11.5 1.6h1.3m-8.9 1h1.3m14.1 0.5h1.3m-3.7 0.1h1.3m-14.6 0.8h1.3m8.9 1.1h1.3m-11.4 0h1.3m11.4 1h1.3m-1.5 2.5h1.3m-16.6 0.5h1.3m12.1 0.2h1.3m1.3 0.1h1.3m-4.5 0.5h1.3m-3.4 0.1h1.3m-2.8 1.1h1.3m10.9 0.2h1.3m-12.6 0.5h1.3m-0.5 1.9h1.3m-1.8 2.5h1.3m2 0.1h1.3m-4 0.4h1.3m3.6 1.4h1.3m3.4 0.8h1.3m-5.4 0.1h1.3m12.3 0.5h1.3m-22.8 0h1.3m-13.6 1.7h1.3m20 0.7h1.3m-10.2 6.2h1.3m2.4 2.5h1.3" stroke="#000" stroke-opacity="0.34" stroke-width="1.3" fill="none"/><path d="M325.5 314.9h1.3m18.1 5.4h1.3m-18.7 1.9h1.3m11.5 6.4h1.3m-6.2 5.3h1.3m-7.8 2.1h1.3m2.1 0.2h1.3m-12.3 1.1h1.3m21.6 1.1h1.3m-9.9 0.7h1.3m-8.3 0.4h1.3m8.2 1.9h1.3m-6.9 0.3h1.3m-0.6 0.2h1.3m-12.9 2h1.3m11.8 3.7h1.3m0.9 1h1.3m-1 0h1.3m-9.1 3.2h1.3m2.8 0.7h1.3m1.3 1h1.3m-11.3 0.9h1.3m8.5 0h1.3m1.1 0.7h1.3m-20.5 0.7h1.3m7.4 0.4h1.3m6.1 1.1h1.3m-6.4 0.2h1.3m-0.3 0.3h1.3m4 1.2h1.3m-9.6 2.7h1.3m-14 0h1.3m21.8 2.8h1.3m-6.7 1.1h1.3m0.8 0.7h1.3m-5.9 0.5h1.3m-5.5 1h1.3m6.6 0.4h1.3m-4.2 0h1.3m5.6 0.2h1.3m-8.9 1.2h1.3m3.5 0.6h1.3m0.5 0.2h1.3m-3.3 0.7h1.3m-12.6 1.3h1.3m6.3 0.5h1.3m-4.5 1.4h1.3m-1.2 0.3h1.3m-8.6 0.1h1.3m7.7 1.4h1.3m-1 0.1h1.3m-0.5 0.8h1.3m5 0.7h1.3m-16.2 1h1.3m-2.4 1h1.3m9.2 0.2h1.3m10.2 0.5h1.3m-11.7 0h1.3m-6.7 1.1h1.3m6.1 0.3h1.3m4.1 0.2h1.3m-8 0.1h1.3m-6.4 0.1h1.3m7.8 0h1.3m-5.6 0.8h1.3m-8.1 0.6h1.3m8.9 1.4h1.3m-7.3 0.1h1.3m12 0.9h1.3m-10.1 0.3h1.3m2.2 1.8h1.3m-10.2 0.1h1.3m1.6 0.3h1.3m-1.1 0.5h1.3m-6.5 0.7h1.3m9.2 0.6h1.3m-12 0.5h1.3m3.3 1.9h1.3m0.3 0.2h1.3m-9.5 0h1.3m4.2 0.2h1.3m-3.9 1h1.3m8 0.1h1.3m-13.4 1.5h1.3m0.7 0.2h1.3m13.8 0.5h1.3m-8.4 2.7h1.3" stroke="#000" stroke-opacity="0.34" stroke-width="1.3" fill="none"/><path d="M335.5 317.8h1.3m-3.4 2.9h1.3m-6.1 2.7h1.3m1.5 2.7h1.3m2.1 0.7h1.3m1.5 5.8h1.3m-13 0.2h1.3m0.6 0h1.3m7.6 0.6h1.3m-6.7 1.6h1.3m0.1 0.5h1.3m2.3 0.5h1.3m-10.6 0.5h1.3m7.8 0.8h1.3m-14.9 2.4h1.3m10.6 1.2h1.3m-4.5 0.5h1.3m-3.3 0.5h1.3m5.2 2.9h1.3m3.8 0.2h1.3m-17.5 0.7h1.3m1.1 1.4h1.3m5.9 0.6h1.3m-8.8 0.7h1.3m-6.1 0.1h1.3m3.4 0.4h1.3m8 0.3h1.3m-7 0.6h1.3m-0.3 1.7h1.3m6.6 1.5h1.3m-4.7 0.9h1.3m-9.9 1.4h1.3m0.5 0.1h1.3m2.1 1.8h1.3m-6.2 1h1.3m-1.2 4.9h1.3m-1.5 0.3h1.3m7.5 0.6h1.3m-7.5 0.7h1.3m-4.2 0.9h1.3m-1.3 0.2h1.3m3 0.5h1.3m-6.6 0.2h1.3m14.8 0.5h1.3m-6.9 0h1.3m-2.2 0.6h1.3m-9.9 0.5h1.3m1 3.9h1.3m3 0.3h1.3m-0.6 0.2h1.3m-4.6 0.3h1.3m-12.5 0.1h1.3m9.5 0.7h1.3m-0.9 0.4h1.3m0.4 2.4h1.3m1 1.9h1.3m-3.8 0.2h1.3m3 0.5h1.3m1.8 0.1h1.3m-11.9 1h1.3m1.4 0.1h1.3m-6 0.2h1.3m-4.3 0.7h1.3m7.6 0.3h1.3m-2.5 0.5h1.3m-0.2 0.3h1.3m-4.6 0.3h1.3m-4.7 1.5h1.3m5.8 1.8h1.3m-16.2 0.2h1.3m8 0.1h1.3m9.5 1.3h1.3m-7.1 0.1h1.3m-3 0.8h1.3m0.1 0.3h1.3m-3.6 0.1h1.3m12.6 0.1h1.3m-15.7 0.3h1.3m2.3 0h1.3m7 2.1h1.3m-11.5 0.4h1.3m-11.6 1.7h1.3m-1.6 0.8h1.3m2.8 1.6h1.3m19.6 0.2h1.3m-5.6 0.4h1.3m-18.9 0.2h1.3" stroke="#000" stroke-opacity="0.34" stroke-width="1.3" fill="none"/><path d="M330.5 315.1h1.3m-4.9 6.1h1.3m13.7 5h1.3m-15.7 4.5h1.3m5.7 0.6h1.3m-7.1 0.4h1.3m3.4 1.5h1.3m4.7 0.5h1.3m-8.6 0.6h1.3m0.9 1.2h1.3m-3.2 2.5h1.3m-2.3 0.2h1.3m-2.6 2.3h1.3m-1.8 1.6h1.3m-2.9 0.5h1.3m1.6 0.1h1.3m0.3 2.7h1.3m-10.1 0.7h1.3m1.9 0.2h1.3m12.9 0h1.3m-15.1 4.3h1.3m12.1 0h1.3m-11.1 1.5h1.3m1.3 0.3h1.3m-1 2.1h1.3m-4.5 0.4h1.3m-6.6 0.4h1.3m3.9 0.2h1.3m-2.2 0.3h1.3m7.6 0.8h1.3m-4.2 0.3h1.3m-6.4 0.8h1.3m6.3 0.3h1.3m-8.2 0.4h1.3m2.8 1.4h1.3m1.4 0.7h1.3m-9.8 0.8h1.3m-12.5 0.4h1.3m12 1.1h1.3m0 0.7h1.3m-8.4 1.2h1.3m11 0.7h1.3m-9.2 0.6h1.3m11.4 0h1.3m-6.5 0.1h1.3m-17.1 0h1.3m0.3 4.1h1.3m8.3 0h1.3m-3.8 0.9h1.3m0.5 1h1.3m-10.1 0.5h1.3m-2 0.6h1.3m6.5 0.6h1.3m-19 0.7h1.3m14.5 0.3h1.3m10.5 0h1.3m-8.8 0.4h1.3m2 0.3h1.3m-6 1.3h1.3m12 0.2h1.3m-10.4 0h1.3m-5.9 0.6h1.3m3.2 0.2h1.3m4.1 1.6h1.3m-14.9 0.9h1.3m9.1 0.2h1.3m-7.4 0.3h1.3m1.8 0.9h1.3m-5 0.1h1.3m-6.8 2.1h1.3m-4.5 0.3h1.3m8.4 0.9h1.3m3.1 0.2h1.3m2.6 1.1h1.3m-8.3 0.1h1.3m-1.3 0.2h1.3m-4.4 0.6h1.3m-5.9 0.1h1.3m8.1 0.9h1.3m-10.2 0.4h1.3m4.9 0.7h1.3m0.3 0.8h1.3m1.5 1.2h1.3m-11.7 0.7h1.3m13 1.4h1.3m-10.7 1.6h1.3m4.4 5h1.3" stroke="#000" stroke-opacity="0.34" stroke-width="1.3" fill="none"/><path d="M334.2 320.1h1.3m2.4 1.9h1.3m-5 2.6h1.3m-2.8 3.1h1.3m2.9 4.2h1.3m-13 0.8h1.3m-1.8 1.5h1.3m7.8 0.8h1.3m-8.4 0.3h1.3m1.9 0.6h1.3m-1.9 1.2h1.3m9.9 0.6h1.3m-14.3 2.4h1.3m-2.3 0.3h1.3m0.3 1.7h1.3m0.2 0h1.3m9.6 0.2h1.3m-9.3 1.2h1.3m-3.3 0h1.3m-8.6 1.4h1.3m4.1 0h1.3m1.5 0.6h1.3m1.1 1.3h1.3m-5.6 0.7h1.3m-4 0.7h1.3m9.4 0.6h1.3m-3.1 3.2h1.3m-8.4 1.7h1.3m0.7 0.6h1.3m-4.1 0.6h1.3m1.1 0.4h1.3m2.9 0.2h1.3m-0.3 0.1h1.3m-13.3 0.6h1.3m9.4 0.9h1.3m-4.2 0.5h1.3m-2.4 0.5h1.3m-17.5 0.6h1.3m13.8 3.5h1.3m4.3 0.5h1.3m-3.1 0.3h1.3m-3.1 1.1h1.3m8.7 0.3h1.3m-2.1 1h1.3m-8.5 0.7h1.3m4.5 0.4h1.3m6.3 0.1h1.3m-14.6 0.1h1.3m-5.6 5.4h1.3m1.6 0.3h1.3m-0.5 0.5h1.3m-4.8 0.1h1.3m0.5 0.5h1.3m2.4 0.5h1.3m-5.3 0.7h1.3m-12.3 0.2h1.3m13.6 0.2h1.3m0.8 0.5h1.3m-15 0.7h1.3m1.1 2.4h1.3m0.1 0.1h1.3m3.4 0.2h1.3m3.4 0.1h1.3m-8 0.8h1.3m1 1h1.3m2.6 0.1h1.3m-8.9 0.3h1.3m5.1 1h1.3m-9.1 0.3h1.3m1.2 0.3h1.3m14.6 0.1h1.3m-12.7 0.2h1.3m0.3 0.1h1.3m1.8 1.2h1.3m-6.2 2.6h1.3m-3.8 0.9h1.3m-1.3 0h1.3m9.2 1.4h1.3m-6.1 0.1h1.3m-2.6 1.3h1.3m-3.3 0.1h1.3m-8.9 0.9h1.3m16.7 0.1h1.3m-15 3.1h1.3m0.5 1.9h1.3m5.6 0.1h1.3m-10.5 4.2h1.3" stroke="#000" stroke-opacity="0.34" stroke-width="1.3" fill="none"/><path d="M334.5 316.1h1.3m-2.8 3h1.3m-4.1 1.9h1.3m6.4 1.4h1.3m-5.6 3h1.3m-3.5 2.4h1.3m0.3 1.2h1.3m-7.2 0.1h1.3m-1.8 1.5h1.3m10.6 3.9h1.3m-2.7 0.1h1.3m-12.3 2.7h1.3m12.8 0.7h1.3m-10.8 0.6h1.3m3.9 1.8h1.3m-9 2.1h1.3m1.5 0.9h1.3m1.8 0.3h1.3m0.8 2.2h1.3m-4.8 0.5h1.3m-2.2 1.6h1.3m7.7 0h1.3m-6.5 1h1.3m-8.2 1.7h1.3m-1 1.6h1.3m-6 0.9h1.3m11.1 3h1.3m7.5 0.3h1.3m-8.5 1h1.3m-11.6 0h1.3m1.7 0.1h1.3m-1.1 0.1h1.3m-5.9 0.4h1.3m-8.5 0.7h1.3m4.5 1.1h1.3m10.7 1.1h1.3m-6.4 0.3h1.3m3.9 0.2h1.3m-6.4 1.1h1.3m2.9 0.6h1.3m-7.8 2h1.3m4.4 0.5h1.3m-0.7 1.6h1.3m-10.2 0.5h1.3m3.7 2.1h1.3m-4.5 1.3h1.3m2.7 0.2h1.3m5.7 0.1h1.3m-21.5 0.3h1.3m13.4 0.2h1.3m4.2 0.5h1.3m-6.1 0h1.3m-4.8 0.3h1.3m-2.5 0.1h1.3m4.9 1.2h1.3m-11.1 0.2h1.3m-6.1 0.4h1.3m3.6 0.1h1.3m7.7 0.3h1.3m-1 0.4h1.3m-3.9 0.2h1.3m-7.2 1.6h1.3m6.1 1.1h1.3m-0.7 0h1.3m-6.8 0.5h1.3m6.8 0h1.3m2.2 0.4h1.3m-14.6 0.4h1.3m7.1 1.4h1.3m1.5 2.2h1.3m-11.6 0.7h1.3m-1.7 2.2h1.3m0.8 0.2h1.3m6.7 0.2h1.3m-10.9 1.2h1.3m0.1 0.1h1.3m2.6 0h1.3m-15.7 1.5h1.3m6.8 0.1h1.3m-0.1 1.4h1.3m4.5 3.7h1.3m-0.4 0.2h1.3m-6.7 2h1.3m-4.5 1.7h1.3m9.5 0.6h1.3m-9.2 0.4h1.3m-1.2 1.4h1.3" stroke="#000" stroke-opacity="0.34" stroke-width="1.3" fill="none"/></g>
<path d="M236.10 281.40H238.90M236.10 302.60H238.90M236.10 324.70H238.90M236.10 351.10H238.90M236.10 364.50H238.90M236.10 378.00H238.90M236.10 403.90H238.90M237.40 296.22H238.90M237.40 292.49H238.90M237.40 289.84H238.90M237.40 287.78H238.90M237.40 286.10H238.90M237.40 284.68H238.90M237.40 283.45H238.90M237.40 282.37H238.90M237.40 318.05H238.90M237.40 314.16H238.90M237.40 311.39H238.90M237.40 309.25H238.90M237.40 307.50H238.90M237.40 306.02H238.90M237.40 304.74H238.90M237.40 303.61H238.90M237.40 343.15H238.90M237.40 338.50H238.90M237.40 335.21H238.90M237.40 332.65H238.90M237.40 330.56H238.90M237.40 328.79H238.90M237.40 327.26H238.90M237.40 325.91H238.90M237.40 354.45H238.90M237.40 357.80H238.90M237.40 361.15H238.90M237.40 362.40H238.90M237.40 363.24H238.90M237.40 364.08H238.90M237.40 364.92H238.90M237.40 365.76H238.90M237.40 366.60H238.90M237.40 367.88H238.90M237.40 371.25H238.90M237.40 374.62H238.90M237.40 385.80H238.90M237.40 390.36H238.90M237.40 393.59H238.90M237.40 396.10H238.90M237.40 398.15H238.90M237.40 399.89H238.90M237.40 401.39H238.90M237.40 402.71H238.90M238.90 408.30V411.30M266.30 408.30V411.30M291.70 408.30V411.30M318.20 408.30V411.30M344.60 408.30V411.30M365.50 408.30V411.30M258.05 408.30V409.90M253.23 408.30V409.90M249.80 408.30V409.90M247.15 408.30V409.90M244.98 408.30V409.90M243.14 408.30V409.90M241.56 408.30V409.90M240.15 408.30V409.90M271.38 408.30V409.90M276.46 408.30V409.90M281.54 408.30V409.90M286.62 408.30V409.90M288.80 408.30V409.90M289.78 408.30V409.90M290.77 408.30V409.90M291.75 408.30V409.90M292.73 408.30V409.90M293.72 408.30V409.90M294.70 408.30V409.90M297.00 408.30V409.90M302.30 408.30V409.90M307.60 408.30V409.90M312.90 408.30V409.90M326.15 408.30V409.90M330.80 408.30V409.90M334.09 408.30V409.90M336.65 408.30V409.90M338.74 408.30V409.90M340.51 408.30V409.90M342.04 408.30V409.90M343.39 408.30V409.90M350.89 408.30V409.90M354.57 408.30V409.90M357.18 408.30V409.90M359.21 408.30V409.90M360.86 408.30V409.90M362.26 408.30V409.90M363.47 408.30V409.90M364.54 408.30V409.90" stroke="#444" stroke-width="0.8" fill="none"/>
<text x="224.70" y="288.30" font-size="5.3" fill="#666">10<tspan dx="1.3" dy="-3.2" font-size="4.7">6</tspan></text>
<text x="224.70" y="305.20" font-size="5.3" fill="#666">10<tspan dx="1.3" dy="-3.2" font-size="4.7">5</tspan></text>
<text x="224.70" y="327.30" font-size="5.3" fill="#666">10<tspan dx="1.3" dy="-3.2" font-size="4.7">4</tspan></text>
<text x="224.30" y="353.80" font-size="5.3" fill="#666">10<tspan dx="1.3" dy="-3.2" font-size="4.7">3</tspan></text>
<text x="227.30" y="366.00" font-size="5.3" fill="#666">0</text>
<text x="222.20" y="380.60" font-size="5.3" fill="#666">-10<tspan dx="1.3" dy="-3.2" font-size="4.7">3</tspan></text>
<text x="222.20" y="406.40" font-size="5.3" fill="#666">-10<tspan dx="1.3" dy="-3.2" font-size="4.7">4</tspan></text>
<text x="241.90" y="419.60" font-size="5.3" fill="#666">-10<tspan dx="1.3" dy="-3.2" font-size="4.7">5</tspan></text>
<text x="265.40" y="419.60" font-size="5.3" fill="#666">-10<tspan dx="1.3" dy="-3.2" font-size="4.7">4</tspan></text>
<text x="292.80" y="419.60" font-size="5.3" fill="#666">0</text>
<text x="318.20" y="419.60" font-size="5.3" fill="#666">10<tspan dx="1.3" dy="-3.2" font-size="4.7">4</tspan></text>
<text x="343.60" y="419.60" font-size="5.3" fill="#666">10<tspan dx="1.3" dy="-3.2" font-size="4.7">5</tspan></text>
<text x="358.30" y="419.60" font-size="5.3" fill="#666">10<tspan dx="1.3" dy="-3.2" font-size="4.7">6</tspan></text>
<rect x="238.90" y="281.40" width="127.60" height="126.90" fill="none" stroke="#2a2a2a" stroke-width="1.1"/>
<path d="M237.10 363.00H238.90V366.60H237.10Z" fill="#1e1e1e"/>
<path d="M235.50 363.40H238.90M235.50 366.20H238.90" stroke="#999" stroke-width="1.1" fill="none"/>
<path d="M235.30 364.80H238.90" stroke="#1e1e1e" stroke-width="1.3" fill="none"/>
<path d="M287.80 408.30V411.00H296.00V408.30Z" fill="#1e1e1e"/>
<path d="M288.30 408.30V412.10M295.50 408.30V412.10" stroke="#555" stroke-width="1.1" fill="none"/>
<path d="M291.90 408.30V412.30" stroke="#1e1e1e" stroke-width="1.3" fill="none"/>
<rect x="308.50" y="308.70" width="40.40" height="46.80" fill="none" stroke="#2a2a2a" stroke-width="1.0"/>
<text font-size="15" text-anchor="middle" transform="translate(329.00 304.90)">0.75</text>
<g filter="url(#bl)"><path d="M491.8 322.4h1.3m-11.9 12.1h1.3m1.7 0.4h1.3m-6.1 1.2h1.3m-11.3 0.4h1.3m5.5 0.8h1.3m2.2 0.6h1.3m2.1 0.3h1.3m-0.7 0.7h1.3m-9 1.4h1.3m-3.4 0.3h1.3m-0.1 0.3h1.3m-2.7 0.3h1.3m7.4 0.2h1.3m-4.1 0.2h1.3m-1 1.2h1.3m1.1 0.6h1.3m0.1 1.1h1.3m-3.7 0.7h1.3m-4.7 0.4h1.3m4.8 1.1h1.3m4.6 1.3h1.3m-8.8 0.1h1.3m3.5 1.4h1.3m-8.4 0.5h1.3m6.3 2.3h1.3m-7.8 1.2h1.3m-5.6 0.8h1.3m9 1.5h1.3m-5.1 0h1.3m-1.7 0.3h1.3m10.2 0.2h1.3m-17 0.5h1.3m-5.8 0.1h1.3m5 0.3h1.3m11.7 0.8h1.3m-9.1 0h1.3m0.7 0.4h1.3m-0.1 0.3h1.3m-1.6 0.5h1.3m-10.5 0.4h1.3m6.3 0.2h1.3m2 0.1h1.3m-17.4 1.3h1.3m17.9 1.8h1.3m-13.4 0.9h1.3m4.9 0.3h1.3m-11.6 0.1h1.3m-0.8 0.2h1.3m12.6 0.3h1.3m-0.8 0.2h1.3m-4.5 0.6h1.3m-6.6 2.3h1.3m0.6 0.8h1.3m-14.2 0.3h1.3m9 2.6h1.3m-3.2 0.6h1.3m7.6 1h1.3m-7 0.7h1.3m-7.5 0h1.3m10.9 0.7h1.3m-2.9 0.7h1.3m-5.6 1.3h1.3m-1.1 1.4h1.3m-6.1 0.3h1.3m-1 0.2h1.3m4.4 0h1.3m0.6 1.8h1.3m-3.6 0.8h1.3m-0.6 0.5h1.3m-1.6 1.3h1.3m-2.2 0h1.3m7.9 1.7h1.3m-5.1 2.1h1.3m-8.7 0.7h1.3m0.9 0.4h1.3m9.3 1.6h1.3m-19.4 1.1h1.3" stroke="#000" stroke-opacity="0.34" stroke-width="1.3" fill="none"/><path d="M493 332.8h1.3m-8.2 1.1h1.3m-6 2.6h1.3m-0.3 0.3h1.3m2.6 0h1.3m-21.2 3h1.3m20.6 0.3h1.3m-4 0.3h1.3m-7.1 0.4h1.3m-7.4 0.3h1.3m1.2 0.3h1.3m-12.3 3.1h1.3m15.1 1.4h1.3m-4.9 0.1h1.3m2.6 1h1.3m6.4 0h1.3m-11.5 1.2h1.3m8.8 0.4h1.3m-7.3 0.2h1.3m-14.4 0.2h1.3m8.3 0.9h1.3m3.9 0.4h1.3m-3 0.8h1.3m-0.9 0.1h1.3m-5.4 0h1.3m4.5 0.2h1.3m-3.4 0.4h1.3m-0.1 0.1h1.3m-11.2 0.4h1.3m6.2 0.3h1.3m-1.9 0h1.3m-1.7 0.1h1.3m-10 0.7h1.3m24.9 0.9h1.3m-14.1 0.3h1.3m1 1.9h1.3m-15.8 2h1.3m9.2 0.5h1.3m-7 0.6h1.3m5.1 1.6h1.3m-2.5 0.4h1.3m3.4 0.4h1.3m-10.3 0.5h1.3m9.1 0h1.3m-14.1 0.8h1.3m10.1 0.7h1.3m-4.5 0.2h1.3m-2.2 0.5h1.3m-6.7 0.7h1.3m3.5 0.5h1.3m-1.5 1.7h1.3m-5.1 0.3h1.3m7.6 0.7h1.3m-11.3 1.1h1.3m3.7 0h1.3m-0.8 0.5h1.3m-15.7 0.4h1.3m5.5 0.4h1.3m10 0h1.3m1.4 0.9h1.3m2.1 0.6h1.3m-27.3 1.1h1.3m3.1 0.5h1.3m7.1 0.2h1.3m1.5 0.3h1.3m2 0.1h1.3m-2.6 0.3h1.3m5.4 1h1.3m-9.9 0.2h1.3m3 0.5h1.3m-4.8 2.3h1.3m5.1 0.8h1.3m-3.6 3.7h1.3m-2.3 4.7h1.3m4.8 5.6h1.3m-9.4 2.7h1.3m-8 0.4h1.3" stroke="#000" stroke-opacity="0.34" stroke-width="1.3" fill="none"/><path d="M480.2 333.4h1.3m0.8 1h1.3m-7.3 3.7h1.3m-4 1.1h1.3m2.8 1.7h1.3m5.6 0h1.3m-0.6 1h1.3m3.5 0.1h1.3m-15.7 0.3h1.3m0.4 1.3h1.3m6.7 0h1.3m-11.9 0.2h1.3m-2.9 0.2h1.3m0.5 0.7h1.3m8.5 1.4h1.3m-1.3 0.1h1.3m-11.1 0h1.3m17.8 1.9h1.3m-13.3 0.7h1.3m-1.1 0.4h1.3m-0.6 0.5h1.3m-0.6 0.6h1.3m-2.2 1h1.3m0.2 0.9h1.3m-6.4 0.1h1.3m2.7 0.1h1.3m-7.3 0.4h1.3m10.4 0h1.3m-13.4 0.1h1.3m-4.2 0.5h1.3m4.6 0.8h1.3m15.1 2.1h1.3m-2.9 0h1.3m-4.8 0.4h1.3m-9.9 0.3h1.3m-2.7 0h1.3m-2.1 0.3h1.3m0.8 0.6h1.3m0.4 0.7h1.3m3.3 0.7h1.3m0.2 0.8h1.3m-12.1 0.2h1.3m4.8 0.8h1.3m-11.9 1h1.3m7.9 0h1.3m-1.3 1.6h1.3m-5.3 0.1h1.3m2.9 0.1h1.3m3.4 0.4h1.3m2.6 0.1h1.3m-11.4 0.2h1.3m-6.2 0.5h1.3m2.7 0.1h1.3m-3.9 0.5h1.3m12.6 0.2h1.3m-6.7 0.3h1.3m-13.6 0.2h1.3m-0.6 0.7h1.3m14.3 0h1.3m-3.2 0.2h1.3m-4 0.4h1.3m-2.4 0h1.3m-0.8 0.6h1.3m-7.3 0.2h1.3m4.1 1.7h1.3m-1.6 0.2h1.3m-6.1 0.2h1.3m-4 5h1.3m4.3 3.4h1.3m-9.1 1.5h1.3m9.4 0h1.3m-5.5 0.2h1.3m7 1.3h1.3m-11.3 2.5h1.3m8.9 0.1h1.3m-6.9 3h1.3m3.7 6.1h1.3" stroke="#000" stroke-opacity="0.34" stroke-width="1.3" fill="none"/><path d="M472.7 322.4h1.3m3.9 7.9h1.3m-4.1 1.1h1.3m1.2 0.1h1.3m5 1.8h1.3m-11.8 0.3h1.3m2.9 0.2h1.3m-4 2.3h1.3m-9.3 1.4h1.3m15.7 0.5h1.3m2.5 0.5h1.3m-8.5 0.6h1.3m0.3 0.2h1.3m-3.3 1.8h1.3m3.9 0.4h1.3m-8.6 0.2h1.3m-1.8 0.7h1.3m11.4 1.2h1.3m-6.1 0.2h1.3m-11.9 3.3h1.3m12.7 0.4h1.3m1 1.2h1.3m-12.2 0.2h1.3m-0.7 1.1h1.3m-2.5 0.1h1.3m-7 0h1.3m14.7 0.3h1.3m-7.5 0.5h1.3m-5.5 2.3h1.3m-1.3 0.2h1.3m-2.8 0.1h1.3m3.1 0.3h1.3m0 0.6h1.3m-1.3 0.2h1.3m-3.7 1.6h1.3m3.8 0.9h1.3m-4.9 0.6h1.3m-5.4 0.2h1.3m4 0h1.3m-11.6 1h1.3m13.9 0.1h1.3m-1.3 0.1h1.3m-2.5 0.4h1.3m-8.8 1.4h1.3m8.3 0.2h1.3m0.1 0.6h1.3m-7.5 0.5h1.3m-4.3 0.4h1.3m-3.2 1.6h1.3m10.3 0h1.3m6.8 1.4h1.3m-10.1 0.1h1.3m1.2 0.5h1.3m-6.2 0h1.3m-1.6 0.1h1.3m-4.3 0.4h1.3m-3 1h1.3m8.6 0.1h1.3m-3.1 1.5h1.3m-7.4 0.1h1.3m3.5 0.1h1.3m-3.9 0.1h1.3m8.6 1.6h1.3m-15.4 0.6h1.3m-2.4 1.6h1.3m-2.9 0.3h1.3m8.3 0.2h1.3m-9.4 3.4h1.3m-0.7 1h1.3m-6.9 0.5h1.3m9.3 0.2h1.3m-2.2 1.7h1.3m-6.8 0.1h1.3m-2.9 0.6h1.3m-6 2h1.3m4.1 3.5h1.3m4.5 2.1h1.3" stroke="#000" stroke-opacity="0.34" stroke-width="1.3" fill="none"/><path d="M485.2 330.1h1.3m-4.8 1.5h1.3m0.1 2.1h1.3m-2.7 0.8h1.3m3.1 0.7h1.3m-7 0.7h1.3m-9.3 0.5h1.3m12.7 0.4h1.3m-12.2 0.7h1.3m-1.1 0.2h1.3m9.1 0.3h1.3m-4.3 0.6h1.3m3.2 1.1h1.3m-8.6 0h1.3m-0.4 0.2h1.3m1.3 0.7h1.3m2.9 0.3h1.3m-12.6 0.1h1.3m11 0.6h1.3m-11.3 1.7h1.3m-2.5 0.3h1.3m3.4 0.2h1.3m-5.6 0.1h1.3m5.2 0.4h1.3m-8.9 0.4h1.3m13.5 1.9h1.3m-18.6 0.7h1.3m2.1 2.9h1.3m4.4 0.1h1.3m1.1 1.5h1.3m-2.8 0.5h1.3m-6.3 0.7h1.3m-8.2 0.8h1.3m7.2 0.8h1.3m5.9 0.3h1.3m-13.9 0.2h1.3m1.1 0.4h1.3m3.9 0.4h1.3m-1.2 1.7h1.3m6.6 1.8h1.3m-9.9 0.1h1.3m2.3 0.4h1.3m-9.5 0.6h1.3m5.5 0h1.3m-2.9 0.1h1.3m-1.8 2.1h1.3m6 0.6h1.3m-1.7 1.5h1.3m-10.1 0.5h1.3m7.3 1.7h1.3m-1.4 0.2h1.3m-7.7 0.2h1.3m0.8 0.3h1.3m-9.8 0.2h1.3m-0.1 0.2h1.3m7.6 0.1h1.3m-2.7 1.3h1.3m10.1 0.4h1.3m-6.4 0.3h1.3m0 0.5h1.3m-4.2 0.1h1.3m-2.2 0.2h1.3m-14.4 0.1h1.3m2.2 0.5h1.3m3.9 0.2h1.3m-2 0.3h1.3m9.6 2.1h1.3m-17.2 0.2h1.3m2.1 2.4h1.3m0 1.6h1.3m-2.1 0.6h1.3m-1.1 0.1h1.3m2 0.1h1.3m0.2 6.4h1.3m-14.3 0.7h1.3m3.7 1h1.3m13.5 5.2h1.3" stroke="#000" stroke-opacity="0.34" stroke-width="1.3" fill="none"/><path d="M495.3 312h1.3m-3.5 13.2h1.3m-23.8 4.9h1.3m-0.4 1h1.3m7.5 4.1h1.3m-1.1 3.7h1.3m12.4 2.3h1.3m-6.8 0.1h1.3m-13.7 1.9h1.3m-6.2 0.3h1.3m6.5 0.2h1.3m0.5 0.7h1.3m-13.5 2.5h1.3m12.6 0.3h1.3m-9.2 0.6h1.3m-4 0.4h1.3m7.1 0.2h1.3m2.1 0.9h1.3m7.8 0.6h1.3m-20 0.9h1.3m14 0.6h1.3m-11.6 0.5h1.3m8.5 2.5h1.3m-11.3 0h1.3m16.3 1.3h1.3m-16.3 0.3h1.3m-3.7 0h1.3m7 0.4h1.3m-13.4 0.1h1.3m8.5 0.6h1.3m-14.5 1h1.3m15.1 0.1h1.3m-5.6 1.5h1.3m-4.7 0.8h1.3m5.3 0.3h1.3m0.7 0.1h1.3m-5.4 0.1h1.3m-4.7 0h1.3m-2.4 0.7h1.3m9.4 0.9h1.3m-4.5 1.3h1.3m-4.8 0.1h1.3m-7.9 0.4h1.3m5.9 0.5h1.3m-6 1.1h1.3m-5.2 0h1.3m5.9 0.8h1.3m-1.4 0.2h1.3m-1.8 0.3h1.3m0.5 2.7h1.3m-7.5 0.2h1.3m0.1 0.1h1.3m14.8 0.6h1.3m-16.4 0.8h1.3m6.3 0.7h1.3m-1.3 0.2h1.3m-9.3 0.5h1.3m0.7 0.7h1.3m0 1.5h1.3m0.9 0.2h1.3m-8.3 0.4h1.3m3.6 0.3h1.3m6.8 0h1.3m-5.2 0.4h1.3m1.7 1.2h1.3m-8.1 0.1h1.3m8.4 0.1h1.3m-13.5 3.2h1.3m-4.3 0.6h1.3m8.4 0.7h1.3m-3.9 0.2h1.3m-19.5 0h1.3m14.9 2h1.3m-0.2 0.4h1.3m-2.5 4.4h1.3m-0.6 0.4h1.3m2.2 2.5h1.3" stroke="#000" stroke-opacity="0.34" stroke-width="1.3" fill="none"/></g>
<path d="M393.60 280.20H396.40M393.60 301.40H396.40M393.60 323.50H396.40M393.60 349.90H396.40M393.60 363.30H396.40M393.60 376.80H396.40M393.60 402.70H396.40M394.90 295.02H396.40M394.90 291.29H396.40M394.90 288.64H396.40M394.90 286.58H396.40M394.90 284.90H396.40M394.90 283.48H396.40M394.90 282.25H396.40M394.90 281.17H396.40M394.90 316.85H396.40M394.90 312.96H396.40M394.90 310.19H396.40M394.90 308.05H396.40M394.90 306.30H396.40M394.90 304.82H396.40M394.90 303.54H396.40M394.90 302.41H396.40M394.90 341.95H396.40M394.90 337.30H396.40M394.90 334.01H396.40M394.90 331.45H396.40M394.90 329.36H396.40M394.90 327.59H396.40M394.90 326.06H396.40M394.90 324.71H396.40M394.90 353.25H396.40M394.90 356.60H396.40M394.90 359.95H396.40M394.90 361.20H396.40M394.90 362.04H396.40M394.90 362.88H396.40M394.90 363.72H396.40M394.90 364.56H396.40M394.90 365.40H396.40M394.90 366.67H396.40M394.90 370.05H396.40M394.90 373.42H396.40M394.90 384.60H396.40M394.90 389.16H396.40M394.90 392.39H396.40M394.90 394.90H396.40M394.90 396.95H396.40M394.90 398.69H396.40M394.90 400.19H396.40M394.90 401.51H396.40M396.40 407.30V410.30M423.80 407.30V410.30M449.20 407.30V410.30M475.70 407.30V410.30M502.10 407.30V410.30M523.00 407.30V410.30M415.55 407.30V408.90M410.73 407.30V408.90M407.30 407.30V408.90M404.65 407.30V408.90M402.48 407.30V408.90M400.64 407.30V408.90M399.06 407.30V408.90M397.65 407.30V408.90M428.88 407.30V408.90M433.96 407.30V408.90M439.04 407.30V408.90M444.12 407.30V408.90M446.30 407.30V408.90M447.28 407.30V408.90M448.27 407.30V408.90M449.25 407.30V408.90M450.23 407.30V408.90M451.22 407.30V408.90M452.20 407.30V408.90M454.50 407.30V408.90M459.80 407.30V408.90M465.10 407.30V408.90M470.40 407.30V408.90M483.65 407.30V408.90M488.30 407.30V408.90M491.59 407.30V408.90M494.15 407.30V408.90M496.24 407.30V408.90M498.01 407.30V408.90M499.54 407.30V408.90M500.89 407.30V408.90M508.39 407.30V408.90M512.07 407.30V408.90M514.68 407.30V408.90M516.71 407.30V408.90M518.36 407.30V408.90M519.76 407.30V408.90M520.97 407.30V408.90M522.04 407.30V408.90" stroke="#444" stroke-width="0.8" fill="none"/>
<text x="382.20" y="287.10" font-size="5.3" fill="#666">10<tspan dx="1.3" dy="-3.2" font-size="4.7">6</tspan></text>
<text x="382.20" y="304.00" font-size="5.3" fill="#666">10<tspan dx="1.3" dy="-3.2" font-size="4.7">5</tspan></text>
<text x="382.20" y="326.10" font-size="5.3" fill="#666">10<tspan dx="1.3" dy="-3.2" font-size="4.7">4</tspan></text>
<text x="381.80" y="352.60" font-size="5.3" fill="#666">10<tspan dx="1.3" dy="-3.2" font-size="4.7">3</tspan></text>
<text x="384.80" y="364.80" font-size="5.3" fill="#666">0</text>
<text x="379.70" y="379.40" font-size="5.3" fill="#666">-10<tspan dx="1.3" dy="-3.2" font-size="4.7">3</tspan></text>
<text x="379.70" y="405.20" font-size="5.3" fill="#666">-10<tspan dx="1.3" dy="-3.2" font-size="4.7">4</tspan></text>
<text x="399.40" y="418.40" font-size="5.3" fill="#666">-10<tspan dx="1.3" dy="-3.2" font-size="4.7">5</tspan></text>
<text x="422.90" y="418.40" font-size="5.3" fill="#666">-10<tspan dx="1.3" dy="-3.2" font-size="4.7">4</tspan></text>
<text x="450.30" y="418.40" font-size="5.3" fill="#666">0</text>
<text x="475.70" y="418.40" font-size="5.3" fill="#666">10<tspan dx="1.3" dy="-3.2" font-size="4.7">4</tspan></text>
<text x="501.10" y="418.40" font-size="5.3" fill="#666">10<tspan dx="1.3" dy="-3.2" font-size="4.7">5</tspan></text>
<text x="515.80" y="418.40" font-size="5.3" fill="#666">10<tspan dx="1.3" dy="-3.2" font-size="4.7">6</tspan></text>
<rect x="396.40" y="280.20" width="128.00" height="127.10" fill="none" stroke="#2a2a2a" stroke-width="1.1"/>
<path d="M394.60 361.80H396.40V365.40H394.60Z" fill="#1e1e1e"/>
<path d="M393.00 362.20H396.40M393.00 365.00H396.40" stroke="#999" stroke-width="1.1" fill="none"/>
<path d="M392.80 363.60H396.40" stroke="#1e1e1e" stroke-width="1.3" fill="none"/>
<path d="M445.30 407.30V410.00H453.50V407.30Z" fill="#1e1e1e"/>
<path d="M445.80 407.30V411.10M453.00 407.30V411.10" stroke="#555" stroke-width="1.1" fill="none"/>
<path d="M449.40 407.30V411.30" stroke="#1e1e1e" stroke-width="1.3" fill="none"/>
<rect x="460.60" y="309.40" width="40.80" height="46.90" fill="none" stroke="#2a2a2a" stroke-width="1.0"/>
<text font-size="15" text-anchor="middle" transform="translate(480.30 305.70)">1.43</text>
<line x1="215.00" y1="285.50" x2="215.00" y2="363.50" stroke="#333" stroke-width="0.95"/>
<path d="M215.00 281.40L212.30 286.50L215.00 285.50L217.70 286.50Z" fill="#1e1e1e"/>
<text font-size="15.85" text-anchor="middle" transform="translate(218.70 390.30) rotate(-90)">CD86</text>
<text font-size="15.5" transform="translate(229.60 439.10)">CD19</text>
<line x1="273.20" y1="433.60" x2="517.60" y2="433.60" stroke="#333" stroke-width="0.95"/>
<path d="M521.80 433.60L516.60 431.00L517.60 433.60L516.60 436.20Z" fill="#1e1e1e"/>
<text x="551.80" y="231.30" font-size="21.8" stroke="#222" stroke-width="0.28">F</text>
<line x1="586.30" y1="260.80" x2="586.30" y2="408.80" stroke="#333" stroke-width="1.0"/>
<line x1="586.30" y1="408.80" x2="685.00" y2="408.80" stroke="#333" stroke-width="1.0"/>
<line x1="580.80" y1="260.80" x2="586.30" y2="260.80" stroke="#333" stroke-width="1.0"/>
<text font-size="15.9" text-anchor="end" transform="translate(579.80 264.05) scale(0.93 1.0)">4</text>
<line x1="580.80" y1="297.70" x2="586.30" y2="297.70" stroke="#333" stroke-width="1.0"/>
<text font-size="15.9" text-anchor="end" transform="translate(579.80 300.95) scale(0.93 1.0)">3</text>
<line x1="580.80" y1="334.70" x2="586.30" y2="334.70" stroke="#333" stroke-width="1.0"/>
<text font-size="15.9" text-anchor="end" transform="translate(579.80 337.95) scale(0.93 1.0)">2</text>
<line x1="580.80" y1="371.70" x2="586.30" y2="371.70" stroke="#333" stroke-width="1.0"/>
<text font-size="15.9" text-anchor="end" transform="translate(579.80 374.95) scale(0.93 1.0)">1</text>
<line x1="580.80" y1="408.80" x2="586.30" y2="408.80" stroke="#333" stroke-width="1.0"/>
<text font-size="15.9" text-anchor="end" transform="translate(579.80 412.05) scale(0.93 1.0)">0</text>
<line x1="614.30" y1="408.80" x2="614.30" y2="414.30" stroke="#333" stroke-width="1.0"/>
<text font-size="14.0" text-anchor="middle" transform="translate(615.15 425.90) scale(0.92 1.0)">JIA</text>
<line x1="614.30" y1="370.10" x2="614.30" y2="382.20" stroke="#333" stroke-width="0.9"/>
<line x1="600.10" y1="377.50" x2="628.30" y2="377.50" stroke="#333" stroke-width="1.0"/>
<line x1="608.10" y1="370.10" x2="620.70" y2="370.10" stroke="#333" stroke-width="1.0"/>
<line x1="608.10" y1="382.20" x2="620.70" y2="382.20" stroke="#333" stroke-width="1.0"/>
<circle cx="614.30" cy="364.30" r="2.05" fill="#fff" stroke="#1e1e1e" stroke-width="0.95"/>
<circle cx="620.20" cy="362.50" r="2.05" fill="#fff" stroke="#1e1e1e" stroke-width="0.95"/>
<circle cx="608.10" cy="371.90" r="2.05" fill="#fff" stroke="#1e1e1e" stroke-width="0.95"/>
<circle cx="620.20" cy="372.20" r="2.05" fill="#fff" stroke="#1e1e1e" stroke-width="0.95"/>
<circle cx="614.30" cy="374.60" r="2.05" fill="#fff" stroke="#1e1e1e" stroke-width="0.95"/>
<circle cx="608.10" cy="380.70" r="2.05" fill="#fff" stroke="#1e1e1e" stroke-width="0.95"/>
<circle cx="614.30" cy="382.20" r="2.05" fill="#fff" stroke="#1e1e1e" stroke-width="0.95"/>
<circle cx="620.20" cy="381.30" r="2.05" fill="#fff" stroke="#1e1e1e" stroke-width="0.95"/>
<circle cx="602.30" cy="383.50" r="2.05" fill="#fff" stroke="#1e1e1e" stroke-width="0.95"/>
<circle cx="626.20" cy="384.80" r="2.05" fill="#fff" stroke="#1e1e1e" stroke-width="0.95"/>
<line x1="656.30" y1="408.80" x2="656.30" y2="414.30" stroke="#333" stroke-width="1.0"/>
<text font-size="14.0" text-anchor="middle" transform="translate(655.70 425.90) scale(0.92 1.0)">JIA</text>
<text font-size="14.0" text-anchor="middle" transform="translate(655.70 441.70) scale(0.92 1.0)">Uveitis</text>
<line x1="656.30" y1="322.00" x2="656.30" y2="377.40" stroke="#333" stroke-width="0.9"/>
<line x1="642.70" y1="354.30" x2="670.80" y2="354.30" stroke="#333" stroke-width="1.0"/>
<line x1="650.20" y1="322.00" x2="662.50" y2="322.00" stroke="#333" stroke-width="1.0"/>
<line x1="650.20" y1="377.40" x2="662.50" y2="377.40" stroke="#333" stroke-width="1.0"/>
<circle cx="656.30" cy="281.30" r="2.2" fill="#1a1a1a"/>
<circle cx="652.00" cy="322.00" r="2.2" fill="#1a1a1a"/>
<circle cx="661.20" cy="321.70" r="2.2" fill="#1a1a1a"/>
<circle cx="656.30" cy="332.20" r="2.2" fill="#1a1a1a"/>
<circle cx="652.20" cy="354.30" r="2.2" fill="#1a1a1a"/>
<circle cx="661.30" cy="356.10" r="2.2" fill="#1a1a1a"/>
<circle cx="648.00" cy="380.70" r="2.2" fill="#1a1a1a"/>
<circle cx="656.40" cy="377.10" r="2.2" fill="#1a1a1a"/>
<circle cx="665.50" cy="379.30" r="2.2" fill="#1a1a1a"/>
<path d="M614.30 272.70V263.00H656.30V272.70" fill="none" stroke="#333" stroke-width="1.0"/>
<text font-size="14.3" text-anchor="middle" transform="translate(635.30 259.90) scale(0.93 1.0)">0.0140</text>
<text font-size="15.0" text-anchor="middle" transform="translate(566.80 339.00) rotate(-90)">% of CD86<tspan dx="0.67" dy="-5.40" font-size="7.50">+</tspan><tspan dx="0.67" dy="5.40"> DN1 B cells</tspan></text>
<text x="5.00" y="470.50" font-size="21.8" stroke="#222" stroke-width="0.28">G</text>
<text font-size="15.6" transform="translate(36.60 476.70)">Gated on CD19<tspan dx="0.70" dy="-5.62" font-size="7.80">+</tspan><tspan dx="0.70" dy="5.62">CD27</tspan><tspan dx="0.00" dy="-5.62" font-size="7.80">-</tspan><tspan dx="0.00" dy="5.62">IgD</tspan><tspan dx="0.00" dy="-5.62" font-size="7.80">-</tspan></text>
<text font-size="15.6" transform="translate(36.60 495.80)">CD11c<tspan dx="0.00" dy="-5.62" font-size="7.80">-</tspan><tspan dx="0.00" dy="5.62">CXCR5</tspan><tspan dx="0.70" dy="-5.62" font-size="7.80">+</tspan><tspan dx="0.70" dy="5.62"> DN1 B cells</tspan></text>
<line x1="37.00" y1="500.90" x2="310.50" y2="500.90" stroke="#222" stroke-width="1.2" stroke-dasharray="4.3 4.72" stroke-dashoffset="1.1"/>
<text font-size="15.85" transform="translate(37.00 515.20)">JIA PBMC</text>
<text font-size="15.85" transform="translate(199.00 515.20)">JIA-Uveitis PBMC</text>
<g filter="url(#bl)"><path d="M127.2 532.2h1.3m3.8 0.6h1.3m5.9 5h1.3m-1.8 3.1h1.3m0.2 0.3h1.3m-8.5 0.5h1.3m-0.1 1.1h1.3m-11.2 0.8h1.3m21.4 0.2h1.3m-6.7 0.6h1.3m-6.3 0.6h1.3m-3.8 1.2h1.3m2.8 3.6h1.3m-10.4 0.4h1.3m6.1 0h1.3m-13.7 0.5h1.3m10.9 0.1h1.3m-11 0.5h1.3m1.9 0.2h1.3m3 1.7h1.3m0.7 1h1.3m1.2 0.4h1.3m-11.9 0.6h1.3m10.4 1h1.3m-13.9 0.9h1.3m12.6 0.1h1.3m-1.3 1.6h1.3m1 1.9h1.3m-5.8 0.3h1.3m-2.1 0h1.3m-4.4 1.2h1.3m-5.4 0.2h1.3m7.4 0.5h1.3m-2.5 0.5h1.3m-10.1 0.2h1.3m8.1 0.1h1.3m-11.7 0.2h1.3m-0.3 1h1.3m-15.7 0.6h1.3m8.6 1.4h1.3m-7.2 0.1h1.3m14.6 0.6h1.3m-2.1 0.3h1.3m1.7 0.3h1.3m-5.8 1.1h1.3m-6.3 0.7h1.3m15.2 0.4h1.3m-15.5 0.3h1.3m-0.9 0.6h1.3m7.4 0.1h1.3m-9.4 0.4h1.3m6.2 0.4h1.3m-12.7 0h1.3m-4.2 0.1h1.3m12.8 0h1.3m-2.9 0.8h1.3m-16.6 0.3h1.3m13.6 0.7h1.3m-5.3 0.2h1.3m-2 0.1h1.3m-3.1 0.1h1.3m-3.9 0.1h1.3m8.8 0.1h1.3m-13 0.2h1.3m7.9 0.1h1.3m4.1 0.1h1.3m-5 1.2h1.3m-3 0h1.3m-9.2 0.2h1.3m4.4 0.2h1.3m-2 0.1h1.3m0.3 0.5h1.3m-9.1 1.3h1.3m2.8 0h1.3m-4.8 0.1h1.3m3.5 0.1h1.3m11.4 0.2h1.3m-22.8 0.3h1.3m2 0.5h1.3m-3 0.1h1.3m4.7 0.2h1.3m-5.2 0.1h1.3m5.5 0.3h1.3m-2.1 0.1h1.3m2.2 0h1.3m-12.9 0.2h1.3m0.8 0.2h1.3m16.1 0.2h1.3m-13 0.3h1.3m0.4 0.1h1.3m-15.9 0.1h1.3m22.1 0.1h1.3m-10.6 0.1h1.3m-4.9 0.3h1.3m5.1 0.4h1.3m-10.2 0.2h1.3m10.7 0.4h1.3m-4.1 0h1.3m-11.9 0.4h1.3m2.5 0.1h1.3m-14 0h1.3m16.9 0.1h1.3m0.1 0.4h1.3m-12.8 1.1h1.3m-6.9 0.1h1.3m17.8 0.1h1.3m-11.9 0.4h1.3m-0.7 0.1h1.3m3.2 0h1.3m-4.2 0.1h1.3m7.4 0.2h1.3m-1.2 0.5h1.3m-10.3 0.1h1.3m-1.2 0.1h1.3m2 0.3h1.3m-8.3 0h1.3m12.8 0.1h1.3m-4.5 0.1h1.3m-17 0.1h1.3m14.4 0.1h1.3m-13.5 0.1h1.3m9.6 0.7h1.3m-9.3 0.4h1.3m9.1 0.6h1.3m-16.3 0.3h1.3m11.8 0.3h1.3m-5.5 1.6h1.3m1.5 0.7h1.3m-1.7 0.3h1.3m0.3 0.1h1.3m-5.3 0.1h1.3m-4 0.9h1.3m2.7 0h1.3m-2.8 0.3h1.3m-13.1 0.6h1.3m14.8 0.1h1.3m0.8 0.1h1.3m-7 0.6h1.3m4.8 0h1.3m-21.9 0.4h1.3m22.1 0.1h1.3m-10.4 0.2h1.3m10.8 0.5h1.3m1.9 0.3h1.3m-20.9 0.6h1.3m14.5 0.8h1.3m-11 0.6h1.3m-2.6 0.5h1.3m-0.9 0.4h1.3m-7.8 0.3h1.3m8.5 0.1h1.3m-0.8 0h1.3m-6.8 0.2h1.3m2 0.3h1.3m-0.8 1.2h1.3m-6.5 0.3h1.3m7.1 0.5h1.3m-11.9 1.4h1.3m3.5 0.7h1.3m7 1h1.3m-13.8 0.4h1.3m6 1.4h1.3m-0.5 0.2h1.3m-1.3 0.9h1.3m3.1 0.1h1.3m-11.8 1h1.3m6.9 0.2h1.3m-3.8 0.5h1.3m-9 0.6h1.3m5.9 0.7h1.3m5 4.7h1.3m-2.5 3.2h1.3m-5.7 5h1.3" stroke="#000" stroke-opacity="0.34" stroke-width="1.3" fill="none"/><path d="M139.7 533.3h1.3m-6.2 0.5h1.3m-0.1 2.6h1.3m-5.2 5h1.3m-2.1 0.5h1.3m9.3 0.8h1.3m-3.3 0.6h1.3m-11.8 1.6h1.3m-0.8 0.6h1.3m3.8 0.4h1.3m1.9 0.6h1.3m-0.7 0.6h1.3m4.3 1.2h1.3m-0.3 0.2h1.3m-4.1 0h1.3m-10.2 0.2h1.3m3.4 0.1h1.3m0.2 1.6h1.3m-3.1 0.4h1.3m5.8 0.3h1.3m-9.9 0.1h1.3m3.9 0.5h1.3m-5.9 0.1h1.3m-9.2 0.6h1.3m1 0.3h1.3m10.4 0.8h1.3m-9.4 0.3h1.3m-5.9 1.4h1.3m-2.5 0.1h1.3m-3.8 0.3h1.3m10.4 0.2h1.3m-14.7 1.5h1.3m9.8 1.6h1.3m2.7 0h1.3m-5.5 2.2h1.3m-12.6 0.5h1.3m14 0.6h1.3m-16.8 3h1.3m5.6 0.4h1.3m9.4 0.6h1.3m-13.7 0.2h1.3m3.8 0.3h1.3m-0.9 0.3h1.3m-1.6 0.2h1.3m-4.2 1h1.3m2.3 0h1.3m-0.4 0.9h1.3m7.1 0h1.3m-13.1 0.2h1.3m-3.1 0.3h1.3m-19.4 0.2h1.3m0.2 0.3h1.3m17.8 0.6h1.3m-1.8 0.3h1.3m2.8 0h1.3m0.2 0.1h1.3m-11.9 0.8h1.3m-1.8 0.3h1.3m8.2 1.2h1.3m-12.3 0.7h1.3m1.8 0.1h1.3m-12.2 0h1.3m11.4 0.7h1.3m-8.8 0.1h1.3m0.1 0.3h1.3m-0.8 0.1h1.3m10.2 0.3h1.3m-7.9 0.4h1.3m5.4 0.2h1.3m-15.1 0.3h1.3m7.7 0.2h1.3m2.6 0.1h1.3m-9.3 0.1h1.3m0.1 0.9h1.3m7.4 0.2h1.3m-7.8 0.2h1.3m7.7 0.4h1.3m-9.7 0.1h1.3m3.3 0.3h1.3m0.7 0.1h1.3m-4.2 0.1h1.3m-15.3 0.1h1.3m16.5 0.1h1.3m-7.8 0.3h1.3m-7 0.1h1.3m12.7 0.1h1.3m0.9 0h1.3m-20.9 0h1.3m11.4 0h1.3m-8.2 0.2h1.3m9 0h1.3m-7.3 0.1h1.3m-8 0.1h1.3m11.8 0.3h1.3m-3.3 0.2h1.3m-9.7 0.2h1.3m2.7 0.3h1.3m8.6 0h1.3m-8 0.7h1.3m-5.2 0.1h1.3m6 0.1h1.3m-4.9 0.1h1.3m-4.9 0.1h1.3m-7.3 0.1h1.3m10 0.9h1.3m-4.7 0.2h1.3m-8.8 1.2h1.3m4.8 0h1.3m3.8 0.7h1.3m-16.3 0.4h1.3m2.2 0.4h1.3m11.2 0h1.3m-13.7 0.1h1.3m11.1 0.4h1.3m-16.4 0.2h1.3m5.6 1.1h1.3m0.3 0.2h1.3m-5.9 0.6h1.3m0.3 0.3h1.3m-6.4 0.1h1.3m-3.6 0.3h1.3m9.2 0h1.3m-2.9 0.3h1.3m-11.1 0h1.3m15.6 0.2h1.3m-15.3 0.9h1.3m13.2 0.4h1.3m-9.3 0h1.3m-1.6 0h1.3m0 0.6h1.3m-5.3 0h1.3m3.7 0.1h1.3m7.6 0.5h1.3m-6.6 0.9h1.3m-16.1 0.7h1.3m12.2 0.2h1.3m-5 0.1h1.3m1.6 0h1.3m-6.8 0.2h1.3m9.6 0.3h1.3m-5.6 0.5h1.3m-8.6 0.4h1.3m3.4 0.4h1.3m-3.7 0h1.3m5.7 0.2h1.3m-11.9 0.4h1.3m4.1 0h1.3m9.6 0.2h1.3m-20.8 0.1h1.3m8.5 1.1h1.3m2.4 0.8h1.3m-2.9 1h1.3m-0.8 0.6h1.3m1 0.8h1.3m-7.4 0.6h1.3m2.5 0.4h1.3m-2.5 0.1h1.3m-2 0h1.3m-5.4 2.1h1.3m-6.2 0.7h1.3m15.4 0.8h1.3m-11.6 1.5h1.3m2.4 0.1h1.3m1.9 0.1h1.3m-7.9 0.4h1.3m-1.1 0.7h1.3m1.8 0.9h1.3m-3.3 2.6h1.3m-1.4 0.7h1.3m2.6 0.3h1.3m-12.3 0.3h1.3m-2.9 1.3h1.3m12.8 6.8h1.3" stroke="#000" stroke-opacity="0.34" stroke-width="1.3" fill="none"/><path d="M143.7 530.4h1.3m-6.5 4.7h1.3m-0.9 0.2h1.3m-12.7 1.5h1.3m-3.2 0.3h1.3m5.5 1.3h1.3m-7.5 0.4h1.3m3.1 1.1h1.3m-2.1 0.1h1.3m3.6 0.8h1.3m-3.6 1.1h1.3m3.7 1.3h1.3m-5.8 0h1.3m6.6 0.8h1.3m-2.4 1.8h1.3m-3.4 0.1h1.3m10.1 0.4h1.3m-19.5 0.5h1.3m1.8 0.9h1.3m0.5 0h1.3m2.5 1.3h1.3m-7.4 0.2h1.3m-2.1 0.6h1.3m4 0.7h1.3m-10.1 0.1h1.3m7.2 0.5h1.3m-0.9 0.4h1.3m-1.6 0h1.3m3.4 3.3h1.3m-14.7 0.9h1.3m6.9 1.2h1.3m-5.4 0.5h1.3m-11.2 0.2h1.3m5.7 0.2h1.3m-4 2h1.3m-2.6 0.5h1.3m2.7 0.2h1.3m-0.3 0.3h1.3m0.9 0.1h1.3m5.8 0.1h1.3m-17.7 0.1h1.3m9.7 2.1h1.3m-11.2 0.7h1.3m8.3 0.4h1.3m-7.7 0.8h1.3m0.6 0.6h1.3m2.4 0.8h1.3m-5.7 1h1.3m-8.8 0.6h1.3m14.4 0.9h1.3m-10.9 0.2h1.3m14.8 0.1h1.3m-14.4 0.9h1.3m0.8 0.2h1.3m-7.2 0.1h1.3m-4.7 0.4h1.3m9.7 0.3h1.3m-11.2 0h1.3m-0.3 0.2h1.3m14.5 0.1h1.3m-9.7 0.1h1.3m-6.2 0.7h1.3m2.1 0.5h1.3m-0.9 0.4h1.3m2.8 0.1h1.3m1.6 0h1.3m-10.6 0.4h1.3m-5.8 0.6h1.3m9.9 0h1.3m-7.7 0h1.3m7.7 0.2h1.3m-12.5 0.2h1.3m-8.5 0.6h1.3m11 0h1.3m3.4 0.2h1.3m-7 0.3h1.3m2.1 0.3h1.3m-1.3 0.4h1.3m-3 0.2h1.3m-3 0.1h1.3m-5.9 0.1h1.3m-2.1 0.4h1.3m8.3 0.1h1.3m-4.6 0h1.3m-3.8 0.2h1.3m-4.8 0.1h1.3m14.3 0.2h1.3m-1.4 0.2h1.3m-16.3 0.7h1.3m-0.9 0.3h1.3m9.5 0.5h1.3m-8.6 0.1h1.3m4 0h1.3m-11.3 0.2h1.3m6.4 0.9h1.3m-12.4 0.1h1.3m11 0.2h1.3m-6.3 0.1h1.3m-2.6 0.3h1.3m-2.4 0.2h1.3m0.3 0.1h1.3m9 0.3h1.3m-9.1 0.1h1.3m7.3 0.2h1.3m-10.9 0h1.3m-6.4 0.3h1.3m4.5 0h1.3m12 0.9h1.3m-14.3 0.5h1.3m-13.4 0.3h1.3m4.2 0.2h1.3m6.3 0.1h1.3m-11.1 0.3h1.3m10 0.6h1.3m3.4 0.2h1.3m-5.6 0.2h1.3m-9.3 0.5h1.3m5.3 0.3h1.3m2.3 0h1.3m-18.6 0.1h1.3m18.7 0.4h1.3m-8.1 0.4h1.3m-1.6 0.6h1.3m-0.1 0.3h1.3m-14.3 0.4h1.3m13.7 0.2h1.3m-3 0.1h1.3m-4.5 0.1h1.3m-0.7 0h1.3m6.8 1.4h1.3m-14 0.2h1.3m7.4 0h1.3m-0.6 0.1h1.3m2.7 0.5h1.3m-11.9 0.1h1.3m-4.3 0.1h1.3m-1.2 0.1h1.3m0.6 0.5h1.3m0.1 0.1h1.3m4.4 0.5h1.3m-7.7 0.1h1.3m0.5 0.1h1.3m-1.5 1.1h1.3m4.2 0.2h1.3m-6.7 1.2h1.3m-0.8 1.1h1.3m3.6 0.1h1.3m4.7 1.1h1.3m-19.5 0.5h1.3m4.7 0.5h1.3m-5.3 1.9h1.3m7.7 0.2h1.3m-2.1 1h1.3m0 0.6h1.3m-1.7 1.7h1.3m0.2 0.2h1.3m-0.5 1h1.3m2.7 0.2h1.3m-7.9 0.3h1.3m0.8 0.5h1.3m6.2 0.7h1.3m-17.2 0.2h1.3m1.9 0.4h1.3m-5.3 0.3h1.3m1.7 0.2h1.3m4.7 0.7h1.3m-8 0.4h1.3m4.6 3.3h1.3m-2.3 1.1h1.3m-8.3 0.4h1.3m7.2 2.1h1.3m-5.1 1h1.3m2.6 0.9h1.3" stroke="#000" stroke-opacity="0.34" stroke-width="1.3" fill="none"/><path d="M144.9 533h1.3m-6.8 1.4h1.3m-12 0.7h1.3m4.3 4.5h1.3m-1.6 0.6h1.3m1.5 0.3h1.3m3.3 1.1h1.3m-7.2 0h1.3m1.6 0.4h1.3m-0.9 1.9h1.3m-8 0.8h1.3m3 0.1h1.3m0.6 0.5h1.3m-3.2 1.3h1.3m-0.8 0.7h1.3m-8.9 1.1h1.3m2.6 3.9h1.3m-4.9 0.6h1.3m-2.6 0.8h1.3m15.7 0.1h1.3m-9.6 1h1.3m-9.2 0.7h1.3m5.4 0.9h1.3m-9.3 0h1.3m13.7 0.3h1.3m-7.3 0.2h1.3m-1.7 0.8h1.3m-2.9 0.1h1.3m-4.5 0.1h1.3m13.7 0.9h1.3m-16.4 0.8h1.3m2.6 0.2h1.3m-10.1 0.9h1.3m10 0.1h1.3m-2.7 0.3h1.3m-7.4 0.3h1.3m-6 0.5h1.3m5 0.3h1.3m-5.3 1.1h1.3m10.9 2.2h1.3m4.5 0.9h1.3m-17.6 0.3h1.3m3 1h1.3m-11.8 0.4h1.3m4.8 0.5h1.3m4.1 0.4h1.3m-10.8 0.4h1.3m1.1 0h1.3m6.1 0.4h1.3m-6.7 0.3h1.3m11.1 0.6h1.3m-5.9 0.3h1.3m-19.7 0.3h1.3m3.8 0.4h1.3m3.9 0.3h1.3m7 0h1.3m2.4 0.3h1.3m-8.4 0.3h1.3m4.1 0.5h1.3m-5.4 0.2h1.3m-6 0.4h1.3m2.1 0.1h1.3m-11.1 0.3h1.3m3.8 0.5h1.3m-1.5 0.2h1.3m12.5 0.5h1.3m-19.4 0.1h1.3m-0.4 0h1.3m-1.1 0.3h1.3m4 0.2h1.3m-11 0.3h1.3m12.6 0.2h1.3m-3 0.3h1.3m-2.1 2h1.3m-1.2 0.2h1.3m5.3 0.2h1.3m0.2 0.1h1.3m-6.3 0.6h1.3m-12.7 0h1.3m9.3 0.1h1.3m-3.6 0h1.3m-5.3 0.1h1.3m11.4 0.1h1.3m-16 0.3h1.3m4.3 0.2h1.3m-6.9 0.2h1.3m4.8 0.3h1.3m-10.4 0.5h1.3m6.6 0.4h1.3m5.5 0.4h1.3m-24.4 0.4h1.3m11.4 0.3h1.3m-2.9 0.6h1.3m2.5 0.7h1.3m4.1 0h1.3m-3.9 0.1h1.3m-5.6 0.3h1.3m-5.1 0.1h1.3m7.2 0.3h1.3m-4 1h1.3m-0.7 0.1h1.3m-5.4 0h1.3m-0.1 0.1h1.3m-6.8 0.1h1.3m3.5 1.3h1.3m3.9 0h1.3m12.2 0.3h1.3m-24.4 0.5h1.3m6.6 0.1h1.3m6.6 0.4h1.3m-10.4 0.1h1.3m1.1 0h1.3m-3.9 0.4h1.3m4.2 0.1h1.3m-4.2 0h1.3m-2.3 0.6h1.3m-12.1 0.1h1.3m10.4 0.4h1.3m5.2 0.2h1.3m-11.3 0.1h1.3m0.4 0h1.3m3.8 0.1h1.3m-7.5 0.8h1.3m6.1 0.1h1.3m-12.9 0h1.3m7.4 0.1h1.3m6.1 0.6h1.3m-12.8 0.6h1.3m1.5 1h1.3m2.2 0.3h1.3m-0.1 0.1h1.3m-11.9 0.9h1.3m8.5 0.1h1.3m-6.9 1.6h1.3m5.3 0.3h1.3m0.8 0.4h1.3m-16.7 0.1h1.3m11.8 0.7h1.3m-0.6 0.9h1.3m1.5 0.1h1.3m-1.7 0.1h1.3m0.3 0.3h1.3m-9.4 0.2h1.3m-10.1 0.5h1.3m12.9 0.4h1.3m-2.8 0.6h1.3m1.2 0.1h1.3m1.6 0.6h1.3m-7.8 0.9h1.3m-5 0h1.3m-5.4 0.7h1.3m3 0.1h1.3m-14.4 0.6h1.3m19 0.3h1.3m-7.1 0.2h1.3m3.7 0.2h1.3m-3.6 0.2h1.3m-0.1 0.3h1.3m-12.9 0.2h1.3m0.7 0.3h1.3m5.2 1.9h1.3m-9.9 1.8h1.3m9.9 0.1h1.3m-5.6 1.9h1.3m1.2 0.7h1.3m2.3 2.4h1.3m-7.6 0.5h1.3m-2.4 1.1h1.3m6.6 1.5h1.3m-7.2 2h1.3m3.3 1.6h1.3m-5.9 3.1h1.3m-8.3 4.5h1.3" stroke="#000" stroke-opacity="0.34" stroke-width="1.3" fill="none"/><path d="M120.8 531.8h1.3m17.2 0.9h1.3m-9.5 0h1.3m3 0.1h1.3m-7.1 0.4h1.3m9 4.7h1.3m-11.5 0.1h1.3m6.1 0.4h1.3m-11.2 5.1h1.3m11.8 0.4h1.3m-10 1.2h1.3m4.6 1.9h1.3m-3.6 0.8h1.3m-1.6 0.4h1.3m5.7 0.6h1.3m-19.4 0.5h1.3m8 0.9h1.3m9.4 0.6h1.3m-6.8 0.1h1.3m-3.2 0.5h1.3m-12.9 0.3h1.3m8.5 1.7h1.3m-6.8 2h1.3m15.7 0.4h1.3m-17.8 0.8h1.3m-9.1 1h1.3m14 1h1.3m-6.6 0.2h1.3m3.6 0.3h1.3m-4 0h1.3m-15.9 0.9h1.3m13 0.1h1.3m-4.9 0.2h1.3m8.5 0.3h1.3m-1.9 0.3h1.3m-6.5 1.2h1.3m-13.5 0.7h1.3m12.7 0.7h1.3m4.4 0.1h1.3m-10.4 2h1.3m-7.6 0h1.3m11.2 0.5h1.3m-2.7 0.4h1.3m0.7 0.1h1.3m-6.5 0.5h1.3m-10.2 0.2h1.3m-3.8 0h1.3m1.4 0.1h1.3m16.1 0.4h1.3m-15.5 0.4h1.3m13.6 1.1h1.3m-21.3 0.5h1.3m8.9 0.5h1.3m-1.7 1h1.3m-0.5 0h1.3m-7 0.1h1.3m-0.8 0.1h1.3m0.7 0.2h1.3m4.8 0.4h1.3m-7.9 0.3h1.3m5.2 0.1h1.3m-2.5 0.1h1.3m-4.5 0.4h1.3m-1.6 0h1.3m1.3 0.4h1.3m-6.9 0.3h1.3m-4.8 0.1h1.3m4.8 0.1h1.3m2.8 0.5h1.3m-3.6 0.1h1.3m-11.8 0.4h1.3m7.2 0.6h1.3m-4 0.9h1.3m5 0.1h1.3m1.1 0.2h1.3m-11.5 0h1.3m4.7 0.1h1.3m1 0.4h1.3m-5.8 0.2h1.3m9.5 0.7h1.3m-8.2 0h1.3m6.2 0.6h1.3m-14.4 0.1h1.3m9.2 0.2h1.3m-19.2 0.1h1.3m2.9 0.3h1.3m-4.1 0.2h1.3m18.5 0.3h1.3m-16.1 0h1.3m6.7 0.3h1.3m-7.5 0.1h1.3m4.9 0.2h1.3m-9.4 0h1.3m9.1 0.8h1.3m-15.8 0.1h1.3m4.1 0.1h1.3m-3.2 0h1.3m0 0.7h1.3m-3.9 0.2h1.3m15.9 0.1h1.3m-20.4 0.1h1.3m2.7 0.3h1.3m0.9 0.1h1.3m3.2 0.2h1.3m-6.8 0.7h1.3m10.8 0.4h1.3m-15.8 0.1h1.3m-3.5 0.7h1.3m-2.6 0.3h1.3m2.8 0.4h1.3m4.1 0.3h1.3m-1 0h1.3m-9.2 1h1.3m6.9 0.6h1.3m1.2 0.3h1.3m-7.8 0.1h1.3m-1.8 0.2h1.3m-5.3 0.1h1.3m0.7 0.1h1.3m0.8 0.2h1.3m12.8 0.3h1.3m-14.4 0.4h1.3m-3.4 0.4h1.3m5.4 0.1h1.3m0.2 0.5h1.3m-10.7 0.5h1.3m4.9 0.4h1.3m-2 0.2h1.3m-0.3 0.3h1.3m-8.1 1.4h1.3m6 0.2h1.3m-1.9 0h1.3m-4.6 0.4h1.3m3.5 0.2h1.3m-2.9 0.6h1.3m-10.6 0.3h1.3m11.4 0.8h1.3m-4.3 0.9h1.3m-2.4 1.2h1.3m-8.6 0.5h1.3m15.3 0h1.3m-8.9 0.4h1.3m-19 0h1.3m18.4 0.4h1.3m-0.5 0.1h1.3m-5.1 0.8h1.3m6 0.1h1.3m-4.7 0.4h1.3m-13.8 0.8h1.3m19.2 0.2h1.3m-9.3 0.8h1.3m-2 0.5h1.3m5.8 1h1.3m-14.3 0.1h1.3m2.3 0.4h1.3m4.4 0.2h1.3m-5.9 0.6h1.3m-4.8 0h1.3m-2.2 0.4h1.3m3 0.3h1.3m-3.9 1h1.3m2.3 1.5h1.3m0.5 0.2h1.3m-3.1 0.7h1.3m-4.7 0.6h1.3m-3.6 1h1.3m4.9 0h1.3m-3.4 0.9h1.3m-4.3 0h1.3m3.1 0h1.3m-0.5 0.1h1.3m2.3 3.5h1.3m5 4.1h1.3" stroke="#000" stroke-opacity="0.34" stroke-width="1.3" fill="none"/><path d="M136.7 532.7h1.3m4 4.8h1.3m-10.6 1h1.3m0.2 0.1h1.3m0.7 1.5h1.3m-2.8 0.1h1.3m7.3 0.1h1.3m-9.2 0.7h1.3m5.5 1.8h1.3m-8.7 0h1.3m-5.9 0.1h1.3m10.7 0h1.3m-8.3 0.1h1.3m-3.5 0.1h1.3m14.6 0.7h1.3m-14 0.5h1.3m0.6 0.7h1.3m-4.4 2.3h1.3m5.8 0.1h1.3m-7.5 0.1h1.3m-9.1 1h1.3m6.6 0.4h1.3m-2 0.1h1.3m-0.3 0.9h1.3m0.7 0.9h1.3m-4.4 0.6h1.3m3.1 0.4h1.3m-6.5 1.1h1.3m-5.9 1h1.3m1.8 2h1.3m2.2 0.3h1.3m-5.5 0.1h1.3m-1.9 0.3h1.3m-1.3 1.9h1.3m4.1 0.1h1.3m0.1 2.6h1.3m-5.8 0.8h1.3m-3.1 1h1.3m-2.4 0h1.3m-1.7 0.3h1.3m8.3 0.4h1.3m-15.1 1.3h1.3m12.5 0.1h1.3m-9.9 0.3h1.3m-8.5 0.3h1.3m9.2 0.6h1.3m-1 0h1.3m2 0.1h1.3m-3.9 1.1h1.3m-0.8 0.1h1.3m-16.4 0.4h1.3m1.8 0.8h1.3m11.8 0.7h1.3m-2.9 0.2h1.3m-2.5 0.1h1.3m-12.7 0.5h1.3m15.8 0.2h1.3m-10.3 0.9h1.3m-8 0.1h1.3m4.8 0.2h1.3m-8.3 0.1h1.3m-8.9 0.1h1.3m12 0.6h1.3m12.2 0.5h1.3m-15.5 0.1h1.3m-7.3 1.1h1.3m-7.4 0.1h1.3m11.2 0.1h1.3m4.2 0.7h1.3m-0.8 0.1h1.3m3.7 0.1h1.3m-11.7 0.2h1.3m-0.6 0.2h1.3m2.7 0.4h1.3m-3.2 0.2h1.3m3.7 0.1h1.3m-16.9 1h1.3m7.3 0.5h1.3m-9.3 0.1h1.3m-0.5 0.3h1.3m10 0.2h1.3m1.1 0.2h1.3m-0.9 0.1h1.3m-17.6 0.2h1.3m2.6 0.4h1.3m12.2 0h1.3m-11 0.2h1.3m12.6 0h1.3m-18.6 0h1.3m4.7 0.3h1.3m-2.9 0.4h1.3m3.1 0h1.3m-2.9 0.4h1.3m-6.2 0.5h1.3m2.4 0.8h1.3m-15.8 0.1h1.3m16.5 0.3h1.3m-1.7 0h1.3m8.1 0.4h1.3m-7.2 0.1h1.3m-15.5 0h1.3m11.4 0.8h1.3m-5.7 0.4h1.3m-12.6 0.6h1.3m7.7 0.1h1.3m-0.2 0h1.3m-0.6 1.6h1.3m-0.9 0.1h1.3m9.8 0.1h1.3m-10 0.3h1.3m-10.4 0.2h1.3m4 0.1h1.3m10.3 0.4h1.3m-17.4 0.2h1.3m22 0.5h1.3m-29.1 0.5h1.3m8.9 0.2h1.3m9 0h1.3m-11.7 0.3h1.3m3.7 0h1.3m2.4 0.4h1.3m-2.6 0.1h1.3m-7 0.1h1.3m-7.2 0h1.3m7.2 1.3h1.3m-2.3 0.3h1.3m8.5 0.1h1.3m-17 0.1h1.3m4.7 1.5h1.3m-7.6 0.2h1.3m6.2 0.3h1.3m-5.1 1h1.3m-2.2 0.1h1.3m8 0.1h1.3m-9.2 0.9h1.3m6.7 0.1h1.3m-6.1 0.1h1.3m7.4 0.6h1.3m-10.5 0.5h1.3m11.9 0h1.3m-16.7 0.6h1.3m-3.5 0.3h1.3m-3.9 0.2h1.3m4.3 0.5h1.3m-3.1 0.1h1.3m-1.4 0.4h1.3m-2.6 0.3h1.3m0.6 0.4h1.3m-8.1 0.7h1.3m13.5 0.3h1.3m-7 0.6h1.3m-15.3 0.6h1.3m14.4 0.1h1.3m-7.1 0.3h1.3m7.5 0.1h1.3m-6.1 0.6h1.3m-7.7 0.6h1.3m7 0.7h1.3m-11.4 2h1.3m-4.6 1h1.3m16.8 0.5h1.3m-4.6 0.6h1.3m0.2 1.8h1.3m-12.6 1.2h1.3m2.9 0.2h1.3m-9.2 0.4h1.3m3.9 0.1h1.3m6.2 0.4h1.3m-2.8 0.2h1.3m-11.2 2.8h1.3m6 2.7h1.3m0.4 0.8h1.3m-2.5 9.2h1.3" stroke="#000" stroke-opacity="0.34" stroke-width="1.3" fill="none"/></g>
<path d="M35.90 520.00H38.70M35.90 541.20H38.70M35.90 565.50H38.70M35.90 596.90H38.70M35.90 628.20H38.70M37.20 534.82H38.70M37.20 531.09H38.70M37.20 528.44H38.70M37.20 526.38H38.70M37.20 524.70H38.70M37.20 523.28H38.70M37.20 522.05H38.70M37.20 520.97H38.70M37.20 558.18H38.70M37.20 553.91H38.70M37.20 550.87H38.70M37.20 548.52H38.70M37.20 546.59H38.70M37.20 544.96H38.70M37.20 543.55H38.70M37.20 542.31H38.70M37.20 570.73H38.70M37.20 575.97H38.70M37.20 581.20H38.70M37.20 586.43H38.70M37.20 591.67H38.70M37.20 591.60H38.70M37.20 593.11H38.70M37.20 594.63H38.70M37.20 596.14H38.70M37.20 597.66H38.70M37.20 599.17H38.70M37.20 600.69H38.70M37.20 602.20H38.70M37.20 602.12H38.70M37.20 607.33H38.70M37.20 612.55H38.70M37.20 617.77H38.70M37.20 622.98H38.70M37.20 637.59H38.70M37.20 643.09H38.70M37.20 646.98H38.70M39.30 647.10V650.10M66.10 647.10V650.10M91.50 647.10V650.10M117.00 647.10V650.10M144.00 647.10V650.10M166.00 647.10V650.10M58.03 647.10V648.70M53.31 647.10V648.70M49.96 647.10V648.70M47.37 647.10V648.70M45.25 647.10V648.70M43.45 647.10V648.70M41.90 647.10V648.70M40.53 647.10V648.70M71.18 647.10V648.70M76.26 647.10V648.70M81.34 647.10V648.70M86.42 647.10V648.70M88.30 647.10V648.70M89.38 647.10V648.70M90.47 647.10V648.70M91.55 647.10V648.70M92.63 647.10V648.70M93.72 647.10V648.70M94.80 647.10V648.70M96.60 647.10V648.70M101.70 647.10V648.70M106.80 647.10V648.70M111.90 647.10V648.70M125.13 647.10V648.70M129.88 647.10V648.70M133.26 647.10V648.70M135.87 647.10V648.70M138.01 647.10V648.70M139.82 647.10V648.70M141.38 647.10V648.70M142.76 647.10V648.70M150.62 647.10V648.70M154.50 647.10V648.70M157.25 647.10V648.70M159.38 647.10V648.70M161.12 647.10V648.70M162.59 647.10V648.70M163.87 647.10V648.70M164.99 647.10V648.70" stroke="#444" stroke-width="0.8" fill="none"/>
<text x="24.60" y="525.80" font-size="5.3" fill="#666">10<tspan dx="1.3" dy="-3.2" font-size="4.7">6</tspan></text>
<text x="24.60" y="543.40" font-size="5.3" fill="#666">10<tspan dx="1.3" dy="-3.2" font-size="4.7">5</tspan></text>
<text x="24.60" y="567.20" font-size="5.3" fill="#666">10<tspan dx="1.3" dy="-3.2" font-size="4.7">4</tspan></text>
<text x="27.20" y="598.50" font-size="5.3" fill="#666">0</text>
<text x="21.80" y="631.10" font-size="5.3" fill="#666">-10<tspan dx="1.3" dy="-3.2" font-size="4.7">4</tspan></text>
<text x="41.00" y="658.50" font-size="5.3" fill="#666">-10<tspan dx="1.3" dy="-3.2" font-size="4.7">5</tspan></text>
<text x="64.40" y="658.50" font-size="5.3" fill="#666">-10<tspan dx="1.3" dy="-3.2" font-size="4.7">4</tspan></text>
<text x="92.40" y="658.50" font-size="5.3" fill="#666">0</text>
<text x="117.00" y="658.50" font-size="5.3" fill="#666">10<tspan dx="1.3" dy="-3.2" font-size="4.7">4</tspan></text>
<text x="144.00" y="658.50" font-size="5.3" fill="#666">10<tspan dx="1.3" dy="-3.2" font-size="4.7">5</tspan></text>
<text x="158.00" y="658.50" font-size="5.3" fill="#666">10<tspan dx="1.3" dy="-3.2" font-size="4.7">6</tspan></text>
<rect x="38.70" y="519.60" width="127.50" height="127.50" fill="none" stroke="#2a2a2a" stroke-width="1.1"/>
<path d="M36.90 591.00H38.70V603.00H36.90Z" fill="#1e1e1e"/>
<path d="M35.30 591.40H38.70M35.30 602.60H38.70" stroke="#999" stroke-width="1.1" fill="none"/>
<path d="M35.10 597.00H38.70" stroke="#1e1e1e" stroke-width="1.3" fill="none"/>
<path d="M88.30 647.10V649.80H94.80V647.10Z" fill="#1e1e1e"/>
<path d="M88.80 647.10V650.90M94.30 647.10V650.90" stroke="#555" stroke-width="1.1" fill="none"/>
<path d="M91.55 647.10V651.10" stroke="#1e1e1e" stroke-width="1.3" fill="none"/>
<rect x="110.30" y="524.20" width="41.90" height="38.30" fill="none" stroke="#2a2a2a" stroke-width="1.0"/>
<text font-size="15" text-anchor="middle" transform="translate(90.00 544.70)">0.54</text>
<g filter="url(#bl)"><path d="M280.3 533.9h1.3m10.9 0.9h1.3m-7 1.3h1.3m-3 0h1.3m8.7 0.5h1.3m-3.6 1.3h1.3m-3.8 0.3h1.3m-3.9 3.4h1.3m-1.1 1.5h1.3m4.2 0.4h1.3m-3.1 0.3h1.3m-7.4 1h1.3m3.8 0.2h1.3m5.7 0.3h1.3m-11.1 1.8h1.3m2 0.1h1.3m-11 0.9h1.3m10.2 1.1h1.3m-1.7 0h1.3m10.8 0.2h1.3m-21.4 0.1h1.3m2.5 0.5h1.3m-10.3 0.8h1.3m7.6 1.3h1.3m-8.3 0.9h1.3m0.4 0.8h1.3m4.3 0.6h1.3m7.1 0.6h1.3m-5.3 0.2h1.3m-11 0.6h1.3m-0.8 0.1h1.3m5.8 0.4h1.3m-0.3 0.8h1.3m3.8 0.4h1.3m-17.3 1h1.3m16.2 0.2h1.3m-9.6 0.1h1.3m-0.5 0.5h1.3m-7.7 0.5h1.3m0.1 1.3h1.3m-7 0.6h1.3m-0.5 0.9h1.3m12.9 0.5h1.3m-3 0.2h1.3m-13.7 0.1h1.3m-7 0.7h1.3m10.7 0.1h1.3m-0.6 0.4h1.3m-1.3 0.5h1.3m-1.2 0.7h1.3m-9.9 0.3h1.3m2.4 0.4h1.3m18.3 0h1.3m-17 0.3h1.3m5.6 0.5h1.3m-9 0.2h1.3m-6.4 0.1h1.3m3.1 0.5h1.3m-0.7 0.2h1.3m-4.6 0.1h1.3m1.3 0.1h1.3m0.7 0.2h1.3m-4.9 0.4h1.3m-2.4 0.3h1.3m-0.6 0.1h1.3m1.6 0.1h1.3m-3.4 0.2h1.3m-6 0.1h1.3m-7.9 0.4h1.3m14.5 0.2h1.3m3.6 1.1h1.3m-19 0h1.3m9.9 0.3h1.3m2.3 0.4h1.3m-13 0.2h1.3m-3.5 0.4h1.3m3.2 0.2h1.3m10.4 0.1h1.3m-13 0h1.3m1.8 0.3h1.3m-1.7 0.2h1.3m7.4 0.1h1.3m-16.1 0h1.3m9.6 0.1h1.3m-5.8 0.1h1.3m-13.4 0.3h1.3m15.6 0h1.3m-8.7 0h1.3m16.8 0.1h1.3m-6.9 0.1h1.3m3.1 0.4h1.3m-17.6 0.3h1.3m5 0.2h1.3m-3.9 0.3h1.3m9.5 0h1.3m-14.3 0.4h1.3m-6.5 0.2h1.3m7.7 0h1.3m-0.9 0h1.3m-10.6 0.1h1.3m-3.6 0.3h1.3m2.7 0.1h1.3m-4.6 0h1.3m3.4 0.1h1.3m0.3 0.1h1.3m7.5 0.1h1.3m-7.4 0.3h1.3m-4.2 0.2h1.3m9.7 0h1.3m-5.9 0h1.3m2.2 0.2h1.3m-24 0.2h1.3m10.7 0.2h1.3m-1.5 0.6h1.3m2.6 0.1h1.3m-4.5 0.3h1.3m11.7 0.2h1.3m-14.4 0.2h1.3m-1.6 0.1h1.3m-9.4 0.1h1.3m10.7 0.2h1.3m-12.4 0.4h1.3m6.1 0.2h1.3m-6.9 0.7h1.3m4.8 0.2h1.3m-11.2 0.4h1.3m3.9 0h1.3m8.5 1h1.3m-8 0.2h1.3m-0.9 1h1.3m6.5 0h1.3m-2.7 0.4h1.3m-0.4 0.1h1.3m-10.5 0.2h1.3m5.6 0.1h1.3m3.4 0.6h1.3m-8.2 1.2h1.3m12 0.8h1.3m-19.8 0.1h1.3m-1.6 0.2h1.3m9.2 0.2h1.3m-12.6 0h1.3m10.2 0h1.3m-10.4 0.7h1.3m4.6 0.1h1.3m7.1 0.2h1.3m-8.3 0.2h1.3m-10.7 0.9h1.3m14.7 0.1h1.3m-9.9 0.1h1.3m6.4 0h1.3m-17.3 0.4h1.3m1.2 0h1.3m-3.5 0.2h1.3m7.6 0h1.3m1.6 0.4h1.3m0.1 0.5h1.3m-8.3 0.7h1.3m-0.6 0.1h1.3m5.8 0.1h1.3m-3.2 0.1h1.3m-17.1 0h1.3m6.8 0.6h1.3m5 0.2h1.3m-6.6 0.4h1.3m-5.2 0.4h1.3m8.4 0h1.3m-7 0.2h1.3m2.7 0.3h1.3m14.9 0.1h1.3m-28.2 0.3h1.3m13.1 0h1.3m2.1 0.1h1.3m-3.7 0.3h1.3m-9.9 0.1h1.3m5.1 0.9h1.3m2.3 0.2h1.3m-16.6 0h1.3m13.9 0.7h1.3m1.7 0.5h1.3m-12.1 0.6h1.3m2.9 0.2h1.3m-9.9 0.3h1.3m0.9 0.2h1.3m4 0.5h1.3m-1.5 0.8h1.3m-11.3 0.2h1.3m7.9 0.2h1.3m3.7 0.1h1.3m-10.4 0.3h1.3m11.5 0.2h1.3m-7.1 1.1h1.3m-8.6 0.2h1.3m-13.6 0.1h1.3m7.2 0.7h1.3m2.1 0.3h1.3m-0.7 0.4h1.3m1.7 0.2h1.3m-3.9 0h1.3m3.9 0.6h1.3m-5.2 0h1.3m1.1 0.3h1.3m3.4 0.3h1.3m-2.9 0.4h1.3m-3.4 1h1.3m-9 0.1h1.3m6.4 1.5h1.3m-7.7 0.4h1.3m13.9 0.8h1.3m-12.4 0h1.3m4.9 0.6h1.3m-3.7 1.9h1.3m-11 1h1.3m-7.2 0.5h1.3m19.5 1h1.3m-7.8 0.5h1.3m-7.6 2.1h1.3m-2.2 0.6h1.3m5.3 1.2h1.3" stroke="#000" stroke-opacity="0.34" stroke-width="1.3" fill="none"/><path d="M301.9 531h1.3m-9.7 0.1h1.3m7.6 3.2h1.3m-16.3 0.4h1.3m-0.5 3.7h1.3m1 0h1.3m-8.2 1.1h1.3m-1.5 0.2h1.3m5.7 0.5h1.3m-11.3 0.2h1.3m12.7 0.8h1.3m-10.3 0.1h1.3m5 0.5h1.3m-2.1 0.1h1.3m-9.3 0.1h1.3m3.6 1.2h1.3m-9 0.3h1.3m-1.5 2.2h1.3m5.6 0.1h1.3m1.1 0.1h1.3m-3.3 0h1.3m-6.3 1.9h1.3m7.5 0.2h1.3m1.8 0.3h1.3m-15.9 0.3h1.3m3.5 0h1.3m-5.4 0.4h1.3m13.6 0h1.3m1.3 0.5h1.3m-6.3 0.5h1.3m7.3 0.1h1.3m-24.3 0.3h1.3m4.1 2.7h1.3m2.3 0h1.3m-2.7 2.5h1.3m6.4 0.1h1.3m-2.7 0.8h1.3m7.3 0.2h1.3m-19.8 0.1h1.3m10 0.1h1.3m-18.8 0.3h1.3m4.1 0.6h1.3m-3.8 0.5h1.3m-0.8 0.1h1.3m4.5 0.1h1.3m5.9 0.3h1.3m-12.4 0h1.3m6.8 1.3h1.3m11.7 0.2h1.3m-29.3 0.1h1.3m5 0.4h1.3m7.3 0.2h1.3m-14 0.6h1.3m0 0.1h1.3m9.3 1.1h1.3m-8.4 0h1.3m10.1 0.5h1.3m-2.8 0.1h1.3m-15 0h1.3m-2.4 0.3h1.3m4.5 2.6h1.3m3.6 0.6h1.3m-7 0.1h1.3m-6.4 0h1.3m14.3 0.5h1.3m-5.2 0h1.3m3 1h1.3m-8.5 0.2h1.3m-4.1 0.1h1.3m12.2 0.2h1.3m-2.5 0.3h1.3m-15 0.1h1.3m-2.9 0.3h1.3m7.4 0.3h1.3m2.4 0h1.3m-10.3 0.6h1.3m3.1 0.2h1.3m-2 0.1h1.3m-12 0.1h1.3m9.7 0.7h1.3m-0.2 0.2h1.3m8.9 0h1.3m-14.5 0.1h1.3m-0.4 0.5h1.3m1.4 0.2h1.3m0 0.1h1.3m4 0.1h1.3m-18 0.1h1.3m11.2 0.2h1.3m-3.2 0.6h1.3m-3.3 0.8h1.3m-11.2 0.2h1.3m12.3 0.1h1.3m-0.2 0.5h1.3m-5 0.3h1.3m-2.3 0.2h1.3m-8.4 0h1.3m13.6 0.1h1.3m-12.3 0h1.3m-2.9 0h1.3m0.3 0.1h1.3m0.4 0h1.3m-9.3 0.1h1.3m7.8 0.4h1.3m1 0.3h1.3m-10.7 0.1h1.3m2.5 0.3h1.3m-5.2 0.4h1.3m2.5 0.2h1.3m5.4 0.5h1.3m-0.4 0.1h1.3m-9.1 0.1h1.3m3.3 0.1h1.3m-1.3 0.8h1.3m-10 0.4h1.3m6.6 0.8h1.3m-2.5 0.1h1.3m2.9 0.2h1.3m1.7 0.3h1.3m-15.3 0.1h1.3m10.7 0.3h1.3m-17.2 0.1h1.3m13.8 0.1h1.3m-6.2 0.1h1.3m5.5 0.1h1.3m-4.2 0.2h1.3m-5.5 0.1h1.3m-7.5 0.7h1.3m5.9 0.1h1.3m-8.5 0.1h1.3m0.6 0h1.3m2.4 0.1h1.3m-5.5 1.2h1.3m11.1 0.4h1.3m-2.2 0.3h1.3m-15 0h1.3m14.5 0.4h1.3m-6.8 0h1.3m1.7 0h1.3m-16.4 0.6h1.3m9.9 0.3h1.3m-4.5 0.1h1.3m3.9 0.1h1.3m2.2 0.1h1.3m-10.2 0.1h1.3m0.2 0.1h1.3m-8.5 0.5h1.3m7.8 0.1h1.3m-1 0.6h1.3m6.2 0h1.3m-17.4 0.4h1.3m0.4 0.2h1.3m8.1 0h1.3m-7.9 0.2h1.3m-6.3 0.2h1.3m13.5 0.1h1.3m-3.1 0.4h1.3m-5 0h1.3m-0.4 0.4h1.3m-9.1 0h1.3m13.4 0.4h1.3m-7.9 0.6h1.3m3.8 0.3h1.3m-6.6 0.1h1.3m-3.7 0.6h1.3m4.2 0.8h1.3m-1.7 0h1.3m-6.9 0.1h1.3m-3.7 0.2h1.3m5.8 0.1h1.3m-7.7 0.6h1.3m12 0h1.3m-17.3 0.4h1.3m13.3 0.3h1.3m-15.4 0h1.3m0.4 0.7h1.3m-3.2 0.1h1.3m6.9 0h1.3m-5.5 0.8h1.3m-1.6 0.6h1.3m4.2 0.8h1.3m-1.4 0.4h1.3m-13.2 0.1h1.3m2.5 0.2h1.3m2.2 0h1.3m0.6 0.4h1.3m-8.3 0.4h1.3m-2.2 0h1.3m12.5 1.1h1.3m-10.1 0.1h1.3m18.5 0.5h1.3m-23.4 0h1.3m15.3 0.1h1.3m-18.5 0.7h1.3m9.1 0.4h1.3m5.9 0.5h1.3m-10.3 0.5h1.3m-10.7 0.2h1.3m5.4 0.3h1.3m-3.4 0.2h1.3m-5 0h1.3m-0.4 0h1.3m9.8 0.1h1.3m-12.7 0.8h1.3m7.5 1.9h1.3m-5.2 1.5h1.3m1.7 0.6h1.3m-8.5 1.3h1.3m9 0.1h1.3m-8.9 0.3h1.3m3.1 0.2h1.3m3.3 0.6h1.3m-7.2 0.6h1.3m-6.2 0.3h1.3m4.8 0h1.3m-6.5 1.7h1.3m-1 7.3h1.3m-13 0.9h1.3m22 2.7h1.3" stroke="#000" stroke-opacity="0.34" stroke-width="1.3" fill="none"/><path d="M291.4 528.9h1.3m-7 3.7h1.3m4.2 1.6h1.3m-10.2 0.3h1.3m8.3 0.3h1.3m1.4 0.8h1.3m5.6 0.8h1.3m-14.2 0.2h1.3m-1.7 0.9h1.3m3.5 1h1.3m-6.7 0.7h1.3m3.5 1.8h1.3m0.6 0.1h1.3m-10.8 0.6h1.3m11.1 0.4h1.3m-5.3 0.3h1.3m6.2 0.3h1.3m-12.6 0.2h1.3m-0.8 0.1h1.3m-0.9 0.4h1.3m-0.1 1.1h1.3m-10.5 1.1h1.3m-0.5 0h1.3m10.7 0.6h1.3m-7.7 0h1.3m5.6 0.5h1.3m-8.4 0.1h1.3m-4.4 0.1h1.3m-2.3 0.9h1.3m3.4 0.5h1.3m-1 0.4h1.3m-2.2 0.7h1.3m4.7 0.2h1.3m-7 1h1.3m5.1 0.2h1.3m-9.3 0h1.3m-0.7 0.2h1.3m0.7 0.1h1.3m1.1 0.1h1.3m2.8 0.1h1.3m5.3 0.1h1.3m-15.4 0.3h1.3m-3.7 1h1.3m4.3 0.6h1.3m-15.6 1.9h1.3m11.9 0.3h1.3m9.8 0h1.3m-11.9 0.6h1.3m-12 0.2h1.3m5.9 0.5h1.3m-2.5 0h1.3m-6.9 2.1h1.3m8.9 0.2h1.3m-6.4 0.4h1.3m-0.2 0h1.3m1.2 0h1.3m1.8 0.3h1.3m1.6 0.7h1.3m-0.1 0.3h1.3m-23.2 0.1h1.3m10.6 0.1h1.3m7.8 0.5h1.3m-11.2 0.3h1.3m-1.1 0.6h1.3m-3.5 0.2h1.3m3.4 0.1h1.3m-8.3 0.2h1.3m3.2 0h1.3m-6.5 0.6h1.3m0.7 0.7h1.3m16.6 0h1.3m-16.5 0.5h1.3m0.6 0h1.3m5.2 0.1h1.3m-16.2 1.3h1.3m20 0.1h1.3m-13.1 0.1h1.3m-0.4 1.6h1.3m-3.9 0.4h1.3m-7 0.3h1.3m4.1 0.1h1.3m-3.1 0.7h1.3m0.8 0.2h1.3m-10.2 0.1h1.3m4.1 0.4h1.3m3.6 0.2h1.3m-6.1 0.4h1.3m-1.6 0.6h1.3m-1.8 0.6h1.3m-6.5 1.1h1.3m7.5 0.4h1.3m2.5 0.2h1.3m-3.8 0.2h1.3m-6.4 0.3h1.3m2 0.5h1.3m-8.8 1h1.3m0.9 0h1.3m-3.7 0.8h1.3m8.3 0.6h1.3m-1.8 0h1.3m-1.8 0.5h1.3m0 0.2h1.3m3.8 0.2h1.3m-7.2 0.2h1.3m-15.7 0.1h1.3m12.1 0h1.3m3.8 0h1.3m-0.8 0.3h1.3m-17 0h1.3m13.3 0.1h1.3m-5.9 0.1h1.3m-9.6 0.3h1.3m1.8 0.3h1.3m-1 0.4h1.3m12.4 0.5h1.3m-4.9 0h1.3m2.5 0.2h1.3m4.3 0.7h1.3m-17.7 0.5h1.3m-0.1 0.1h1.3m-4.2 0.1h1.3m-2.2 0.1h1.3m-9.1 0.1h1.3m7.6 0.2h1.3m0 0.1h1.3m3.9 0.2h1.3m-7.4 0h1.3m-6.3 0.1h1.3m-4.8 0.3h1.3m9 0.1h1.3m-11 0h1.3m8.3 0.4h1.3m-5.6 0.1h1.3m-6.9 0.2h1.3m8.6 0.1h1.3m0 0.8h1.3m-0.3 0.4h1.3m1.6 0.2h1.3m-10.6 0.4h1.3m0.7 0h1.3m0.4 0h1.3m8.9 1.2h1.3m-13.5 0.1h1.3m4.5 0.1h1.3m-4.5 0.6h1.3m-2.5 0.4h1.3m-6 0.1h1.3m3.9 0.2h1.3m1.1 0.1h1.3m11.5 0.2h1.3m-12 0.7h1.3m-0.2 0.6h1.3m2.9 0.5h1.3m-2.6 0.1h1.3m-10.1 0.3h1.3m5.1 0.2h1.3m-2.2 0h1.3m-8.3 0.1h1.3m2.3 0.3h1.3m-8.4 0.3h1.3m-4.2 0.6h1.3m11.1 0.4h1.3m-7.1 0.4h1.3m-1.8 0h1.3m9.5 0.1h1.3m-10.3 0h1.3m3.9 0.4h1.3m2.3 0.3h1.3m-9.6 2.1h1.3m5.6 0h1.3m-9.7 0.8h1.3m4 0.3h1.3m-16.9 0.2h1.3m16.4 0.1h1.3m6.4 0.2h1.3m-23.3 0h1.3m-2.1 0.2h1.3m6.8 0.5h1.3m-0.5 0.1h1.3m-4.7 1h1.3m7 0.1h1.3m-0.3 0.5h1.3m-0.4 0.1h1.3m5 0h1.3m-13.6 0.1h1.3m-7 1.1h1.3m13.6 1h1.3m8.7 0.3h1.3m-10.7 0.3h1.3m-13.2 0.4h1.3m2.3 0h1.3m0.8 0.2h1.3m-2.6 0.1h1.3m5 0.1h1.3m-7.5 0.1h1.3m-2.4 0.3h1.3m2 0.1h1.3m-0.2 1.8h1.3m-3.9 0.5h1.3m-2.1 0.1h1.3m-0.9 0.8h1.3m0 0.2h1.3m7.9 0.5h1.3m-17.6 0.5h1.3m-2.1 0h1.3m8.4 0.1h1.3m-4.1 0h1.3m0.8 0.2h1.3m-5.2 1.1h1.3m-5.6 0.6h1.3m7.8 1.8h1.3m-3.8 0h1.3m-3.8 0.7h1.3m-1.6 1h1.3m-1.3 2.1h1.3m3.2 0.3h1.3m-7.2 1.7h1.3m-0.4 0.1h1.3m4.3 1.4h1.3" stroke="#000" stroke-opacity="0.34" stroke-width="1.3" fill="none"/><path d="M290 529.1h1.3m-8.9 0.2h1.3m10.5 2.3h1.3m-0.2 1.4h1.3m-7.1 1.2h1.3m-11.3 0.7h1.3m-0.4 2.2h1.3m-2.9 3.3h1.3m11.4 1.3h1.3m4.9 1.5h1.3m-0.8 0.5h1.3m-5.2 2h1.3m-16.7 0.1h1.3m12.6 0.2h1.3m-0.3 0h1.3m3.2 0.4h1.3m2.1 0.2h1.3m-13.7 0h1.3m-2.9 0.3h1.3m-0.8 0.5h1.3m-2.6 0h1.3m0.9 0.2h1.3m2 0.2h1.3m-5.7 1.7h1.3m-0.5 0.5h1.3m13.7 0.2h1.3m-7.5 0.2h1.3m-4.3 0.9h1.3m0.6 1.1h1.3m-0.2 0.1h1.3m-3.5 0.1h1.3m-8.5 1.1h1.3m7.5 0.6h1.3m-14.6 0.7h1.3m14.1 0.1h1.3m2.6 0h1.3m-13.4 0.3h1.3m-1 0.4h1.3m-5.4 0.3h1.3m7.7 0.9h1.3m-0.4 0.2h1.3m-2.3 0.2h1.3m-10.9 0.1h1.3m-0.6 1.4h1.3m-12.6 0.1h1.3m1.9 0.6h1.3m13.2 1.3h1.3m-11.3 0h1.3m5.5 1.1h1.3m2 0.2h1.3m-5.8 0h1.3m-6.6 0.8h1.3m-8.9 0.7h1.3m2.9 0.4h1.3m-1.2 0.2h1.3m3.6 0.2h1.3m9.4 0.3h1.3m-10 0.2h1.3m-5.4 0.2h1.3m1.4 0.5h1.3m3.9 0.2h1.3m-2 1h1.3m-4.2 0.1h1.3m5.4 0.2h1.3m-12.4 0.6h1.3m1.7 0.3h1.3m-7.9 0h1.3m1.8 0.2h1.3m2.3 0.2h1.3m8 0.4h1.3m-10.4 0.5h1.3m-0.6 0.7h1.3m-1.6 0.1h1.3m-3.9 0.4h1.3m6.1 0.6h1.3m-8.7 0.8h1.3m-1.2 0.4h1.3m9.4 0.4h1.3m-12 0.1h1.3m5.6 0h1.3m-4.1 1h1.3m4.8 0.1h1.3m-7 0.9h1.3m-4.9 0.2h1.3m-5.5 0.2h1.3m5.7 0.1h1.3m3.2 0.3h1.3m-12.3 0h1.3m2.5 0.2h1.3m0.3 0.1h1.3m-11.3 0h1.3m-1.5 0.1h1.3m10.6 0.3h1.3m-13.8 0.2h1.3m-2.2 0.6h1.3m5.8 0.1h1.3m3.8 0.1h1.3m3.9 0h1.3m-22.7 0.1h1.3m17 0.3h1.3m-7.7 0h1.3m12.2 0h1.3m-17.8 0h1.3m11.7 0.2h1.3m0.5 0.1h1.3m-9.6 0.2h1.3m-6.9 0.6h1.3m5.5 0.1h1.3m4.6 0.5h1.3m-4.6 0.2h1.3m-9.2 0.2h1.3m-0.8 0h1.3m12.2 0.2h1.3m-5.1 0.3h1.3m-11 0.7h1.3m4.2 0.2h1.3m-11.8 0.2h1.3m1.1 0.4h1.3m8.6 0h1.3m-6.3 0.3h1.3m-3.7 0h1.3m2 0h1.3m-0.9 0.1h1.3m1.7 0.1h1.3m-15.4 0.3h1.3m13 0.1h1.3m-4.9 0.1h1.3m-4.2 0.1h1.3m3.4 0.3h1.3m-9.9 0.2h1.3m1.3 0.1h1.3m-0.4 0.1h1.3m-7 0h1.3m6.7 0.5h1.3m6.1 0.2h1.3m-9.1 0.4h1.3m-4.4 0.1h1.3m-0.2 0.3h1.3m-4.1 0.1h1.3m18.1 0.2h1.3m-4.4 0.1h1.3m-11.2 0.2h1.3m2.5 0.1h1.3m-14.1 0.4h1.3m-4.7 0.1h1.3m4 0.4h1.3m14.9 0.1h1.3m-5.7 0.8h1.3m-6.4 0.3h1.3m-10.1 0.2h1.3m12.3 0.3h1.3m-9.5 1.2h1.3m-8.4 0.6h1.3m17.9 0.3h1.3m-8.9 0.3h1.3m1.7 0h1.3m-13.8 0.1h1.3m9.4 0.1h1.3m1.1 0.2h1.3m-16.3 0h1.3m7.1 0h1.3m6.6 0.1h1.3m-4.9 0h1.3m-18.9 0.5h1.3m13.7 0.4h1.3m5.1 0.2h1.3m-14.5 0.1h1.3m9.4 1h1.3m-10.6 0.1h1.3m3.1 0.8h1.3m5.1 0.4h1.3m-6.7 0.3h1.3m8.7 0.1h1.3m-12.6 0.2h1.3m-11.1 0.1h1.3m21.3 0.3h1.3m-3.2 1.5h1.3m-16.3 0.6h1.3m8.2 0h1.3m-2.3 0.1h1.3m4.2 0h1.3m-14.1 0.5h1.3m-5.1 0.2h1.3m-1.8 0.5h1.3m-3.1 0.5h1.3m22.7 0.8h1.3m-12 1.8h1.3m0.6 0.6h1.3m-5 0.1h1.3m0.3 0.3h1.3m4 0.3h1.3m-15.6 1.1h1.3m7.2 0.5h1.3m1 0.2h1.3m7.8 0.5h1.3m-14.7 0.7h1.3m-1.7 0.1h1.3m8 0.3h1.3m-2.5 0.1h1.3m2.8 0.1h1.3m-16.6 0h1.3m-3.2 0.4h1.3m14 0h1.3m-7.5 0.2h1.3m-12.1 0.2h1.3m13 0.8h1.3m-3.9 0.1h1.3m-3.2 0.9h1.3m-3.8 0.4h1.3m8 1.3h1.3m-13.8 0.6h1.3m8.2 0.3h1.3m-17.6 1.6h1.3m6.7 1.7h1.3m5.7 2.1h1.3m-10 0.7h1.3m6.2 0.2h1.3m-9.1 2.5h1.3" stroke="#000" stroke-opacity="0.34" stroke-width="1.3" fill="none"/><path d="M278.1 533.6h1.3m12.6 1.7h1.3m-5.9 0.2h1.3m0.6 0h1.3m-3.1 4h1.3m3.9 0.5h1.3m-4.3 0.1h1.3m3.4 0.5h1.3m3.4 0.8h1.3m-13.7 0.2h1.3m10.6 0.6h1.3m-0.6 0.2h1.3m-12.5 0.6h1.3m-4.7 0.1h1.3m0.5 0.1h1.3m10.4 0.6h1.3m-7.6 0.1h1.3m7.1 0.1h1.3m-4.4 0.9h1.3m-4 0.1h1.3m-2.3 0.5h1.3m-5.2 0.4h1.3m-0.7 0.4h1.3m-8.2 0h1.3m9 0.4h1.3m-2.6 0.2h1.3m-1.7 0.2h1.3m5.7 1.3h1.3m-9.7 0h1.3m-7 0.2h1.3m0.9 0.4h1.3m-0.2 0.5h1.3m-5.2 0.1h1.3m4 0.3h1.3m-3.6 0.1h1.3m9.1 0.4h1.3m4.8 0h1.3m-19.2 1h1.3m1.5 0.7h1.3m3.5 1h1.3m-3.3 1.1h1.3m-5.2 0.2h1.3m-3.2 0.9h1.3m-2.7 0h1.3m3.4 0h1.3m-1.3 0.1h1.3m-5.7 0.3h1.3m-5.9 1h1.3m0.8 0h1.3m6.3 1.1h1.3m-1.7 0.3h1.3m-17.7 0.8h1.3m6.3 0h1.3m18.5 0.1h1.3m-12.6 0.1h1.3m-3.3 0.1h1.3m-4.1 0.2h1.3m1.4 0.7h1.3m4.2 0.3h1.3m-18.5 0.3h1.3m3.2 1.2h1.3m7.9 0.2h1.3m-6.3 0.2h1.3m2.6 0.4h1.3m-8.2 0.4h1.3m-2.3 0.3h1.3m6.9 0.1h1.3m3.5 0.1h1.3m-2.6 0.2h1.3m-2.4 0.4h1.3m-0.4 0.4h1.3m-8.7 0h1.3m-5.5 0.6h1.3m2.8 0.1h1.3m8.9 0.6h1.3m-7.4 0.1h1.3m-10 0.7h1.3m-4.6 0.4h1.3m10 0.1h1.3m-0.7 0.1h1.3m-16.5 0.3h1.3m8 0h1.3m8.9 0.1h1.3m-5.3 0h1.3m-13.3 0.2h1.3m-1.2 0.4h1.3m12.8 0.9h1.3m-11.6 0.5h1.3m15.8 0.1h1.3m-8.4 0.1h1.3m0.9 0.5h1.3m-6.7 0.7h1.3m12.8 0.8h1.3m-8 0.3h1.3m-6.2 0h1.3m-3.7 0.2h1.3m-6.3 0h1.3m-4.6 0.6h1.3m14.7 0.4h1.3m-2.2 0h1.3m-6.6 0.7h1.3m-14.8 0.1h1.3m5.8 0h1.3m2.6 0.2h1.3m-3.8 0.2h1.3m4.8 0.6h1.3m-13 0h1.3m6.8 0.8h1.3m6 0.2h1.3m-19 0.3h1.3m9.8 0.1h1.3m12.8 0.5h1.3m-25.6 0.4h1.3m-4.1 0.1h1.3m8.1 0.1h1.3m-8.2 0h1.3m13.2 0.2h1.3m-8.2 0.2h1.3m7.7 0h1.3m-0.5 0.1h1.3m-0.4 0.5h1.3m-18.9 1h1.3m0.9 0.1h1.3m0 0h1.3m3.7 0.2h1.3m-13.5 0.6h1.3m21.2 0h1.3m-7.5 0.1h1.3m-9.9 0.2h1.3m11.3 0.3h1.3m-7.2 0h1.3m-3.5 0.1h1.3m4.9 0.5h1.3m-7.5 0h1.3m-10 0.2h1.3m11.2 0h1.3m10.8 0.1h1.3m-15.5 0.3h1.3m1.6 0.3h1.3m5.7 0h1.3m-11.9 0.2h1.3m-13.2 0.1h1.3m3.7 0.3h1.3m-5.7 0.2h1.3m14.8 0.1h1.3m-4.5 0.5h1.3m-2.4 0.1h1.3m-17.3 0h1.3m12.1 0.5h1.3m3.2 0h1.3m-5.2 0.1h1.3m8.8 0h1.3m-9 0.3h1.3m-9.4 0h1.3m7.5 0.2h1.3m-10.7 1h1.3m14.1 0.1h1.3m-6 0.2h1.3m-12.2 0.1h1.3m16.2 0.4h1.3m-2.5 0.2h1.3m5.3 0.2h1.3m-21.5 0.1h1.3m0.3 0.2h1.3m12.3 1.4h1.3m-9.7 0.4h1.3m-10.5 0.1h1.3m9.9 0.2h1.3m-2.7 0.7h1.3m-4.6 0.7h1.3m12.8 0.3h1.3m-18 0.1h1.3m2.9 0.9h1.3m-6.7 0.6h1.3m5.8 0.1h1.3m-7 0.8h1.3m10 1.1h1.3m2.8 0h1.3m-7.3 0.5h1.3m-3.5 0.8h1.3m-9 0h1.3m0.8 0.1h1.3m-3.9 0.6h1.3m9.2 0.4h1.3m-10.8 0.1h1.3m-6.9 0.1h1.3m17.3 0h1.3m-15.8 0.2h1.3m-4.6 0.2h1.3m14.4 1h1.3m-9.2 1.1h1.3m-7.8 0.1h1.3m1.8 0h1.3m0.7 0h1.3m0.3 0.6h1.3m1.4 0h1.3m-2.1 0.1h1.3m0.2 0h1.3m-6.1 0.5h1.3m12.8 1.5h1.3m-10.4 0.7h1.3m-9.9 2.1h1.3m16.2 1.3h1.3m4.4 0.6h1.3m-17.1 0.3h1.3m-5.7 1.4h1.3m-0.3 0.5h1.3m0 0.8h1.3m8 0h1.3m-7.7 0.1h1.3m-2.6 0.9h1.3m-7.4 0h1.3m-1 0.8h1.3m-3.4 3h1.3m8.7 0.5h1.3m-6.1 1.3h1.3m11.2 0.8h1.3m-9.8 0.2h1.3" stroke="#000" stroke-opacity="0.34" stroke-width="1.3" fill="none"/><path d="M294.1 530.5h1.3m-13.8 2.9h1.3m-1.4 0.3h1.3m11.1 0.6h1.3m-3 0.5h1.3m11.6 1.5h1.3m-17.6 0.4h1.3m-8 0.3h1.3m8 0.4h1.3m-7 1.4h1.3m3.8 0.1h1.3m-1.6 0.4h1.3m-13.6 0.7h1.3m9.7 0h1.3m-0.3 0.1h1.3m1.1 0.4h1.3m-15.1 0.4h1.3m11.1 0.7h1.3m-3.1 0.6h1.3m7.1 0.3h1.3m-13.2 0.1h1.3m4.9 0.4h1.3m0.2 1.1h1.3m-4 0.7h1.3m0.7 0.2h1.3m-5.6 1h1.3m-4.4 0.2h1.3m6.6 0.1h1.3m3.9 0.3h1.3m-12.1 0.3h1.3m0.5 0.4h1.3m6.3 1.5h1.3m-15.2 0.2h1.3m9.7 0.2h1.3m-7.3 0.3h1.3m-3.8 0.5h1.3m9.6 0.5h1.3m-12.3 1.5h1.3m-2 2.1h1.3m-1.7 0.1h1.3m10.4 0.3h1.3m-4.9 0.4h1.3m-13.2 0.1h1.3m12.9 0.6h1.3m-17.6 1.2h1.3m3.6 0.5h1.3m8.4 0.2h1.3m-2.3 0.1h1.3m-5.9 0h1.3m-1.9 0.3h1.3m10.1 0.1h1.3m-22.7 0.6h1.3m8.5 0.6h1.3m1.4 0.6h1.3m-3.4 0.6h1.3m-3.4 1.1h1.3m7.4 1.6h1.3m-21.3 0.7h1.3m11.5 0.2h1.3m-4.4 0.1h1.3m2.4 0.1h1.3m1.2 0.2h1.3m-4.1 0.2h1.3m2.8 0.7h1.3m9.1 0.4h1.3m-9.9 0.3h1.3m-15.3 0h1.3m-0.6 0.1h1.3m2.2 0.2h1.3m-11.3 0.2h1.3m9.7 0.1h1.3m-12.6 0.3h1.3m2.8 0h1.3m13.7 0.3h1.3m-12.3 0.2h1.3m7.3 0.4h1.3m-11.8 0.1h1.3m5.2 0.5h1.3m-2.9 0.4h1.3m0.5 0.2h1.3m-0.3 0.2h1.3m-10 0.3h1.3m0.6 0.2h1.3m2.2 0.9h1.3m-3.6 0.3h1.3m-1.1 0.2h1.3m-5 0.1h1.3m14.2 0.3h1.3m-3.1 0.1h1.3m-4.6 0h1.3m-3.3 0.2h1.3m-1.7 0.3h1.3m4.7 0.1h1.3m-11.6 0.1h1.3m4.7 1.7h1.3m11.2 0.1h1.3m-12.8 0h1.3m-2.6 0.5h1.3m2.9 0.2h1.3m-11 0.6h1.3m1.1 0.5h1.3m11.9 0.8h1.3m-10.7 0.2h1.3m1.5 0.3h1.3m-7.4 0.1h1.3m6.1 0h1.3m-9.3 0.1h1.3m3.1 0.1h1.3m-7.1 0h1.3m-9 0.6h1.3m27.3 0.3h1.3m-17.5 0.3h1.3m-0.1 0h1.3m-11.5 0.2h1.3m12.2 0.3h1.3m-5.2 0.1h1.3m-5 0.4h1.3m-9.8 0.1h1.3m11.4 0.9h1.3m-2.7 0.2h1.3m-14.7 0.1h1.3m12.1 0h1.3m-8.2 0.1h1.3m-4.2 0.1h1.3m-4.9 0.2h1.3m15.2 1h1.3m-6.7 0.1h1.3m10 0.1h1.3m-9.5 0.1h1.3m-6.3 0.4h1.3m11 0.1h1.3m-7.9 0.2h1.3m-8.9 0.6h1.3m-6.7 0.1h1.3m12.6 0.5h1.3m4.7 0.1h1.3m-10.3 0.1h1.3m-3.5 0.1h1.3m0.3 0.1h1.3m-1.5 0.1h1.3m-3 0.7h1.3m-5.2 0.2h1.3m-0.4 0.4h1.3m1.4 0.2h1.3m-0.5 0.5h1.3m-7.6 0.6h1.3m0.8 0.1h1.3m10.9 0.3h1.3m-1.5 0.5h1.3m-19.5 0.3h1.3m14.1 0.4h1.3m2.7 0.6h1.3m3.4 0.1h1.3m-10.8 0h1.3m-3.9 0.1h1.3m1 0.2h1.3m-12.5 0.2h1.3m13 0.1h1.3m-13.8 0.3h1.3m0.3 1.4h1.3m11.7 0.2h1.3m-12.2 0.4h1.3m6.7 0.3h1.3m-13.4 0.5h1.3m13.8 0.2h1.3m-10.1 0.1h1.3m3.7 0.3h1.3m2.5 0.4h1.3m-4.7 0.1h1.3m-3.3 0.1h1.3m-3.9 0.1h1.3m1.2 0.2h1.3m-14.5 0.1h1.3m10.8 0.1h1.3m-4.1 0.8h1.3m10.7 0.2h1.3m-12.7 0h1.3m6.3 0.3h1.3m-10.9 0.1h1.3m4.6 0.7h1.3m-3.7 0.7h1.3m-1.3 0.9h1.3m-10.3 0.1h1.3m6.3 0.1h1.3m5.3 0.1h1.3m-1.1 0.1h1.3m-1.3 0.1h1.3m6 0.6h1.3m-25.6 0.1h1.3m0.5 0.9h1.3m5.8 0.9h1.3m-3 0h1.3m5.7 0.1h1.3m-6.7 0.7h1.3m3.5 0.4h1.3m-6.3 0.2h1.3m2.5 0.8h1.3m3.2 0.1h1.3m-3.8 0.2h1.3m-0.2 0.1h1.3m4.2 0.1h1.3m-9.9 0.2h1.3m5.7 0h1.3m-14.5 0.3h1.3m13.7 0.1h1.3m-15.9 0.6h1.3m11.1 0.2h1.3m-16.9 0h1.3m21 0.8h1.3m-22.2 0.6h1.3m6.1 0.8h1.3m7.2 2.3h1.3m-6 0.9h1.3m-8.2 0.2h1.3m10.3 0.3h1.3m-14.9 3.3h1.3m17.8 1.5h1.3m-13.2 4.1h1.3" stroke="#000" stroke-opacity="0.34" stroke-width="1.3" fill="none"/></g>
<path d="M195.20 521.30H198.00M195.20 542.50H198.00M195.20 566.80H198.00M195.20 598.20H198.00M195.20 629.50H198.00M196.50 536.12H198.00M196.50 532.39H198.00M196.50 529.74H198.00M196.50 527.68H198.00M196.50 526.00H198.00M196.50 524.58H198.00M196.50 523.35H198.00M196.50 522.27H198.00M196.50 559.48H198.00M196.50 555.21H198.00M196.50 552.17H198.00M196.50 549.82H198.00M196.50 547.89H198.00M196.50 546.26H198.00M196.50 544.85H198.00M196.50 543.61H198.00M196.50 572.03H198.00M196.50 577.27H198.00M196.50 582.50H198.00M196.50 587.73H198.00M196.50 592.97H198.00M196.50 592.90H198.00M196.50 594.41H198.00M196.50 595.93H198.00M196.50 597.44H198.00M196.50 598.96H198.00M196.50 600.47H198.00M196.50 601.99H198.00M196.50 603.50H198.00M196.50 603.42H198.00M196.50 608.63H198.00M196.50 613.85H198.00M196.50 619.07H198.00M196.50 624.28H198.00M196.50 638.89H198.00M196.50 644.39H198.00M196.50 648.28H198.00M198.60 648.40V651.40M225.40 648.40V651.40M250.80 648.40V651.40M276.30 648.40V651.40M303.30 648.40V651.40M325.30 648.40V651.40M217.33 648.40V650.00M212.61 648.40V650.00M209.26 648.40V650.00M206.67 648.40V650.00M204.55 648.40V650.00M202.75 648.40V650.00M201.20 648.40V650.00M199.83 648.40V650.00M230.48 648.40V650.00M235.56 648.40V650.00M240.64 648.40V650.00M245.72 648.40V650.00M247.60 648.40V650.00M248.68 648.40V650.00M249.77 648.40V650.00M250.85 648.40V650.00M251.93 648.40V650.00M253.02 648.40V650.00M254.10 648.40V650.00M255.90 648.40V650.00M261.00 648.40V650.00M266.10 648.40V650.00M271.20 648.40V650.00M284.43 648.40V650.00M289.18 648.40V650.00M292.56 648.40V650.00M295.17 648.40V650.00M297.31 648.40V650.00M299.12 648.40V650.00M300.68 648.40V650.00M302.06 648.40V650.00M309.92 648.40V650.00M313.80 648.40V650.00M316.55 648.40V650.00M318.68 648.40V650.00M320.42 648.40V650.00M321.89 648.40V650.00M323.17 648.40V650.00M324.29 648.40V650.00" stroke="#444" stroke-width="0.8" fill="none"/>
<text x="183.90" y="527.10" font-size="5.3" fill="#666">10<tspan dx="1.3" dy="-3.2" font-size="4.7">6</tspan></text>
<text x="183.90" y="544.70" font-size="5.3" fill="#666">10<tspan dx="1.3" dy="-3.2" font-size="4.7">5</tspan></text>
<text x="183.90" y="568.50" font-size="5.3" fill="#666">10<tspan dx="1.3" dy="-3.2" font-size="4.7">4</tspan></text>
<text x="186.50" y="599.80" font-size="5.3" fill="#666">0</text>
<text x="181.10" y="632.40" font-size="5.3" fill="#666">-10<tspan dx="1.3" dy="-3.2" font-size="4.7">4</tspan></text>
<text x="200.30" y="659.80" font-size="5.3" fill="#666">-10<tspan dx="1.3" dy="-3.2" font-size="4.7">5</tspan></text>
<text x="223.70" y="659.80" font-size="5.3" fill="#666">-10<tspan dx="1.3" dy="-3.2" font-size="4.7">4</tspan></text>
<text x="251.70" y="659.80" font-size="5.3" fill="#666">0</text>
<text x="276.30" y="659.80" font-size="5.3" fill="#666">10<tspan dx="1.3" dy="-3.2" font-size="4.7">4</tspan></text>
<text x="303.30" y="659.80" font-size="5.3" fill="#666">10<tspan dx="1.3" dy="-3.2" font-size="4.7">5</tspan></text>
<text x="317.30" y="659.80" font-size="5.3" fill="#666">10<tspan dx="1.3" dy="-3.2" font-size="4.7">6</tspan></text>
<rect x="198.00" y="520.90" width="127.70" height="127.50" fill="none" stroke="#2a2a2a" stroke-width="1.1"/>
<path d="M196.20 592.30H198.00V604.30H196.20Z" fill="#1e1e1e"/>
<path d="M194.60 592.70H198.00M194.60 603.90H198.00" stroke="#999" stroke-width="1.1" fill="none"/>
<path d="M194.40 598.30H198.00" stroke="#1e1e1e" stroke-width="1.3" fill="none"/>
<path d="M247.60 648.40V651.10H254.10V648.40Z" fill="#1e1e1e"/>
<path d="M248.10 648.40V652.20M253.60 648.40V652.20" stroke="#555" stroke-width="1.1" fill="none"/>
<path d="M250.85 648.40V652.40" stroke="#1e1e1e" stroke-width="1.3" fill="none"/>
<rect x="268.50" y="524.60" width="41.40" height="39.10" fill="none" stroke="#2a2a2a" stroke-width="1.0"/>
<text font-size="15" text-anchor="middle" transform="translate(249.50 545.40)">1.58</text>
<line x1="9.50" y1="525.40" x2="9.50" y2="592.00" stroke="#333" stroke-width="0.95"/>
<path d="M9.50 521.30L6.80 526.40L9.50 525.40L12.20 526.40Z" fill="#1e1e1e"/>
<text font-size="15.85" text-anchor="middle" transform="translate(14.60 623.30) rotate(-90)">CXCR3</text>
<text font-size="15.5" transform="translate(37.00 675.80)">CD19</text>
<line x1="85.80" y1="669.80" x2="320.60" y2="669.80" stroke="#333" stroke-width="0.95"/>
<path d="M324.80 669.80L319.60 667.20L320.60 669.80L319.60 672.40Z" fill="#1e1e1e"/>
<text x="357.30" y="470.80" font-size="21.8" stroke="#222" stroke-width="0.28">H</text>
<line x1="422.60" y1="500.20" x2="422.60" y2="647.40" stroke="#333" stroke-width="1.0"/>
<line x1="422.60" y1="647.40" x2="520.50" y2="647.40" stroke="#333" stroke-width="1.0"/>
<line x1="417.10" y1="500.20" x2="422.60" y2="500.20" stroke="#333" stroke-width="1.0"/>
<text font-size="15.9" text-anchor="end" transform="translate(415.20 503.45) scale(0.93 1.0)">2.0</text>
<line x1="417.10" y1="537.00" x2="422.60" y2="537.00" stroke="#333" stroke-width="1.0"/>
<text font-size="15.9" text-anchor="end" transform="translate(415.20 540.25) scale(0.93 1.0)">1.5</text>
<line x1="417.10" y1="573.80" x2="422.60" y2="573.80" stroke="#333" stroke-width="1.0"/>
<text font-size="15.9" text-anchor="end" transform="translate(415.20 577.05) scale(0.93 1.0)">1.0</text>
<line x1="417.10" y1="610.60" x2="422.60" y2="610.60" stroke="#333" stroke-width="1.0"/>
<text font-size="15.9" text-anchor="end" transform="translate(415.20 613.85) scale(0.93 1.0)">0.5</text>
<line x1="417.10" y1="647.40" x2="422.60" y2="647.40" stroke="#333" stroke-width="1.0"/>
<text font-size="15.9" text-anchor="end" transform="translate(415.20 650.65) scale(0.93 1.0)">0.0</text>
<line x1="450.30" y1="647.40" x2="450.30" y2="652.90" stroke="#333" stroke-width="1.0"/>
<text font-size="14.0" text-anchor="middle" transform="translate(453.20 665.80) scale(0.92 1.0)">JIA</text>
<line x1="450.30" y1="598.80" x2="450.30" y2="622.20" stroke="#333" stroke-width="0.9"/>
<line x1="436.60" y1="612.30" x2="464.50" y2="612.30" stroke="#333" stroke-width="1.0"/>
<line x1="443.30" y1="598.80" x2="457.90" y2="598.80" stroke="#333" stroke-width="1.0"/>
<line x1="443.30" y1="622.20" x2="457.90" y2="622.20" stroke="#333" stroke-width="1.0"/>
<circle cx="450.30" cy="588.40" r="2.05" fill="#fff" stroke="#1e1e1e" stroke-width="0.95"/>
<circle cx="446.10" cy="598.50" r="2.05" fill="#fff" stroke="#1e1e1e" stroke-width="0.95"/>
<circle cx="455.00" cy="598.10" r="2.05" fill="#fff" stroke="#1e1e1e" stroke-width="0.95"/>
<circle cx="446.10" cy="607.40" r="2.05" fill="#fff" stroke="#1e1e1e" stroke-width="0.95"/>
<circle cx="455.00" cy="609.50" r="2.05" fill="#fff" stroke="#1e1e1e" stroke-width="0.95"/>
<circle cx="446.10" cy="615.00" r="2.05" fill="#fff" stroke="#1e1e1e" stroke-width="0.95"/>
<circle cx="455.00" cy="616.10" r="2.05" fill="#fff" stroke="#1e1e1e" stroke-width="0.95"/>
<circle cx="450.30" cy="620.90" r="2.05" fill="#fff" stroke="#1e1e1e" stroke-width="0.95"/>
<circle cx="455.00" cy="626.50" r="2.05" fill="#fff" stroke="#1e1e1e" stroke-width="0.95"/>
<circle cx="446.10" cy="629.80" r="2.05" fill="#fff" stroke="#1e1e1e" stroke-width="0.95"/>
<line x1="492.60" y1="647.40" x2="492.60" y2="652.90" stroke="#333" stroke-width="1.0"/>
<text font-size="14.0" text-anchor="middle" transform="translate(493.80 665.80) scale(0.92 1.0)">JIA</text>
<text font-size="14.0" text-anchor="middle" transform="translate(493.80 681.60) scale(0.92 1.0)">Uveitis</text>
<line x1="492.60" y1="541.30" x2="492.60" y2="610.40" stroke="#333" stroke-width="0.9"/>
<line x1="478.70" y1="598.50" x2="506.60" y2="598.50" stroke="#333" stroke-width="1.0"/>
<line x1="485.40" y1="541.30" x2="500.00" y2="541.30" stroke="#333" stroke-width="1.0"/>
<line x1="485.40" y1="610.40" x2="500.00" y2="610.40" stroke="#333" stroke-width="1.0"/>
<circle cx="492.50" cy="525.00" r="2.2" fill="#1a1a1a"/>
<circle cx="492.50" cy="530.90" r="2.2" fill="#1a1a1a"/>
<circle cx="487.70" cy="552.50" r="2.2" fill="#1a1a1a"/>
<circle cx="497.20" cy="551.70" r="2.2" fill="#1a1a1a"/>
<circle cx="483.50" cy="599.80" r="2.2" fill="#1a1a1a"/>
<circle cx="492.60" cy="598.10" r="2.2" fill="#1a1a1a"/>
<circle cx="501.50" cy="600.90" r="2.2" fill="#1a1a1a"/>
<circle cx="497.20" cy="620.30" r="2.2" fill="#1a1a1a"/>
<circle cx="487.90" cy="624.60" r="2.2" fill="#1a1a1a"/>
<path d="M450.30 512.80V504.20H492.80V512.80" fill="none" stroke="#333" stroke-width="1.0"/>
<text font-size="14.3" text-anchor="middle" transform="translate(471.55 500.50) scale(0.93 1.0)">0.0684</text>
<text font-size="15.0" text-anchor="middle" transform="translate(367.70 572.50) rotate(-90)">% of CXCR3<tspan dx="0.67" dy="-5.40" font-size="7.50">+</tspan></text>
<text font-size="14.95" text-anchor="middle" transform="translate(385.70 570.20) rotate(-90)">DN1 B cells</text></svg>
</body></html>
